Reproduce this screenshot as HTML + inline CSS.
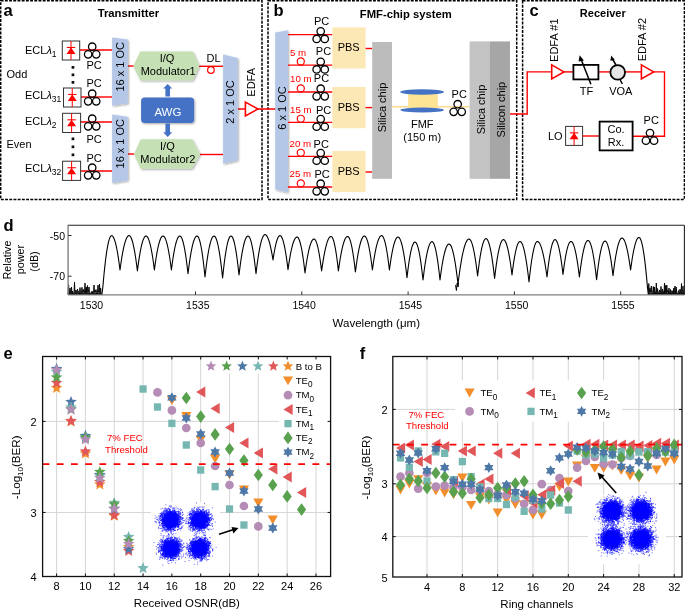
<!DOCTYPE html>
<html><head><meta charset="utf-8"><title>Figure</title>
<style>
html,body{margin:0;padding:0;background:#fff;width:685px;height:611px;overflow:hidden;}
svg{display:block;font-family:"Liberation Sans", sans-serif;opacity:0.999;}
</style></head><body>
<svg width="685" height="611" viewBox="0 0 685 611" font-family="&quot;Liberation Sans&quot;, sans-serif">
<rect x="0.7" y="0.7" width="261.3" height="198.7" fill="none" stroke="#000" stroke-width="1.5" stroke-dasharray="2.9 1.3"/>
<rect x="268" y="0.7" width="248.7" height="198.7" fill="none" stroke="#000" stroke-width="1.5" stroke-dasharray="2.9 1.3"/>
<rect x="522.6" y="0.7" width="161.8" height="198.7" fill="none" stroke="#000" stroke-width="1.5" stroke-dasharray="2.9 1.3"/>
<text x="3.6" y="16" font-size="16.5" text-anchor="start" fill="#000" font-weight="bold">a</text>
<text x="128.4" y="17" font-size="11.3" text-anchor="middle" fill="#000" font-weight="bold">Transmitter</text>
<line x1="79.7" y1="50" x2="112.2" y2="50" stroke="#ff0000" stroke-width="1.4"/>
<line x1="81" y1="97" x2="112.2" y2="97" stroke="#ff0000" stroke-width="1.4"/>
<line x1="80.6" y1="122" x2="112.2" y2="122" stroke="#ff0000" stroke-width="1.4"/>
<line x1="80.6" y1="171" x2="112.2" y2="171" stroke="#ff0000" stroke-width="1.4"/>
<line x1="127.8" y1="66" x2="134" y2="66" stroke="#ff0000" stroke-width="1.4"/>
<line x1="127.8" y1="154" x2="134" y2="154" stroke="#ff0000" stroke-width="1.4"/>
<line x1="199" y1="66.3" x2="223.2" y2="66.3" stroke="#ff0000" stroke-width="1.4"/>
<line x1="200" y1="154.5" x2="223.2" y2="154.5" stroke="#ff0000" stroke-width="1.4"/>
<line x1="237.7" y1="109" x2="276" y2="109" stroke="#ff0000" stroke-width="1.4"/>
<rect x="62.3" y="41" width="17.4" height="19" fill="#fff" stroke="#333" stroke-width="1" rx="0"/>
<line x1="71" y1="41" x2="71" y2="60" stroke="#ff0000" stroke-width="1"/>
<line x1="66.8" y1="47.46" x2="75.2" y2="47.46" stroke="#ff0000" stroke-width="1.1"/>
<polygon points="71,47.46 66.5,53.92 75.5,53.92" fill="#ff0000" stroke="none" stroke-width="1"/>
<rect x="63.5" y="88" width="17.5" height="19" fill="#fff" stroke="#333" stroke-width="1" rx="0"/>
<line x1="72.25" y1="88" x2="72.25" y2="107" stroke="#ff0000" stroke-width="1"/>
<line x1="68.05" y1="94.46" x2="76.45" y2="94.46" stroke="#ff0000" stroke-width="1.1"/>
<polygon points="72.25,94.46 67.75,100.92 76.75,100.92" fill="#ff0000" stroke="none" stroke-width="1"/>
<rect x="62.6" y="113.3" width="18" height="19.2" fill="#fff" stroke="#333" stroke-width="1" rx="0"/>
<line x1="71.6" y1="113.3" x2="71.6" y2="132.5" stroke="#ff0000" stroke-width="1"/>
<line x1="67.4" y1="119.83" x2="75.8" y2="119.83" stroke="#ff0000" stroke-width="1.1"/>
<polygon points="71.6,119.83 67.1,126.36 76.1,126.36" fill="#ff0000" stroke="none" stroke-width="1"/>
<rect x="62.6" y="161.2" width="18" height="19.2" fill="#fff" stroke="#333" stroke-width="1" rx="0"/>
<line x1="71.6" y1="161.2" x2="71.6" y2="180.4" stroke="#ff0000" stroke-width="1"/>
<line x1="67.4" y1="167.73" x2="75.8" y2="167.73" stroke="#ff0000" stroke-width="1.1"/>
<polygon points="71.6,167.73 67.1,174.26 76.1,174.26" fill="#ff0000" stroke="none" stroke-width="1"/>
<text x="25" y="53.8" font-size="11" text-anchor="start" fill="#000">ECL<tspan font-style="italic">&#955;</tspan><tspan font-size="8.5" dy="3">1</tspan></text>
<text x="25" y="99.2" font-size="11" text-anchor="start" fill="#000">ECL<tspan font-style="italic">&#955;</tspan><tspan font-size="8.5" dy="3">31</tspan></text>
<text x="25" y="125.3" font-size="11" text-anchor="start" fill="#000">ECL<tspan font-style="italic">&#955;</tspan><tspan font-size="8.5" dy="3">2</tspan></text>
<text x="25" y="171.8" font-size="11" text-anchor="start" fill="#000">ECL<tspan font-style="italic">&#955;</tspan><tspan font-size="8.5" dy="3">32</tspan></text>
<text x="6.5" y="77.8" font-size="11" text-anchor="start" fill="#000">Odd</text>
<text x="6.5" y="148.2" font-size="11" text-anchor="start" fill="#000">Even</text>
<rect x="71.6" y="66" width="2.7" height="2.7" fill="#111" stroke="none" stroke-width="1" rx="0"/>
<rect x="71.6" y="73.5" width="2.7" height="2.7" fill="#111" stroke="none" stroke-width="1" rx="0"/>
<rect x="71.6" y="81" width="2.7" height="2.7" fill="#111" stroke="none" stroke-width="1" rx="0"/>
<rect x="71.6" y="137.5" width="2.7" height="2.7" fill="#111" stroke="none" stroke-width="1" rx="0"/>
<rect x="71.6" y="145.5" width="2.7" height="2.7" fill="#111" stroke="none" stroke-width="1" rx="0"/>
<rect x="71.6" y="153.5" width="2.7" height="2.7" fill="#111" stroke="none" stroke-width="1" rx="0"/>
<circle cx="92.2" cy="46.7" r="3.7" fill="none" stroke="#000" stroke-width="1.3"/>
<circle cx="88.15" cy="54.35" r="3.7" fill="none" stroke="#000" stroke-width="1.3"/>
<circle cx="96.25" cy="54.35" r="3.7" fill="none" stroke="#000" stroke-width="1.3"/>
<circle cx="92.2" cy="93.7" r="3.7" fill="none" stroke="#000" stroke-width="1.3"/>
<circle cx="88.15" cy="101.35" r="3.7" fill="none" stroke="#000" stroke-width="1.3"/>
<circle cx="96.25" cy="101.35" r="3.7" fill="none" stroke="#000" stroke-width="1.3"/>
<circle cx="92.2" cy="118.7" r="3.7" fill="none" stroke="#000" stroke-width="1.3"/>
<circle cx="88.15" cy="126.35" r="3.7" fill="none" stroke="#000" stroke-width="1.3"/>
<circle cx="96.25" cy="126.35" r="3.7" fill="none" stroke="#000" stroke-width="1.3"/>
<circle cx="92.2" cy="167.7" r="3.7" fill="none" stroke="#000" stroke-width="1.3"/>
<circle cx="88.15" cy="175.35" r="3.7" fill="none" stroke="#000" stroke-width="1.3"/>
<circle cx="96.25" cy="175.35" r="3.7" fill="none" stroke="#000" stroke-width="1.3"/>
<text x="86.4" y="68.5" font-size="11" text-anchor="start" fill="#000">PC</text>
<text x="86.4" y="86.5" font-size="11" text-anchor="start" fill="#000">PC</text>
<text x="86.4" y="143" font-size="11" text-anchor="start" fill="#000">PC</text>
<text x="86.4" y="161.5" font-size="11" text-anchor="start" fill="#000">PC</text>
<defs><filter id="sh" x="-20%" y="-20%" width="150%" height="150%"><feGaussianBlur in="SourceAlpha" stdDeviation="0.8"/><feOffset dx="1.2" dy="1.2" result="b"/><feComponentTransfer><feFuncA type="linear" slope="0.35"/></feComponentTransfer><feMerge><feMergeNode/><feMergeNode in="SourceGraphic"/></feMerge></filter></defs>
<polygon points="112.1,37.4 127.8,39.6 127.8,103.5 112.1,105.7" fill="#b4c7e7" stroke="none" stroke-width="1" filter="url(#sh)"/>
<polygon points="112.1,114.4 127.8,116.8 127.8,180.6 112.1,183" fill="#b4c7e7" stroke="none" stroke-width="1" filter="url(#sh)"/>
<text x="120.4" y="66.8" font-size="11" text-anchor="middle" fill="#000" transform="rotate(-90 120.4 66.8)" dominant-baseline="central">16 x 1 OC</text>
<text x="120.4" y="143.7" font-size="11" text-anchor="middle" fill="#000" transform="rotate(-90 120.4 143.7)" dominant-baseline="central">16 x 1 OC</text>
<polygon points="133.2,66.05 140.4,51.5 192.8,51.5 199.3,66.05 192.8,80.6 140.4,80.6" fill="#c5e0b4" stroke="none" stroke-width="1" filter="url(#sh)"/>
<polygon points="133.9,153.95 140.8,139.2 192.1,139.2 200,153.95 192.1,168.7 140.8,168.7" fill="#c5e0b4" stroke="none" stroke-width="1" filter="url(#sh)"/>
<text x="167" y="62" font-size="11" text-anchor="middle" fill="#000">I/Q</text>
<text x="168.2" y="74.6" font-size="11" text-anchor="middle" fill="#000">Modulator1</text>
<text x="167.4" y="150.4" font-size="11" text-anchor="middle" fill="#000">I/Q</text>
<text x="167.8" y="162.5" font-size="11" text-anchor="middle" fill="#000">Modulator2</text>
<rect x="141.1" y="97.4" width="53" height="25.7" fill="#4472c4" stroke="none" stroke-width="1" rx="3.5" filter="url(#sh)"/>
<text x="167.9" y="115.7" font-size="11.5" text-anchor="middle" fill="#fff">AWG</text>
<polygon points="165.4,96.5 165.4,88.5 163.2,88.5 167.7,84 172.2,88.5 170,88.5 170,96.5" fill="#4472c4" stroke="none" stroke-width="1"/>
<polygon points="165.4,123.5 165.4,132.3 163.2,132.3 167.7,137 172.2,132.3 170,132.3 170,123.5" fill="#4472c4" stroke="none" stroke-width="1"/>
<text x="206.5" y="61.7" font-size="11" text-anchor="start" fill="#000">DL</text>
<circle cx="210.9" cy="70" r="3.3" fill="none" stroke="#ff0000" stroke-width="1.2"/>
<polygon points="223.1,54.4 237.7,58.1 237.7,160.4 223.1,163.8" fill="#b4c7e7" stroke="none" stroke-width="1" filter="url(#sh)"/>
<text x="230.4" y="102" font-size="11" text-anchor="middle" fill="#000" transform="rotate(-90 230.4 102)" dominant-baseline="central">2 x 1 OC</text>
<polygon points="245.4,102.15 258,109 245.4,115.85" fill="#fff" stroke="#ff0000" stroke-width="1.6"/>
<text x="251.4" y="82.3" font-size="11" text-anchor="middle" fill="#000" transform="rotate(-90 251.4 82.3)" dominant-baseline="central">EDFA</text>
<text x="273.4" y="15.8" font-size="16.5" text-anchor="start" fill="#000" font-weight="bold">b</text>
<text x="405.8" y="17.5" font-size="11.25" text-anchor="middle" fill="#000" font-weight="bold">FMF-chip system</text>
<polygon points="275.2,32.4 287.9,30.3 287.9,192.4 275.2,189.4" fill="#b4c7e7" stroke="none" stroke-width="1" filter="url(#sh)"/>
<text x="281.6" y="108" font-size="11" text-anchor="middle" fill="#000" transform="rotate(-90 281.6 108)" dominant-baseline="central">6 x 1 OC</text>
<line x1="287.9" y1="34.6" x2="332.4" y2="34.6" stroke="#ff0000" stroke-width="1.4"/>
<line x1="287.9" y1="65.1" x2="332.4" y2="65.1" stroke="#ff0000" stroke-width="1.4"/>
<line x1="287.9" y1="92" x2="332.4" y2="92" stroke="#ff0000" stroke-width="1.4"/>
<line x1="287.9" y1="122.4" x2="332.4" y2="122.4" stroke="#ff0000" stroke-width="1.4"/>
<line x1="287.9" y1="156.4" x2="332.4" y2="156.4" stroke="#ff0000" stroke-width="1.4"/>
<line x1="287.9" y1="187" x2="332.4" y2="187" stroke="#ff0000" stroke-width="1.4"/>
<rect x="332.4" y="27.4" width="33.2" height="41.1" fill="#fce8b4" stroke="none" stroke-width="1" rx="0"/>
<rect x="332.4" y="87" width="33.2" height="41.2" fill="#fce8b4" stroke="none" stroke-width="1" rx="0"/>
<rect x="332.4" y="150.9" width="33.2" height="41.1" fill="#fce8b4" stroke="none" stroke-width="1" rx="0"/>
<text x="348.7" y="50.9" font-size="11" text-anchor="middle" fill="#000">PBS</text>
<line x1="365.6" y1="48.5" x2="372.4" y2="48.5" stroke="#ff0000" stroke-width="1.4"/>
<text x="348.7" y="111.2" font-size="11" text-anchor="middle" fill="#000">PBS</text>
<line x1="365.6" y1="107.6" x2="372.4" y2="107.6" stroke="#ff0000" stroke-width="1.4"/>
<text x="348.7" y="175.3" font-size="11" text-anchor="middle" fill="#000">PBS</text>
<line x1="365.6" y1="172" x2="372.4" y2="172" stroke="#ff0000" stroke-width="1.4"/>
<text x="314" y="25.2" font-size="11" text-anchor="start" fill="#000">PC</text>
<text x="315.8" y="55.4" font-size="11" text-anchor="start" fill="#000">PC</text>
<text x="313.8" y="82" font-size="11" text-anchor="start" fill="#000">PC</text>
<text x="316" y="113.6" font-size="11" text-anchor="start" fill="#000">PC</text>
<text x="313.6" y="147.6" font-size="11" text-anchor="start" fill="#000">PC</text>
<text x="314.4" y="178" font-size="11" text-anchor="start" fill="#000">PC</text>
<circle cx="320.7" cy="31.3" r="3.7" fill="none" stroke="#000" stroke-width="1.3"/>
<circle cx="316.65" cy="38.95" r="3.7" fill="none" stroke="#000" stroke-width="1.3"/>
<circle cx="324.75" cy="38.95" r="3.7" fill="none" stroke="#000" stroke-width="1.3"/>
<circle cx="320.7" cy="61.8" r="3.7" fill="none" stroke="#000" stroke-width="1.3"/>
<circle cx="316.65" cy="69.45" r="3.7" fill="none" stroke="#000" stroke-width="1.3"/>
<circle cx="324.75" cy="69.45" r="3.7" fill="none" stroke="#000" stroke-width="1.3"/>
<circle cx="320.7" cy="88.7" r="3.7" fill="none" stroke="#000" stroke-width="1.3"/>
<circle cx="316.65" cy="96.35" r="3.7" fill="none" stroke="#000" stroke-width="1.3"/>
<circle cx="324.75" cy="96.35" r="3.7" fill="none" stroke="#000" stroke-width="1.3"/>
<circle cx="320.7" cy="119.1" r="3.7" fill="none" stroke="#000" stroke-width="1.3"/>
<circle cx="316.65" cy="126.75" r="3.7" fill="none" stroke="#000" stroke-width="1.3"/>
<circle cx="324.75" cy="126.75" r="3.7" fill="none" stroke="#000" stroke-width="1.3"/>
<circle cx="320.7" cy="153.1" r="3.7" fill="none" stroke="#000" stroke-width="1.3"/>
<circle cx="316.65" cy="160.75" r="3.7" fill="none" stroke="#000" stroke-width="1.3"/>
<circle cx="324.75" cy="160.75" r="3.7" fill="none" stroke="#000" stroke-width="1.3"/>
<circle cx="320.7" cy="183.7" r="3.7" fill="none" stroke="#000" stroke-width="1.3"/>
<circle cx="316.65" cy="191.35" r="3.7" fill="none" stroke="#000" stroke-width="1.3"/>
<circle cx="324.75" cy="191.35" r="3.7" fill="none" stroke="#000" stroke-width="1.3"/>
<text x="290" y="55.9" font-size="9.7" text-anchor="start" fill="#ff0000">5 m</text>
<circle cx="300.8" cy="61.5" r="3.55" fill="none" stroke="#ff0000" stroke-width="1.2"/>
<text x="290" y="82.3" font-size="9.7" text-anchor="start" fill="#ff0000">10 m</text>
<circle cx="300.8" cy="88.4" r="3.55" fill="none" stroke="#ff0000" stroke-width="1.2"/>
<text x="290" y="112.6" font-size="9.7" text-anchor="start" fill="#ff0000">15 m</text>
<circle cx="300.8" cy="118.8" r="3.55" fill="none" stroke="#ff0000" stroke-width="1.2"/>
<text x="289.6" y="146.8" font-size="9.7" text-anchor="start" fill="#ff0000">20 m</text>
<circle cx="300.8" cy="152.8" r="3.55" fill="none" stroke="#ff0000" stroke-width="1.2"/>
<text x="289.6" y="177.2" font-size="9.7" text-anchor="start" fill="#ff0000">25 m</text>
<circle cx="300.8" cy="183.4" r="3.55" fill="none" stroke="#ff0000" stroke-width="1.2"/>
<rect x="372.2" y="42" width="19.8" height="136.8" fill="#bcbcbc" stroke="none" stroke-width="1" rx="0"/>
<text x="382.3" y="107.5" font-size="11" text-anchor="middle" fill="#000" transform="rotate(-90 382.3 107.5)" dominant-baseline="central">Silica chip</text>
<line x1="391.8" y1="106.7" x2="469.6" y2="106.7" stroke="#fcd98c" stroke-width="1.6"/>
<rect x="408.2" y="93.5" width="29.6" height="15" fill="#ffe699" stroke="none" stroke-width="1" rx="0"/>
<g stroke="#f0d27a" stroke-width="0.4" stroke-opacity="0.5"><line x1="408.6" y1="94.5" x2="408.6" y2="107.5"/><line x1="410.2" y1="94.5" x2="410.2" y2="107.5"/><line x1="411.8" y1="94.5" x2="411.8" y2="107.5"/><line x1="413.4" y1="94.5" x2="413.4" y2="107.5"/><line x1="415" y1="94.5" x2="415" y2="107.5"/><line x1="416.6" y1="94.5" x2="416.6" y2="107.5"/><line x1="418.2" y1="94.5" x2="418.2" y2="107.5"/><line x1="419.8" y1="94.5" x2="419.8" y2="107.5"/><line x1="421.4" y1="94.5" x2="421.4" y2="107.5"/><line x1="423" y1="94.5" x2="423" y2="107.5"/><line x1="424.6" y1="94.5" x2="424.6" y2="107.5"/><line x1="426.2" y1="94.5" x2="426.2" y2="107.5"/><line x1="427.8" y1="94.5" x2="427.8" y2="107.5"/><line x1="429.4" y1="94.5" x2="429.4" y2="107.5"/><line x1="431" y1="94.5" x2="431" y2="107.5"/><line x1="432.6" y1="94.5" x2="432.6" y2="107.5"/><line x1="434.2" y1="94.5" x2="434.2" y2="107.5"/><line x1="435.8" y1="94.5" x2="435.8" y2="107.5"/><line x1="437.4" y1="94.5" x2="437.4" y2="107.5"/></g>
<ellipse cx="422.1" cy="92" rx="22" ry="2.8" fill="#4472c4"/>
<ellipse cx="422.2" cy="110" rx="21.8" ry="2.6" fill="#4472c4"/>
<text x="422.3" y="127.8" font-size="11" text-anchor="middle" fill="#000">FMF</text>
<text x="422.2" y="141.4" font-size="11" text-anchor="middle" fill="#000">(150 m)</text>
<circle cx="457.7" cy="104.2" r="3.7" fill="none" stroke="#000" stroke-width="1.3"/>
<circle cx="453.65" cy="111.85" r="3.7" fill="none" stroke="#000" stroke-width="1.3"/>
<circle cx="461.75" cy="111.85" r="3.7" fill="none" stroke="#000" stroke-width="1.3"/>
<text x="451.6" y="98" font-size="11" text-anchor="start" fill="#000">PC</text>
<rect x="469.6" y="41.4" width="20.4" height="137.4" fill="#c3c3c3" stroke="none" stroke-width="1" rx="0"/>
<rect x="490" y="41.4" width="20" height="137.4" fill="#a6a6a6" stroke="none" stroke-width="1" rx="0"/>
<text x="480.5" y="109.5" font-size="11" text-anchor="middle" fill="#000" transform="rotate(-90 480.5 109.5)" dominant-baseline="central">Silica chip</text>
<text x="500.6" y="109.6" font-size="11" text-anchor="middle" fill="#000" transform="rotate(-90 500.6 109.6)" dominant-baseline="central">Silicon chip</text>
<polyline points="510,114 527.2,114 527.2,71.9 551.7,71.9" fill="none" stroke="#ff0000" stroke-width="1.4"/>
<text x="529.4" y="15.8" font-size="16.5" text-anchor="start" fill="#000" font-weight="bold">c</text>
<text x="602.8" y="17.3" font-size="11" text-anchor="middle" fill="#000" font-weight="bold">Receiver</text>
<line x1="563.9" y1="71.9" x2="573.4" y2="71.9" stroke="#ff0000" stroke-width="1.4"/>
<line x1="598.4" y1="71.9" x2="610.3" y2="71.9" stroke="#ff0000" stroke-width="1.4"/>
<line x1="625.1" y1="71.9" x2="641.4" y2="71.9" stroke="#ff0000" stroke-width="1.4"/>
<polyline points="653.6,71.9 664.5,71.9 664.5,136.3 632.6,136.3" fill="none" stroke="#ff0000" stroke-width="1.4"/>
<polygon points="551.7,64.9 563.9,71.9 551.7,78.9" fill="#fff" stroke="#ff0000" stroke-width="1.6"/>
<polygon points="641.4,64.9 653.6,71.9 641.4,78.9" fill="#fff" stroke="#ff0000" stroke-width="1.6"/>
<text x="554.2" y="40.2" font-size="11" text-anchor="middle" fill="#000" transform="rotate(-90 554.2 40.2)" dominant-baseline="central">EDFA #1</text>
<text x="642.2" y="39.6" font-size="11" text-anchor="middle" fill="#000" transform="rotate(-90 642.2 39.6)" dominant-baseline="central">EDFA #2</text>
<rect x="573.4" y="64.9" width="25" height="14.5" fill="#fff" stroke="#000" stroke-width="1.8" rx="0"/>
<line x1="590.9" y1="84.2" x2="581.2" y2="59.5" stroke="#000" stroke-width="1.5"/>
<polygon points="579.6,55.3 583.9,60.6 578.6,61.4" fill="#000" stroke="none" stroke-width="1"/>
<text x="586.6" y="94.7" font-size="11" text-anchor="middle" fill="#000">TF</text>
<circle cx="617.7" cy="72.4" r="7.3" fill="#e7e6e6" stroke="#000" stroke-width="1.8"/>
<line x1="616" y1="65" x2="612.5" y2="59" stroke="#000" stroke-width="1.5"/>
<polygon points="611.2,55.6 614.8,60 610.4,60.8" fill="#000" stroke="none" stroke-width="1"/>
<line x1="620.2" y1="80" x2="622.4" y2="84" stroke="#000" stroke-width="1.5"/>
<text x="620.8" y="94.7" font-size="11" text-anchor="middle" fill="#000">VOA</text>
<rect x="565.6" y="126.4" width="17" height="19" fill="#fff" stroke="#333" stroke-width="1" rx="0"/>
<line x1="574.1" y1="126.4" x2="574.1" y2="145.4" stroke="#ff0000" stroke-width="1"/>
<line x1="569.9" y1="132.86" x2="578.3" y2="132.86" stroke="#ff0000" stroke-width="1.1"/>
<polygon points="574.1,132.86 569.6,139.32 578.6,139.32" fill="#ff0000" stroke="none" stroke-width="1"/>
<text x="548" y="140.2" font-size="11" text-anchor="start" fill="#000">LO</text>
<line x1="582.6" y1="136" x2="599.6" y2="136" stroke="#ff0000" stroke-width="1.4"/>
<rect x="599.6" y="121.6" width="33" height="28.8" fill="#fff" stroke="#000" stroke-width="1.8" rx="0"/>
<text x="616.1" y="133.1" font-size="11" text-anchor="middle" fill="#000">Co.</text>
<text x="616.1" y="145.6" font-size="11" text-anchor="middle" fill="#000">Rx.</text>
<circle cx="650" cy="133" r="3.7" fill="none" stroke="#000" stroke-width="1.3"/>
<circle cx="645.95" cy="140.65" r="3.7" fill="none" stroke="#000" stroke-width="1.3"/>
<circle cx="654.05" cy="140.65" r="3.7" fill="none" stroke="#000" stroke-width="1.3"/>
<text x="643.6" y="124.2" font-size="11" text-anchor="start" fill="#000">PC</text>
<text x="3.6" y="230.8" font-size="16.5" text-anchor="start" fill="#000" font-weight="bold">d</text>
<path d="M101.8 294.9 L102.78 287.76 L103.76 276.82 L104.74 267.16 L105.72 258.78 L106.7 251.7 L107.68 245.9 L108.66 241.4 L109.64 238.18 L110.62 236.24 L111.6 235.6 L112.44 235.94 L113.28 236.98 L114.12 238.7 L114.96 241.1 L115.8 244.2 L116.64 247.98 L117.48 252.46 L118.32 257.62 L119.16 263.46 L120 270 L120 270 L120.9 263.46 L121.8 257.62 L122.7 252.46 L123.6 247.98 L124.5 244.2 L125.4 241.1 L126.3 238.7 L127.2 236.98 L128.1 235.94 L129 235.6 L129.84 235.95 L130.68 237.02 L131.52 238.79 L132.36 241.26 L133.2 244.45 L134.04 248.34 L134.88 252.95 L135.72 258.26 L136.56 264.27 L137.4 271 L137.4 271 L138.26 264.35 L139.12 258.4 L139.98 253.15 L140.84 248.6 L141.7 244.75 L142.56 241.6 L143.42 239.15 L144.28 237.4 L145.14 236.35 L146 236 L146.84 236.34 L147.68 237.36 L148.52 239.06 L149.36 241.44 L150.2 244.5 L151.04 248.24 L151.88 252.66 L152.72 257.76 L153.56 263.54 L154.4 270 L154.4 270 L155.26 263.54 L156.12 257.76 L156.98 252.66 L157.84 248.24 L158.7 244.5 L159.56 241.44 L160.42 239.06 L161.28 237.36 L162.14 236.34 L163 236 L163.84 236.34 L164.68 237.36 L165.52 239.06 L166.36 241.44 L167.2 244.5 L168.04 248.24 L168.88 252.66 L169.72 257.76 L170.56 263.54 L171.4 270 L171.4 270 L172.24 263.54 L173.08 257.76 L173.92 252.66 L174.76 248.24 L175.6 244.5 L176.44 241.44 L177.28 239.06 L178.12 237.36 L178.96 236.34 L179.8 236 L180.62 236.38 L181.44 237.5 L182.26 239.38 L183.08 242.02 L183.9 245.4 L184.72 249.54 L185.54 254.42 L186.36 260.06 L187.18 266.46 L188 273.6 L188 273.6 L188.9 266.46 L189.8 260.06 L190.7 254.42 L191.6 249.54 L192.5 245.4 L193.4 242.02 L194.3 239.38 L195.2 237.5 L196.1 236.38 L197 236 L197.8 236.41 L198.6 237.64 L199.4 239.69 L200.2 242.56 L201 246.25 L201.8 250.76 L202.6 256.09 L203.4 262.24 L204.2 269.21 L205 277 L205 277 L205.9 269.21 L206.8 262.24 L207.7 256.09 L208.6 250.76 L209.5 246.25 L210.4 242.56 L211.3 239.69 L212.2 237.64 L213.1 236.41 L214 236 L214.86 236.42 L215.72 237.68 L216.58 239.78 L217.44 242.72 L218.3 246.5 L219.16 251.12 L220.02 256.58 L220.88 262.88 L221.74 270.02 L222.6 278 L222.6 278 L223.44 270.02 L224.28 262.88 L225.12 256.58 L225.96 251.12 L226.8 246.5 L227.64 242.72 L228.48 239.78 L229.32 237.68 L230.16 236.42 L231 236 L231.8 236.39 L232.6 237.56 L233.4 239.51 L234.2 242.24 L235 245.75 L235.8 250.04 L236.6 255.11 L237.4 260.96 L238.2 267.59 L239 275 L239 275 L239.9 267.59 L240.8 260.96 L241.7 255.11 L242.6 250.04 L243.5 245.75 L244.4 242.24 L245.3 239.51 L246.2 237.56 L247.1 236.39 L248 236 L248.8 236.38 L249.6 237.5 L250.4 239.38 L251.2 242.02 L252 245.4 L252.8 249.54 L253.6 254.42 L254.4 260.06 L255.2 266.46 L256 273.6 L256 273.6 L256.9 266.19 L257.8 259.56 L258.7 253.71 L259.6 248.64 L260.5 244.35 L261.4 240.84 L262.3 238.11 L263.2 236.16 L264.1 234.99 L265 234.6 L265.8 234.85 L266.6 235.62 L267.4 236.89 L268.2 238.66 L269 240.95 L269.8 243.74 L270.6 247.05 L271.4 250.86 L272.2 255.17 L273 260 L273 260 L273.7 255.36 L274.4 251.22 L275.1 247.56 L275.8 244.38 L276.5 241.7 L277.2 239.5 L277.9 237.8 L278.6 236.58 L279.3 235.84 L280 235.6 L280.8 235.94 L281.6 236.96 L282.4 238.66 L283.2 241.04 L284 244.1 L284.8 247.84 L285.6 252.26 L286.4 257.36 L287.2 263.14 L288 269.6 L288 269.6 L288.9 263.41 L289.8 257.86 L290.7 252.97 L291.6 248.74 L292.5 245.15 L293.4 242.22 L294.3 239.93 L295.2 238.3 L296.1 237.33 L297 237 L297.8 237.36 L298.6 238.44 L299.4 240.24 L300.2 242.76 L301 246 L301.8 249.96 L302.6 254.64 L303.4 260.04 L304.2 266.16 L305 273 L305 273 L305.9 266.54 L306.8 260.76 L307.7 255.66 L308.6 251.24 L309.5 247.5 L310.4 244.44 L311.3 242.06 L312.2 240.36 L313.1 239.34 L314 239 L314.76 239.32 L315.52 240.28 L316.28 241.88 L317.04 244.12 L317.8 247 L318.56 250.52 L319.32 254.68 L320.08 259.48 L320.84 264.92 L321.6 271 L321.6 271 L322.54 264.43 L323.48 258.54 L324.42 253.35 L325.36 248.86 L326.3 245.05 L327.24 241.94 L328.18 239.51 L329.12 237.78 L330.06 236.75 L331 236.4 L331.74 236.75 L332.48 237.78 L333.22 239.51 L333.96 241.94 L334.7 245.05 L335.44 248.86 L336.18 253.35 L336.92 258.54 L337.66 264.43 L338.4 271 L338.4 271 L339.32 264.43 L340.24 258.54 L341.16 253.35 L342.08 248.86 L343 245.05 L343.92 241.94 L344.84 239.51 L345.76 237.78 L346.68 236.75 L347.6 236.4 L348.38 236.76 L349.16 237.82 L349.94 239.6 L350.72 242.1 L351.5 245.3 L352.28 249.22 L353.06 253.84 L353.84 259.18 L354.62 265.24 L355.4 272 L355.4 272 L356.3 265.16 L357.2 259.04 L358.1 253.64 L359 248.96 L359.9 245 L360.8 241.76 L361.7 239.24 L362.6 237.44 L363.5 236.36 L364.4 236 L365.2 236.34 L366 237.36 L366.8 239.06 L367.6 241.44 L368.4 244.5 L369.2 248.24 L370 252.66 L370.8 257.76 L371.6 263.54 L372.4 270 L372.4 270 L373.32 263.46 L374.24 257.62 L375.16 252.46 L376.08 247.98 L377 244.2 L377.92 241.1 L378.84 238.7 L379.76 236.98 L380.68 235.94 L381.6 235.6 L382.38 235.94 L383.16 236.98 L383.94 238.7 L384.72 241.1 L385.5 244.2 L386.28 247.98 L387.06 252.46 L387.84 257.62 L388.62 263.46 L389.4 270 L389.4 270 L390.26 263.73 L391.12 258.12 L391.98 253.17 L392.84 248.88 L393.7 245.25 L394.56 242.28 L395.42 239.97 L396.28 238.32 L397.14 237.33 L398 237 L398.9 237.41 L399.8 238.62 L400.7 240.65 L401.6 243.5 L402.5 247.15 L403.4 251.62 L404.3 256.89 L405.2 262.98 L406.1 269.89 L407 277.6 L407 277.6 L407.8 270.84 L408.6 264.78 L409.4 259.44 L410.2 254.82 L411 250.9 L411.8 247.7 L412.6 245.2 L413.4 243.42 L414.2 242.36 L415 242 L415.8 242.38 L416.6 243.52 L417.4 245.42 L418.2 248.08 L419 251.5 L419.8 255.68 L420.6 260.62 L421.4 266.32 L422.2 272.78 L423 280 L423 280 L423.9 272.7 L424.8 266.18 L425.7 260.42 L426.6 255.42 L427.5 251.2 L428.4 247.74 L429.3 245.06 L430.2 243.14 L431.1 241.98 L432 241.6 L432.8 241.98 L433.6 243.14 L434.4 245.06 L435.2 247.74 L436 251.2 L436.8 255.42 L437.6 260.42 L438.4 266.18 L439.2 272.7 L440 280 L440 280 L440.9 273.16 L441.8 267.04 L442.7 261.64 L443.6 256.96 L444.5 253 L445.4 249.76 L446.3 247.24 L447.2 245.44 L448.1 244.36 L449 244 L449.9 244.4 L450.8 245.6 L451.7 247.6 L452.6 250.4 L453.5 254 L454.4 258.4 L455.3 263.6 L456.2 269.6 L457.1 276.4 L458 284 L458 284 L459.1 275.45 L460.2 267.8 L461.3 261.05 L462.4 255.2 L463.5 250.25 L464.6 246.2 L465.7 243.05 L466.8 240.8 L467.9 239.45 L469 239 L469.86 239.37 L470.72 240.48 L471.58 242.33 L472.44 244.92 L473.3 248.25 L474.16 252.32 L475.02 257.13 L475.88 262.68 L476.74 268.97 L477.6 276 L477.6 276 L478.44 268.89 L479.28 262.54 L480.12 256.93 L480.96 252.06 L481.8 247.95 L482.64 244.58 L483.48 241.97 L484.32 240.1 L485.16 238.97 L486 238.6 L486.86 239 L487.72 240.19 L488.58 242.18 L489.44 244.97 L490.3 248.55 L491.16 252.93 L492.02 258.1 L492.88 264.07 L493.74 270.84 L494.6 278.4 L494.6 278.4 L495.48 271.03 L496.36 264.43 L497.24 258.61 L498.12 253.57 L499 249.3 L499.88 245.81 L500.76 243.09 L501.64 241.15 L502.52 239.99 L503.4 239.6 L504.26 239.95 L505.12 241.02 L505.98 242.79 L506.84 245.26 L507.7 248.45 L508.56 252.34 L509.42 256.95 L510.28 262.26 L511.14 268.27 L512 275 L512 275 L512.8 268.62 L513.6 262.9 L514.4 257.86 L515.2 253.5 L516 249.8 L516.8 246.78 L517.6 244.42 L518.4 242.74 L519.2 241.74 L520 241.4 L520.9 241.81 L521.8 243.02 L522.7 245.05 L523.6 247.9 L524.5 251.55 L525.4 256.02 L526.3 261.29 L527.2 267.38 L528.1 274.29 L529 282 L529 282 L529.84 274.29 L530.68 267.38 L531.52 261.29 L532.36 256.02 L533.2 251.55 L534.04 247.9 L534.88 245.05 L535.72 243.02 L536.56 241.81 L537.4 241.4 L538.36 241.76 L539.32 242.82 L540.28 244.6 L541.24 247.1 L542.2 250.3 L543.16 254.22 L544.12 258.84 L545.08 264.18 L546.04 270.24 L547 277 L547 277 L547.8 269.89 L548.6 263.54 L549.4 257.93 L550.2 253.06 L551 248.95 L551.8 245.58 L552.6 242.97 L553.4 241.1 L554.2 239.97 L555 239.6 L555.8 239.95 L556.6 240.99 L557.4 242.73 L558.2 245.17 L559 248.3 L559.8 252.13 L560.6 256.65 L561.4 261.87 L562.2 267.79 L563 274.4 L563 274.4 L563.8 268.13 L564.6 262.52 L565.4 257.57 L566.2 253.28 L567 249.65 L567.8 246.68 L568.6 244.37 L569.4 242.72 L570.2 241.73 L571 241.4 L571.84 241.76 L572.68 242.82 L573.52 244.6 L574.36 247.1 L575.2 250.3 L576.04 254.22 L576.88 258.84 L577.72 264.18 L578.56 270.24 L579.4 277 L579.4 277 L580.26 270.05 L581.12 263.82 L581.98 258.33 L582.84 253.58 L583.7 249.55 L584.56 246.26 L585.42 243.69 L586.28 241.86 L587.14 240.77 L588 240.4 L588.86 240.79 L589.72 241.97 L590.58 243.93 L591.44 246.67 L592.3 250.2 L593.16 254.51 L594.02 259.61 L594.88 265.49 L595.74 272.15 L596.6 279.6 L596.6 279.6 L597.44 272.27 L598.28 265.7 L599.12 259.91 L599.96 254.9 L600.8 250.65 L601.64 247.18 L602.48 244.47 L603.32 242.54 L604.16 241.39 L605 241 L605.8 241.35 L606.6 242.38 L607.4 244.11 L608.2 246.54 L609 249.65 L609.8 253.46 L610.6 257.95 L611.4 263.14 L612.2 269.03 L613 275.6 L613 275.6 L613.9 268.46 L614.8 262.06 L615.7 256.42 L616.6 251.54 L617.5 247.4 L618.4 244.02 L619.3 241.38 L620.2 239.5 L621.1 238.38 L622 238 L622.86 238.32 L623.72 239.28 L624.58 240.88 L625.44 243.12 L626.3 246 L627.16 249.52 L628.02 253.68 L628.88 258.48 L629.74 263.92 L630.6 270 L630.6 270 L631.44 263.81 L632.28 258.26 L633.12 253.37 L633.96 249.14 L634.8 245.55 L635.64 242.62 L636.48 240.33 L637.32 238.7 L638.16 237.73 L639 237.4 L639.95 238.03 L640.9 239.9 L641.85 243.03 L642.8 247.42 L643.75 253.05 L644.7 259.94 L645.65 268.07 L646.6 277.46 L647.55 288.11 L648.5 294.9" fill="none" stroke="#000" stroke-width="1.1" stroke-linejoin="round"/>
<path d="M455.6 285 L456.4 290.5 L457.2 283 L458 287 L458.6 282.5" fill="none" stroke="#000" stroke-width="1"/>
<path d="M68.3 294.9 L68.1 293.42 L68.6 284.6 L69.1 292.81 L69.5 293.16 L70 288 L70.5 292.69 L71 292.65 L71.5 287 L72 293.77 L72.41 291.05 L72.91 293.46 L73.71 292.52 L74 292.23 L74.5 282.2 L75 292.95 L75.5 292.62 L76 290 L76.5 293.6 L77 292.63 L77.5 289 L78 292.16 L78.61 291.43 L79.28 294.14 L79.5 292.38 L80 287.6 L80.5 292.72 L81.02 294.28 L81.5 292.17 L82 287.3 L82.5 292.95 L83 292.46 L83.5 289.5 L84 292.14 L84.5 292.47 L85 283 L85.5 292.06 L85.8 293.11 L86.3 287 L86.8 292.3 L87 293.01 L87.5 285.5 L88 292.03 L88.5 292.14 L89 287 L89.5 293.71 L89.95 293.53 L90.74 292.66 L91.39 293.2 L91.5 292.89 L92 291 L92.5 293.13 L93.04 292.06 L93.5 292.73 L94 285 L94.5 292.09 L95.17 290.68 L95.5 292.19 L96 289.5 L96.5 291.92 L97.17 293.75 L97.5 292.18 L98 285 L98.5 291.97 L99 292.09 L99.5 284 L100 292.76 L100.1 292.47 L100.6 288 L101.1 293.48 L101.6 294.9" fill="#000" fill-opacity="0.6" stroke="#000" stroke-width="0.9" stroke-linejoin="round"/>
<rect x="68.3" y="293.3" width="33.3" height="1.6" fill="#000" stroke="none" stroke-width="1" rx="0"/>
<path d="M648.4 294.9 L648.3 292.65 L648.8 283.5 L649.3 292.42 L649.5 292.31 L650 288 L650.5 292.02 L650.8 292.42 L651.3 286 L651.8 292.06 L652.21 292.54 L652.99 291.8 L652.8 292.1 L653.3 286.5 L653.8 293.67 L654 292.96 L654.5 287 L655 293.41 L655.62 292.1 L655.8 293.87 L656.3 283 L656.8 293.47 L657 293.34 L657.5 288.5 L658 292.07 L658.71 293.76 L659 292.31 L659.5 290 L660 293.62 L660.5 292.67 L661 286.5 L661.5 293.65 L662 293.9 L662.5 289 L663 292.16 L663.48 293.54 L664.28 290.91 L664 293.32 L664.5 283 L665 291.98 L665.1 292.82 L665.6 285.5 L666.1 292.54 L666.3 293.49 L666.8 285 L667.3 292.02 L667.98 290.53 L668.73 293.2 L668.5 293.18 L669 288 L669.5 293.57 L670 293.61 L670.5 289.5 L671 293.77 L671.5 293.3 L672 290.5 L672.5 292.69 L672.9 291.69 L673.3 293.22 L673.8 288 L674.3 293.28 L674.5 292.26 L675 286 L675.5 292.94 L675.7 293.27 L676.2 287 L676.7 292.94 L677.38 294.17 L678.17 294.31 L678 292.4 L678.5 290.5 L679 292.21 L679.5 293.86 L680 289 L680.5 292.32 L681 293.17 L681.5 283.5 L682 292.74 L682.5 293.88 L683 286 L683.5 293.81 L684 294.9" fill="#000" fill-opacity="0.6" stroke="#000" stroke-width="0.9" stroke-linejoin="round"/>
<rect x="648.4" y="293.3" width="35.6" height="1.6" fill="#000" stroke="none" stroke-width="1" rx="0"/>
<line x1="68.1" y1="225.2" x2="684.4" y2="225.2" stroke="#222" stroke-width="1.1"/>
<line x1="684.4" y1="225.2" x2="684.4" y2="294.9" stroke="#222" stroke-width="1.1"/>
<line x1="68.1" y1="224.7" x2="68.1" y2="294.9" stroke="#808080" stroke-width="1.4"/>
<line x1="68.1" y1="294.9" x2="684.4" y2="294.9" stroke="#808080" stroke-width="1.4"/>
<line x1="68.1" y1="235.5" x2="71.6" y2="235.5" stroke="#333" stroke-width="1"/>
<line x1="68.1" y1="276.2" x2="71.6" y2="276.2" stroke="#333" stroke-width="1"/>
<text x="65" y="239.6" font-size="10.5" text-anchor="end" fill="#000">-50</text>
<text x="65" y="280.2" font-size="10.5" text-anchor="end" fill="#000">-70</text>
<line x1="89.2" y1="294.9" x2="89.2" y2="291.4" stroke="#333" stroke-width="1"/>
<text x="91.5" y="309.4" font-size="10.5" text-anchor="middle" fill="#000">1530</text>
<line x1="195.5" y1="294.9" x2="195.5" y2="291.4" stroke="#333" stroke-width="1"/>
<text x="197.8" y="309.4" font-size="10.5" text-anchor="middle" fill="#000">1535</text>
<line x1="301.8" y1="294.9" x2="301.8" y2="291.4" stroke="#333" stroke-width="1"/>
<text x="304.1" y="309.4" font-size="10.5" text-anchor="middle" fill="#000">1540</text>
<line x1="408.1" y1="294.9" x2="408.1" y2="291.4" stroke="#333" stroke-width="1"/>
<text x="410.4" y="309.4" font-size="10.5" text-anchor="middle" fill="#000">1545</text>
<line x1="514.4" y1="294.9" x2="514.4" y2="291.4" stroke="#333" stroke-width="1"/>
<text x="516.7" y="309.4" font-size="10.5" text-anchor="middle" fill="#000">1550</text>
<line x1="620.7" y1="294.9" x2="620.7" y2="291.4" stroke="#333" stroke-width="1"/>
<text x="623" y="309.4" font-size="10.5" text-anchor="middle" fill="#000">1555</text>
<text x="376.3" y="326.5" font-size="11.5" text-anchor="middle" fill="#000">Wavelength (&#956;m)</text>
<text x="10.8" y="260" font-size="10.8" text-anchor="middle" fill="#000" transform="rotate(-90 10.8 260)">Relative</text>
<text x="23.6" y="259.6" font-size="10.8" text-anchor="middle" fill="#000" transform="rotate(-90 23.6 259.6)">power</text>
<text x="38" y="261.5" font-size="10.8" text-anchor="middle" fill="#000" transform="rotate(-90 38 261.5)">(dB)</text>
<defs><radialGradient id="cg"><stop offset="0" stop-color="#0000ff"/><stop offset="0.6" stop-color="#0000ff"/><stop offset="1" stop-color="#0000ff" stop-opacity="0"/></radialGradient></defs>
<text x="3.6" y="359.2" font-size="16.5" text-anchor="start" fill="#000" font-weight="bold">e</text>
<line x1="56.6" y1="356.5" x2="56.6" y2="576.5" stroke="#d6d6d6" stroke-width="1"/>
<line x1="85.42" y1="356.5" x2="85.42" y2="576.5" stroke="#d6d6d6" stroke-width="1"/>
<line x1="114.24" y1="356.5" x2="114.24" y2="576.5" stroke="#d6d6d6" stroke-width="1"/>
<line x1="143.06" y1="356.5" x2="143.06" y2="576.5" stroke="#d6d6d6" stroke-width="1"/>
<line x1="171.88" y1="356.5" x2="171.88" y2="576.5" stroke="#d6d6d6" stroke-width="1"/>
<line x1="200.7" y1="356.5" x2="200.7" y2="576.5" stroke="#d6d6d6" stroke-width="1"/>
<line x1="229.52" y1="356.5" x2="229.52" y2="576.5" stroke="#d6d6d6" stroke-width="1"/>
<line x1="258.34" y1="356.5" x2="258.34" y2="576.5" stroke="#d6d6d6" stroke-width="1"/>
<line x1="287.16" y1="356.5" x2="287.16" y2="576.5" stroke="#d6d6d6" stroke-width="1"/>
<line x1="315.98" y1="356.5" x2="315.98" y2="576.5" stroke="#d6d6d6" stroke-width="1"/>
<line x1="42.6" y1="421.4" x2="330.6" y2="421.4" stroke="#d6d6d6" stroke-width="1"/>
<line x1="42.6" y1="512.44" x2="330.6" y2="512.44" stroke="#d6d6d6" stroke-width="1"/>
<rect x="203" y="357.5" width="126.5" height="16" fill="#fff" stroke="none" stroke-width="1" rx="0"/>
<rect x="279" y="357.5" width="50.5" height="103" fill="#fff" stroke="none" stroke-width="1" rx="0"/>
<rect x="151" y="502" width="69" height="74" fill="#fff" stroke="none" stroke-width="1" rx="0"/>
<text x="124.9" y="440.8" font-size="9.6" text-anchor="middle" fill="#ff0000">7% FEC</text>
<text x="126.4" y="452.6" font-size="9.6" text-anchor="middle" fill="#ff0000">Threshold</text>
<polygon points="56.6,381.9 58.18,385.83 62.4,386.11 59.15,388.83 60.19,392.94 56.6,390.68 53.01,392.94 54.05,388.83 50.8,386.11 55.02,385.83" fill="#f28e2b" stroke="none" stroke-width="1"/>
<polygon points="56.6,376.9 58.18,380.83 62.4,381.11 59.15,383.83 60.19,387.94 56.6,385.68 53.01,387.94 54.05,383.83 50.8,381.11 55.02,380.83" fill="#e15759" stroke="none" stroke-width="1"/>
<polygon points="56.6,362.7 58.18,366.63 62.4,366.91 59.15,369.63 60.19,373.74 56.6,371.48 53.01,373.74 54.05,369.63 50.8,366.91 55.02,366.63" fill="#4e79a7" stroke="none" stroke-width="1"/>
<polygon points="56.6,365.9 58.18,369.83 62.4,370.11 59.15,372.83 60.19,376.94 56.6,374.68 53.01,376.94 54.05,372.83 50.8,370.11 55.02,369.83" fill="#76b7b2" stroke="none" stroke-width="1"/>
<polygon points="56.6,371.3 58.18,375.23 62.4,375.51 59.15,378.23 60.19,382.34 56.6,380.08 53.01,382.34 54.05,378.23 50.8,375.51 55.02,375.23" fill="#59a14f" stroke="none" stroke-width="1"/>
<polygon points="56.6,363.7 58.18,367.63 62.4,367.91 59.15,370.63 60.19,374.74 56.6,372.48 53.01,374.74 54.05,370.63 50.8,367.91 55.02,367.63" fill="#b48cb6" stroke="none" stroke-width="1"/>
<polygon points="71.01,415.4 72.59,419.33 76.81,419.61 73.56,422.33 74.6,426.44 71.01,424.18 67.42,426.44 68.46,422.33 65.21,419.61 69.43,419.33" fill="#f28e2b" stroke="none" stroke-width="1"/>
<polygon points="71.01,414.9 72.59,418.83 76.81,419.11 73.56,421.83 74.6,425.94 71.01,423.68 67.42,425.94 68.46,421.83 65.21,419.11 69.43,418.83" fill="#e15759" stroke="none" stroke-width="1"/>
<polygon points="71.01,395.9 72.59,399.83 76.81,400.11 73.56,402.83 74.6,406.94 71.01,404.68 67.42,406.94 68.46,402.83 65.21,400.11 69.43,399.83" fill="#4e79a7" stroke="none" stroke-width="1"/>
<polygon points="71.01,401.4 72.59,405.33 76.81,405.61 73.56,408.33 74.6,412.44 71.01,410.18 67.42,412.44 68.46,408.33 65.21,405.61 69.43,405.33" fill="#76b7b2" stroke="none" stroke-width="1"/>
<polygon points="71.01,403.4 72.59,407.33 76.81,407.61 73.56,410.33 74.6,414.44 71.01,412.18 67.42,414.44 68.46,410.33 65.21,407.61 69.43,407.33" fill="#59a14f" stroke="none" stroke-width="1"/>
<polygon points="71.01,403.4 72.59,407.33 76.81,407.61 73.56,410.33 74.6,414.44 71.01,412.18 67.42,414.44 68.46,410.33 65.21,407.61 69.43,407.33" fill="#b48cb6" stroke="none" stroke-width="1"/>
<polygon points="85.42,447.4 87,451.33 91.22,451.61 87.97,454.33 89.01,458.44 85.42,456.18 81.83,458.44 82.87,454.33 79.62,451.61 83.84,451.33" fill="#f28e2b" stroke="none" stroke-width="1"/>
<polygon points="85.42,445.4 87,449.33 91.22,449.61 87.97,452.33 89.01,456.44 85.42,454.18 81.83,456.44 82.87,452.33 79.62,449.61 83.84,449.33" fill="#e15759" stroke="none" stroke-width="1"/>
<polygon points="85.42,429.7 87,433.63 91.22,433.91 87.97,436.63 89.01,440.74 85.42,438.48 81.83,440.74 82.87,436.63 79.62,433.91 83.84,433.63" fill="#4e79a7" stroke="none" stroke-width="1"/>
<polygon points="85.42,431.9 87,435.83 91.22,436.11 87.97,438.83 89.01,442.94 85.42,440.68 81.83,442.94 82.87,438.83 79.62,436.11 83.84,435.83" fill="#76b7b2" stroke="none" stroke-width="1"/>
<polygon points="85.42,431.4 87,435.33 91.22,435.61 87.97,438.33 89.01,442.44 85.42,440.18 81.83,442.44 82.87,438.33 79.62,435.61 83.84,435.33" fill="#59a14f" stroke="none" stroke-width="1"/>
<polygon points="85.42,433.4 87,437.33 91.22,437.61 87.97,440.33 89.01,444.44 85.42,442.18 81.83,444.44 82.87,440.33 79.62,437.61 83.84,437.33" fill="#b48cb6" stroke="none" stroke-width="1"/>
<polygon points="99.83,478.4 101.41,482.33 105.63,482.61 102.38,485.33 103.42,489.44 99.83,487.18 96.24,489.44 97.28,485.33 94.03,482.61 98.25,482.33" fill="#f28e2b" stroke="none" stroke-width="1"/>
<polygon points="99.83,475.9 101.41,479.83 105.63,480.11 102.38,482.83 103.42,486.94 99.83,484.68 96.24,486.94 97.28,482.83 94.03,480.11 98.25,479.83" fill="#e15759" stroke="none" stroke-width="1"/>
<polygon points="99.83,468.9 101.41,472.83 105.63,473.11 102.38,475.83 103.42,479.94 99.83,477.68 96.24,479.94 97.28,475.83 94.03,473.11 98.25,472.83" fill="#4e79a7" stroke="none" stroke-width="1"/>
<polygon points="99.83,469.9 101.41,473.83 105.63,474.11 102.38,476.83 103.42,480.94 99.83,478.68 96.24,480.94 97.28,476.83 94.03,474.11 98.25,473.83" fill="#76b7b2" stroke="none" stroke-width="1"/>
<polygon points="99.83,465.9 101.41,469.83 105.63,470.11 102.38,472.83 103.42,476.94 99.83,474.68 96.24,476.94 97.28,472.83 94.03,470.11 98.25,469.83" fill="#59a14f" stroke="none" stroke-width="1"/>
<polygon points="99.83,471.9 101.41,475.83 105.63,476.11 102.38,478.83 103.42,482.94 99.83,480.68 96.24,482.94 97.28,478.83 94.03,476.11 98.25,475.83" fill="#b48cb6" stroke="none" stroke-width="1"/>
<polygon points="114.24,509.7 115.82,513.63 120.04,513.91 116.79,516.63 117.83,520.74 114.24,518.48 110.65,520.74 111.69,516.63 108.44,513.91 112.66,513.63" fill="#f28e2b" stroke="none" stroke-width="1"/>
<polygon points="114.24,509.1 115.82,513.03 120.04,513.31 116.79,516.03 117.83,520.14 114.24,517.88 110.65,520.14 111.69,516.03 108.44,513.31 112.66,513.03" fill="#e15759" stroke="none" stroke-width="1"/>
<polygon points="114.24,502.9 115.82,506.83 120.04,507.11 116.79,509.83 117.83,513.94 114.24,511.68 110.65,513.94 111.69,509.83 108.44,507.11 112.66,506.83" fill="#4e79a7" stroke="none" stroke-width="1"/>
<polygon points="114.24,496.9 115.82,500.83 120.04,501.11 116.79,503.83 117.83,507.94 114.24,505.68 110.65,507.94 111.69,503.83 108.44,501.11 112.66,500.83" fill="#76b7b2" stroke="none" stroke-width="1"/>
<polygon points="114.24,498.4 115.82,502.33 120.04,502.61 116.79,505.33 117.83,509.44 114.24,507.18 110.65,509.44 111.69,505.33 108.44,502.61 112.66,502.33" fill="#59a14f" stroke="none" stroke-width="1"/>
<polygon points="114.24,502.5 115.82,506.43 120.04,506.71 116.79,509.43 117.83,513.54 114.24,511.28 110.65,513.54 111.69,509.43 108.44,506.71 112.66,506.43" fill="#b48cb6" stroke="none" stroke-width="1"/>
<polygon points="128.65,540.9 130.23,544.83 134.45,545.11 131.2,547.83 132.24,551.94 128.65,549.68 125.06,551.94 126.1,547.83 122.85,545.11 127.07,544.83" fill="#f28e2b" stroke="none" stroke-width="1"/>
<polygon points="128.65,544.9 130.23,548.83 134.45,549.11 131.2,551.83 132.24,555.94 128.65,553.68 125.06,555.94 126.1,551.83 122.85,549.11 127.07,548.83" fill="#e15759" stroke="none" stroke-width="1"/>
<polygon points="128.65,542.9 130.23,546.83 134.45,547.11 131.2,549.83 132.24,553.94 128.65,551.68 125.06,553.94 126.1,549.83 122.85,547.11 127.07,546.83" fill="#4e79a7" stroke="none" stroke-width="1"/>
<polygon points="128.65,530.9 130.23,534.83 134.45,535.11 131.2,537.83 132.24,541.94 128.65,539.68 125.06,541.94 126.1,537.83 122.85,535.11 127.07,534.83" fill="#76b7b2" stroke="none" stroke-width="1"/>
<polygon points="128.65,534.9 130.23,538.83 134.45,539.11 131.2,541.83 132.24,545.94 128.65,543.68 125.06,545.94 126.1,541.83 122.85,539.11 127.07,538.83" fill="#59a14f" stroke="none" stroke-width="1"/>
<polygon points="128.65,537.9 130.23,541.83 134.45,542.11 131.2,544.83 132.24,548.94 128.65,546.68 125.06,548.94 126.1,544.83 122.85,542.11 127.07,541.83" fill="#b48cb6" stroke="none" stroke-width="1"/>
<polygon points="143.06,562.1 144.64,566.03 148.86,566.31 145.61,569.03 146.65,573.14 143.06,570.88 139.47,573.14 140.51,569.03 137.26,566.31 141.48,566.03" fill="#76b7b2" stroke="none" stroke-width="1"/>
<polygon points="166.78,396.2 176.98,396.2 171.88,405" fill="#f28e2b" stroke="none" stroke-width="1"/>
<polygon points="181.19,412.1 191.39,412.1 186.29,420.9" fill="#f28e2b" stroke="none" stroke-width="1"/>
<polygon points="195.6,435.6 205.8,435.6 200.7,444.4" fill="#f28e2b" stroke="none" stroke-width="1"/>
<polygon points="210.01,454.6 220.21,454.6 215.11,463.4" fill="#f28e2b" stroke="none" stroke-width="1"/>
<polygon points="224.42,470.6 234.62,470.6 229.52,479.4" fill="#f28e2b" stroke="none" stroke-width="1"/>
<polygon points="238.83,485.6 249.03,485.6 243.93,494.4" fill="#f28e2b" stroke="none" stroke-width="1"/>
<polygon points="253.24,498.6 263.44,498.6 258.34,507.4" fill="#f28e2b" stroke="none" stroke-width="1"/>
<polygon points="267.65,515.6 277.85,515.6 272.75,524.4" fill="#f28e2b" stroke="none" stroke-width="1"/>
<circle cx="157.47" cy="392.4" r="4.35" fill="#b48cb6"/>
<circle cx="171.88" cy="410.4" r="4.35" fill="#b48cb6"/>
<circle cx="186.29" cy="428" r="4.35" fill="#b48cb6"/>
<circle cx="200.7" cy="443" r="4.35" fill="#b48cb6"/>
<circle cx="215.11" cy="466" r="4.35" fill="#b48cb6"/>
<circle cx="229.52" cy="485" r="4.35" fill="#b48cb6"/>
<circle cx="243.93" cy="506" r="4.35" fill="#b48cb6"/>
<circle cx="258.34" cy="526.4" r="4.35" fill="#b48cb6"/>
<polygon points="196.1,392 205.3,386.5 205.3,397.5" fill="#e15759" stroke="none" stroke-width="1"/>
<polygon points="210.51,408.6 219.71,403.1 219.71,414.1" fill="#e15759" stroke="none" stroke-width="1"/>
<polygon points="224.92,427.4 234.12,421.9 234.12,432.9" fill="#e15759" stroke="none" stroke-width="1"/>
<polygon points="239.33,443 248.53,437.5 248.53,448.5" fill="#e15759" stroke="none" stroke-width="1"/>
<polygon points="253.74,453 262.94,447.5 262.94,458.5" fill="#e15759" stroke="none" stroke-width="1"/>
<polygon points="268.15,469 277.35,463.5 277.35,474.5" fill="#e15759" stroke="none" stroke-width="1"/>
<polygon points="282.56,477 291.76,471.5 291.76,482.5" fill="#e15759" stroke="none" stroke-width="1"/>
<polygon points="296.97,492.4 306.17,486.9 306.17,497.9" fill="#e15759" stroke="none" stroke-width="1"/>
<rect x="139.46" y="385.3" width="7.2" height="7.4" fill="#76b7b2" stroke="none" stroke-width="1" rx="0"/>
<rect x="153.87" y="403.3" width="7.2" height="7.4" fill="#76b7b2" stroke="none" stroke-width="1" rx="0"/>
<rect x="168.28" y="419.7" width="7.2" height="7.4" fill="#76b7b2" stroke="none" stroke-width="1" rx="0"/>
<rect x="182.69" y="441.3" width="7.2" height="7.4" fill="#76b7b2" stroke="none" stroke-width="1" rx="0"/>
<rect x="197.1" y="466.3" width="7.2" height="7.4" fill="#76b7b2" stroke="none" stroke-width="1" rx="0"/>
<rect x="211.51" y="482.9" width="7.2" height="7.4" fill="#76b7b2" stroke="none" stroke-width="1" rx="0"/>
<rect x="225.92" y="505.3" width="7.2" height="7.4" fill="#76b7b2" stroke="none" stroke-width="1" rx="0"/>
<rect x="240.33" y="521.3" width="7.2" height="7.4" fill="#76b7b2" stroke="none" stroke-width="1" rx="0"/>
<polygon points="186.29,391.7 190.89,398 186.29,404.3 181.69,398" fill="#59a14f" stroke="none" stroke-width="1"/>
<polygon points="200.7,410.3 205.3,416.6 200.7,422.9 196.1,416.6" fill="#59a14f" stroke="none" stroke-width="1"/>
<polygon points="215.11,428.1 219.71,434.4 215.11,440.7 210.51,434.4" fill="#59a14f" stroke="none" stroke-width="1"/>
<polygon points="229.52,442.7 234.12,449 229.52,455.3 224.92,449" fill="#59a14f" stroke="none" stroke-width="1"/>
<polygon points="243.93,454.2 248.53,460.5 243.93,466.8 239.33,460.5" fill="#59a14f" stroke="none" stroke-width="1"/>
<polygon points="258.34,468.7 262.94,475 258.34,481.3 253.74,475" fill="#59a14f" stroke="none" stroke-width="1"/>
<polygon points="272.75,478.7 277.35,485 272.75,491.3 268.15,485" fill="#59a14f" stroke="none" stroke-width="1"/>
<polygon points="287.16,490.1 291.76,496.4 287.16,502.7 282.56,496.4" fill="#59a14f" stroke="none" stroke-width="1"/>
<polygon points="301.57,503.3 306.17,509.6 301.57,515.9 296.97,509.6" fill="#59a14f" stroke="none" stroke-width="1"/>
<polygon points="171.88,392.3 173.45,394.99 176.56,395 175.01,397.7 176.56,400.4 173.45,400.41 171.88,403.1 170.31,400.41 167.2,400.4 168.75,397.7 167.2,395 170.31,394.99" fill="#4e79a7" stroke="none" stroke-width="1"/>
<polygon points="186.29,412.6 187.86,415.29 190.97,415.3 189.42,418 190.97,420.7 187.86,420.71 186.29,423.4 184.72,420.71 181.61,420.7 183.16,418 181.61,415.3 184.72,415.29" fill="#4e79a7" stroke="none" stroke-width="1"/>
<polygon points="200.7,428.6 202.27,431.29 205.38,431.3 203.83,434 205.38,436.7 202.27,436.71 200.7,439.4 199.13,436.71 196.02,436.7 197.57,434 196.02,431.3 199.13,431.29" fill="#4e79a7" stroke="none" stroke-width="1"/>
<polygon points="215.11,446.6 216.68,449.29 219.79,449.3 218.24,452 219.79,454.7 216.68,454.71 215.11,457.4 213.54,454.71 210.43,454.7 211.98,452 210.43,449.3 213.54,449.29" fill="#4e79a7" stroke="none" stroke-width="1"/>
<polygon points="229.52,467.6 231.09,470.29 234.2,470.3 232.65,473 234.2,475.7 231.09,475.71 229.52,478.4 227.95,475.71 224.84,475.7 226.39,473 224.84,470.3 227.95,470.29" fill="#4e79a7" stroke="none" stroke-width="1"/>
<polygon points="243.93,485.6 245.5,488.29 248.61,488.3 247.06,491 248.61,493.7 245.5,493.71 243.93,496.4 242.36,493.71 239.25,493.7 240.8,491 239.25,488.3 242.36,488.29" fill="#4e79a7" stroke="none" stroke-width="1"/>
<polygon points="258.34,503.6 259.91,506.29 263.02,506.3 261.47,509 263.02,511.7 259.91,511.71 258.34,514.4 256.77,511.71 253.66,511.7 255.21,509 253.66,506.3 256.77,506.29" fill="#4e79a7" stroke="none" stroke-width="1"/>
<polygon points="272.75,522.6 274.32,525.29 277.43,525.3 275.88,528 277.43,530.7 274.32,530.71 272.75,533.4 271.18,530.71 268.07,530.7 269.62,528 268.07,525.3 271.18,525.29" fill="#4e79a7" stroke="none" stroke-width="1"/>
<polygon points="211,360.6 212.45,364.21 216.33,364.47 213.34,366.96 214.29,370.73 211,368.66 207.71,370.73 208.66,366.96 205.67,364.47 209.55,364.21" fill="#b48cb6" stroke="none" stroke-width="1"/>
<polygon points="226.6,360.6 228.05,364.21 231.93,364.47 228.94,366.96 229.89,370.73 226.6,368.66 223.31,370.73 224.26,366.96 221.27,364.47 225.15,364.21" fill="#59a14f" stroke="none" stroke-width="1"/>
<polygon points="242.4,360.6 243.85,364.21 247.73,364.47 244.74,366.96 245.69,370.73 242.4,368.66 239.11,370.73 240.06,366.96 237.07,364.47 240.95,364.21" fill="#4e79a7" stroke="none" stroke-width="1"/>
<polygon points="258,360.6 259.45,364.21 263.33,364.47 260.34,366.96 261.29,370.73 258,368.66 254.71,370.73 255.66,366.96 252.67,364.47 256.55,364.21" fill="#76b7b2" stroke="none" stroke-width="1"/>
<polygon points="273.4,360.6 274.85,364.21 278.73,364.47 275.74,366.96 276.69,370.73 273.4,368.66 270.11,370.73 271.06,366.96 268.07,364.47 271.95,364.21" fill="#e15759" stroke="none" stroke-width="1"/>
<polygon points="288,360.6 289.45,364.21 293.33,364.47 290.34,366.96 291.29,370.73 288,368.66 284.71,370.73 285.66,366.96 282.67,364.47 286.55,364.21" fill="#f28e2b" stroke="none" stroke-width="1"/>
<text x="295.7" y="369.9" font-size="9.6" text-anchor="start" fill="#000">B to B</text>
<polygon points="282.9,376.5 293.1,376.5 288,385.3" fill="#f28e2b" stroke="none" stroke-width="1"/>
<text x="295.7" y="384" font-size="9.6" text-anchor="start" fill="#000">TE<tspan font-size="8.2" dy="3.4">0</tspan></text>
<circle cx="288" cy="395.15" r="4.35" fill="#b48cb6"/>
<text x="295.7" y="398.25" font-size="9.6" text-anchor="start" fill="#000">TM<tspan font-size="8.2" dy="3.4">0</tspan></text>
<polygon points="283.4,409.4 292.6,403.9 292.6,414.9" fill="#e15759" stroke="none" stroke-width="1"/>
<text x="295.7" y="412.5" font-size="9.6" text-anchor="start" fill="#000">TE<tspan font-size="8.2" dy="3.4">1</tspan></text>
<rect x="284.4" y="419.95" width="7.2" height="7.4" fill="#76b7b2" stroke="none" stroke-width="1" rx="0"/>
<text x="295.7" y="426.75" font-size="9.6" text-anchor="start" fill="#000">TM<tspan font-size="8.2" dy="3.4">1</tspan></text>
<polygon points="288,431.6 292.6,437.9 288,444.2 283.4,437.9" fill="#59a14f" stroke="none" stroke-width="1"/>
<text x="295.7" y="441" font-size="9.6" text-anchor="start" fill="#000">TE<tspan font-size="8.2" dy="3.4">2</tspan></text>
<polygon points="288,446.75 289.57,449.44 292.68,449.45 291.13,452.15 292.68,454.85 289.57,454.86 288,457.55 286.43,454.86 283.32,454.85 284.87,452.15 283.32,449.45 286.43,449.44" fill="#4e79a7" stroke="none" stroke-width="1"/>
<text x="295.7" y="455.25" font-size="9.6" text-anchor="start" fill="#000">TM<tspan font-size="8.2" dy="3.4">2</tspan></text>
<line x1="42.6" y1="464.2" x2="330.6" y2="464.2" stroke="#ff0000" stroke-width="1.8" stroke-dasharray="6.8 7.4"/>
<circle cx="170.6" cy="520" r="8.4" fill="url(#cg)"/>
<circle cx="199.5" cy="520" r="8.4" fill="url(#cg)"/>
<circle cx="170.6" cy="548.3" r="8.4" fill="url(#cg)"/>
<circle cx="199.5" cy="548.3" r="8.4" fill="url(#cg)"/>
<path transform="scale(.1)" d="M1650 5217h0M1752 5176h0M1645 5197h0M1728 5251h0M1650 5141h0M1777 5245h0M1824 5187h0M1670 5148h0M1756 5210h0M1624 5232h0M1641 5192h0M1638 5200h0M1858 5198h0M1745 5139h0M1792 5177h0M1750 5172h0M1764 5229h0M1782 5183h0M1659 5182h0M1733 5270h0M1751 5248h0M1788 5185h0M1674 5290h0M1746 5148h0M1818 5282h0M1757 5233h0M1709 5262h0M1671 5236h0M1757 5187h0M1624 5158h0M1777 5154h0M1699 5091h0M1743 5306h0M1752 5158h0M1820 5228h0M1711 5272h0M1702 5286h0M1739 5266h0M1622 5167h0M1643 5274h0M1773 5192h0M1684 5143h0M1806 5211h0M1670 5088h0M1771 5209h0M1632 5208h0M1632 5360h0M1757 5226h0M1698 5102h0M1700 5128h0M1733 5102h0M1664 5256h0M1782 5146h0M1635 5240h0M1745 5155h0M1651 5169h0M1764 5232h0M1801 5196h0M1700 5140h0M1624 5232h0M1772 5238h0M1767 5212h0M1689 5149h0M1628 5132h0M1684 5266h0M1762 5162h0M1615 5235h0M1674 5260h0M1741 5104h0M1741 5241h0M1753 5124h0M1679 5091h0M1668 5162h0M1671 5281h0M1756 5194h0M1691 5142h0M1676 5276h0M1672 5164h0M1660 5151h0M1747 5091h0M1758 5204h0M1688 5147h0M1648 5149h0M1642 5251h0M1773 5170h0M1741 5237h0M1635 5128h0M1663 5242h0M1766 5144h0M1754 5182h0M1691 5116h0M1660 5143h0M1729 5296h0M1832 5185h0M1627 5181h0M1663 5291h0M1631 5176h0M1665 5270h0M1633 5192h0M1744 5141h0M1756 5182h0M1716 5255h0M1687 5272h0M1670 5157h0M1739 5151h0M1762 5118h0M1729 5287h0M1761 5189h0M1653 5188h0M1760 5189h0M1639 5248h0M1657 5179h0M1806 5172h0M1700 5252h0M1746 5109h0M1729 5260h0M1667 5250h0M1765 5246h0M1745 5238h0M1724 5262h0M1670 5157h0M1744 5149h0M1701 5116h0M1665 5296h0M1739 5361h0M1711 5274h0M1649 5240h0M1664 5108h0M1629 5197h0M1636 5199h0M1654 5182h0M1781 5082h0M1811 5243h0M1630 5218h0M1682 5246h0M1679 5115h0M1727 5246h0M1771 5149h0M1680 5112h0M1662 5168h0M1789 5191h0M1701 5301h0M1703 5120h0M1781 5143h0M1679 5126h0M1678 5243h0M1665 5151h0M1718 5310h0M1674 5150h0M1772 5200h0M1683 5126h0M1650 5150h0M1705 5300h0M1654 5183h0M1764 5188h0M1772 5198h0M1642 5155h0M1808 5230h0M1734 5244h0M1732 5247h0M1645 5190h0M1673 5151h0M1691 5271h0M1749 5264h0M1630 5263h0M1816 5192h0M1795 5245h0M1659 5222h0M1599 5184h0M1697 5149h0M1790 5189h0M1670 5164h0M1642 5224h0M1716 5144h0M1820 5198h0M1779 5264h0M1720 5137h0M1682 5146h0M1651 5165h0M1707 5328h0M1788 5152h0M1765 5236h0M1644 5180h0M1669 5238h0M1703 5112h0M1729 5140h0M1627 5086h0M1680 5252h0M1703 5096h0M1783 5254h0M1657 5179h0M1722 5266h0M1695 5130h0M1660 5258h0M1691 5142h0M1801 5147h0M1795 5161h0M1726 5256h0M1723 5145h0M1737 5149h0M1741 5269h0M1761 5208h0M1649 5184h0M1771 5186h0M1628 5177h0M1698 5102h0M1762 5233h0M1753 5260h0M1720 5277h0M1628 5189h0M1773 5186h0M1649 5202h0M1693 5129h0M1737 5139h0M1756 5134h0M1754 5117h0M1769 5183h0M1634 5189h0M1698 5059h0M1674 5317h0M1756 5244h0M1753 5219h0M1619 5149h0M1713 5273h0M1742 5268h0M1684 5254h0M1728 5152h0M1700 5296h0M1596 5166h0M1812 5234h0M1651 5190h0M1684 5338h0M1758 5204h0M1649 5259h0M1692 5139h0M1744 5159h0M1611 5090h0M1700 5257h0M1752 5264h0M1791 5201h0M1755 5130h0M1655 5206h0M1765 5183h0M1652 5185h0M1754 5273h0M1635 5215h0M1661 5254h0M1589 5229h0M1738 5141h0M1659 5180h0M1848 5209h0M1665 5240h0M1653 5243h0M1762 5180h0M1674 5135h0M1738 5147h0M1640 5195h0M1715 5115h0M1648 5242h0M1787 5191h0M1672 5147h0M1669 5256h0M1625 5195h0M1735 5144h0M1749 5266h0M1754 5167h0M1673 5243h0M1752 5257h0M1761 5195h0M1687 5115h0M1742 5305h0M1643 5167h0M1655 5293h0M1673 5239h0M1794 5287h0M1772 5275h0M1649 5184h0M1827 5123h0M1732 5143h0M1768 5260h0M1682 5295h0M1709 5260h0M1815 5191h0M1670 5134h0M1661 5242h0M1722 5249h0M1766 5184h0M1656 5151h0M1710 5123h0M1558 5213h0M1754 5123h0M1615 5160h0M1651 5191h0M1615 5241h0M1691 5102h0M1699 5138h0M1742 5235h0M1773 5223h0M1808 5137h0M1659 5120h0M1633 5239h0M1719 5275h0M1615 5159h0M1772 5247h0M1747 5240h0M1773 5148h0M1803 5219h0M1687 5251h0M1822 5149h0M1677 5300h0M1816 5096h0M1725 5262h0M1740 5288h0M1781 5146h0M1670 5098h0M1664 5130h0M1659 5249h0M1752 5159h0M1767 5170h0M1695 5265h0M1817 5270h0M1654 5221h0M1706 5283h0M1695 5257h0M1744 5290h0M1632 5218h0M1627 5270h0M1644 5177h0M1663 5252h0M1717 5146h0M1617 5197h0M1684 5149h0M1632 5229h0M1725 5121h0M1711 5253h0M1717 5260h0M1646 5158h0M1622 5159h0M1760 5206h0M1699 5282h0M1796 5244h0M1654 5176h0M1665 5161h0M1700 5261h0M1778 5245h0M1744 5259h0M1745 5129h0M1628 5205h0M1633 5221h0M1856 5233h0M1712 5125h0M1602 5226h0M1769 5193h0M1667 5259h0M1746 5154h0M1745 5166h0M1637 5255h0M1647 5254h0M1730 5253h0M1717 5250h0M1688 5247h0M1775 5197h0M1624 5265h0M1713 5127h0M1788 5248h0M1670 5270h0M1696 5133h0M1692 5271h0M1770 5210h0M1629 5166h0M1657 5109h0M1721 5269h0M1649 5101h0M1681 5248h0M1663 5230h0M1740 5259h0M1741 5249h0M1688 5144h0M1757 5218h0M1662 5173h0M1752 5163h0M1701 5268h0M1726 5248h0M1620 5124h0M1667 5246h0M1780 5172h0M1661 5154h0M1692 5285h0M1742 5241h0M1764 5200h0M1639 5203h0M1645 5181h0M1625 5168h0M1651 5279h0M1678 5267h0M1682 5134h0M1790 5181h0M1741 5254h0M1647 5203h0M1706 5143h0M1764 5243h0M1744 5233h0M1713 5148h0M1754 5279h0M1705 5255h0M1667 5267h0M1754 5128h0M1689 5138h0M1746 5128h0M1612 5144h0M1832 5144h0M1775 5222h0M1689 5273h0M1655 5186h0M1733 5117h0M1648 5147h0M1686 5146h0M1713 5252h0M1549 5216h0M1733 5288h0M1760 5221h0M1671 5146h0M1688 5307h0M1804 5089h0M1624 5230h0M1657 5260h0M1686 5251h0M1623 5186h0M1726 5128h0M1639 5249h0M1743 5131h0M1660 5130h0M1663 5249h0M1704 5142h0M1760 5203h0M1596 5174h0M1733 5291h0M1673 5270h0M1812 5286h0M1599 5250h0M1696 5268h0M1634 5136h0M1746 5149h0M1646 5198h0M1772 5258h0M1687 5153h0M1658 5165h0M1671 5164h0M1655 5166h0M1564 5228h0M1694 5062h0M1630 5253h0M1804 5300h0M1742 5144h0M1786 5167h0M1722 5147h0M1756 5147h0M1706 5283h0M1651 5216h0M1694 5265h0M1758 5226h0M1718 5148h0M1710 5282h0M1754 5138h0M1611 5170h0M1764 5135h0M1638 5258h0M1633 5134h0M1829 5260h0M1723 5262h0M1759 5148h0M1728 5265h0M1649 5157h0M1688 5152h0M1765 5177h0M1777 5198h0M1745 5252h0M1630 5239h0M1663 5228h0M1596 5196h0M1665 5259h0M1712 5260h0M1686 5291h0M1685 5288h0M1683 5155h0M1703 5138h0M1599 5241h0M1687 5268h0M1744 5119h0M1657 5169h0M1785 5257h0M1654 5252h0M1796 5133h0M1770 5209h0M1676 5145h0M1830 5177h0M1738 5141h0M1658 5048h0M1753 5221h0M1651 5239h0M1734 5336h0M1739 5258h0M1652 5147h0M1704 5284h0M1696 5121h0M1744 5235h0M1797 5209h0M1798 5167h0M1651 5187h0M1768 5252h0M1689 5252h0M1748 5242h0M1716 5249h0M1658 5182h0M1761 5190h0M1653 5235h0M1784 5111h0M1754 5270h0M1699 5128h0M1737 5247h0M1668 5314h0M1650 5130h0M1785 5267h0M1681 5247h0M1652 5121h0M1762 5180h0M1606 5199h0M1660 5221h0M1789 5227h0M1758 5221h0M1706 5147h0M1608 5135h0M1665 5246h0M1659 5161h0M1685 5250h0M1629 5192h0M1691 5268h0M1820 5268h0M1671 5278h0M1722 5136h0M1779 5227h0M1768 5219h0M1606 5166h0M1776 5169h0M1650 5081h0M1771 5258h0M1677 5150h0M1664 5306h0M1609 5162h0M1620 5180h0M1773 5265h0M1658 5106h0M1636 5203h0M1645 5252h0M1766 5247h0M1737 5253h0M1659 5170h0M1660 5239h0M1660 5174h0M1701 5274h0M1785 5234h0M1654 5251h0M1648 5226h0M1589 5154h0M1749 5173h0M1675 5284h0M1776 5216h0M1653 5176h0M1781 5176h0M1724 5254h0M1712 5139h0M1790 5138h0M1776 5178h0M1683 5288h0M1742 5239h0M1697 5254h0M1763 5130h0M1661 5163h0M1700 5143h0M1651 5113h0M1808 5236h0M1653 5261h0M1711 5250h0M1655 5254h0M1757 5181h0M1719 5312h0M1790 5270h0M1765 5211h0M1776 5192h0M1756 5136h0M1647 5205h0M1764 5190h0M1669 5261h0M1823 5153h0M1806 5168h0M1774 5117h0M1759 5207h0M1647 5162h0M1658 5159h0M1590 5186h0M1785 5115h0M1740 5138h0M1646 5192h0M1710 5117h0M1740 5080h0M1785 5207h0M1701 5261h0M1683 5155h0M1715 5295h0M1705 5253h0M1711 5267h0M1702 5256h0M1703 5294h0M1696 5132h0M1720 5144h0M1775 5237h0M1586 5271h0M1825 5126h0M1726 5122h0M1663 5269h0M1643 5158h0M1622 5213h0M1760 5205h0M1732 5291h0M1809 5174h0M1648 5289h0M1752 5257h0M1752 5252h0M1761 5150h0M1754 5184h0M1690 5308h0M1746 5239h0M1648 5185h0M1710 5144h0M1678 5272h0M1754 5175h0M1739 5081h0M1645 5216h0M1735 5158h0M1746 5303h0M1741 5267h0M1722 5281h0M1639 5200h0M1643 5211h0M1751 5160h0M1656 5229h0M1789 5165h0M1573 5193h0M1764 5240h0M1672 5248h0M1602 5202h0M1760 5201h0M1699 5260h0M1671 5162h0M1752 5229h0M1641 5208h0M1745 5128h0M1703 5299h0M1602 5162h0M1653 5203h0M1684 5285h0M1748 5128h0M1808 5186h0M1673 5125h0M1686 5119h0M1710 5303h0M1761 5208h0M1661 5268h0M1628 5135h0M1766 5173h0M1769 5227h0M1807 5283h0M1734 5265h0M1713 5067h0M1759 5142h0M1727 5109h0M1606 5154h0M1672 5159h0M1661 5135h0M1687 5148h0M1731 5261h0M1663 5099h0M1655 5292h0M1767 5181h0M1783 5182h0M1653 5192h0M1795 5220h0M1655 5188h0M1725 5258h0M1671 5244h0M1768 5179h0M1711 5252h0M1642 5229h0M1711 5142h0M1637 5116h0M1553 5159h0M1740 5247h0M1696 5273h0M1713 5134h0M1692 5151h0M1593 5218h0M1638 5166h0M1651 5238h0M1679 5142h0M1775 5221h0M1792 5174h0M1645 5205h0M1653 5321h0M1723 5291h0M1629 5257h0M1702 5281h0M1693 5152h0M1680 5275h0M1656 5214h0M1743 5165h0M1636 5269h0M1786 5188h0M1650 5240h0M1688 5089h0M1668 5143h0M1645 5227h0M1718 5278h0M1581 5169h0M1666 5261h0M1588 5287h0M1739 5296h0M1763 5222h0M1744 5121h0M1658 5239h0M1688 5124h0M1705 5140h0M1705 5272h0M1653 5178h0M1689 5088h0M1697 5259h0M1653 5190h0M1738 5256h0M1759 5158h0M1686 5281h0M1666 5168h0M1567 5174h0M1603 5152h0M1659 5262h0M1681 5134h0M1659 5248h0M1781 5123h0M1727 5127h0M1701 5253h0M1744 5117h0M1723 5270h0M1627 5230h0M1649 5173h0M1717 5263h0M1776 5296h0M1628 5236h0M1766 5165h0M1775 5137h0M1716 5273h0M1774 5221h0M1787 5234h0M1647 5184h0M1626 5306h0M1632 5146h0M1776 5209h0M1671 5138h0M1683 5246h0M1692 5257h0M1683 5257h0M1735 5157h0M1764 5150h0M1658 5153h0M1687 5149h0M1654 5199h0M1650 5190h0M1729 5106h0M1724 5139h0M1765 5136h0M1677 5135h0M1704 5149h0M1659 5235h0M1810 5103h0M1782 5156h0M1763 5190h0M1742 5158h0M1605 5158h0M1634 5231h0M1655 5167h0M1730 5246h0M1762 5160h0M1716 5249h0M1649 5169h0M1776 5234h0M1648 5300h0M1735 5132h0M1786 5218h0M1592 5219h0M1664 5152h0M1585 5204h0M1766 5166h0M1746 5141h0M1774 5191h0M1695 5147h0M1756 5219h0M1664 5238h0M1621 5144h0M1729 5249h0M1628 5200h0M1733 5269h0M1787 5243h0M1619 5218h0M1650 5148h0M1711 5127h0M1787 5227h0M1742 5149h0M1726 5263h0M1741 5248h0M1753 5160h0M1661 5236h0M1652 5248h0M1656 5252h0M1706 5119h0M1673 5101h0M1753 5137h0M1804 5284h0M1700 5108h0M1665 5248h0M1801 5175h0M1620 5155h0M1794 5199h0M1641 5103h0M1678 5256h0M1724 5247h0M1790 5094h0M1684 5340h0M1633 5209h0M1773 5116h0M1703 5149h0M1731 5083h0M1725 5261h0M1699 5140h0M1651 5093h0M1756 5211h0M1737 5138h0M1619 5173h0M1638 5148h0M1671 5135h0M1750 5161h0M1626 5155h0M1651 5088h0M1688 5277h0M1671 5162h0M1758 5204h0M1701 5262h0M1651 5197h0M1652 5157h0M1787 5195h0M1693 5249h0M1623 5197h0M1624 5264h0M1643 5153h0M1641 5271h0M1746 5165h0M1765 5151h0M1769 5227h0M1756 5263h0M1676 5158h0M1772 5152h0M1665 5169h0M1674 5297h0M1723 5264h0M1799 5246h0M1767 5180h0M1674 5267h0M1773 5153h0M1759 5214h0M1743 5245h0M1794 5172h0M1706 5258h0M1703 5122h0M1682 5130h0M1731 5152h0M1768 5190h0M1755 5252h0M1654 5163h0M1714 5138h0M1793 5115h0M1651 5237h0M1662 5249h0M1753 5132h0M1666 5121h0M1656 5243h0M1772 5249h0M1747 5251h0M1704 5278h0M1720 5293h0M1675 5242h0M1653 5137h0M1722 5140h0M1756 5205h0M1631 5298h0M1640 5280h0M1747 5156h0M1765 5259h0M1756 5232h0M1766 5197h0M1798 5131h0M1709 5134h0M1627 5213h0M1634 5193h0M1684 5145h0M1727 5117h0M1658 5219h0M1753 5132h0M1764 5200h0M1786 5253h0M1713 5139h0M1647 5188h0M1842 5203h0M1753 5272h0M1709 5115h0M1718 5298h0M1750 5172h0M1710 5266h0M1691 5122h0M1659 5220h0M1639 5219h0M1788 5169h0M1746 5247h0M1784 5207h0M1715 5273h0M1715 5125h0M1690 5248h0M1674 5241h0M1744 5104h0M1612 5131h0M1743 5141h0M1734 5294h0M1742 5159h0M1764 5178h0M1708 5275h0M1657 5230h0M1658 5235h0M1653 5219h0M1719 5143h0M1706 5146h0M1729 5116h0M1764 5154h0M1682 5155h0M1647 5187h0M1622 5187h0M1707 5136h0M1624 5142h0M1756 5216h0M1627 5279h0M1736 5251h0M1753 5261h0M1631 5205h0M1673 5289h0M1696 5106h0M1769 5235h0M1758 5178h0M1757 5211h0M1787 5129h0M1696 5268h0M1662 5228h0M1649 5225h0M1805 5161h0M1778 5152h0M1642 5217h0M1725 5272h0M1728 5104h0M1826 5175h0M1695 5149h0M1704 5121h0M1639 5189h0M1676 5259h0M1780 5297h0M1815 5172h0M1785 5160h0M1756 5131h0M1696 5113h0M1775 5228h0M1609 5207h0M1756 5197h0M1675 5139h0M1766 5157h0M1723 5152h0M1720 5248h0M1682 5147h0M1645 5236h0M1765 5164h0M1798 5212h0M1648 5153h0M1664 5108h0M1675 5145h0M1748 5091h0M1760 5071h0M1657 5157h0M1747 5152h0M1737 5144h0M1767 5194h0M1754 5137h0M1757 5197h0M1621 5315h0M1750 5244h0M1633 5239h0M1639 5307h0M1725 5253h0M1675 5293h0M1692 5251h0M1738 5128h0M1687 5141h0M1757 5144h0M1705 5112h0M1785 5195h0M1739 5250h0M1661 5156h0M1786 5290h0M1768 5229h0M1686 5259h0M1677 5262h0M1823 5121h0M1786 5133h0M1704 5286h0M1757 5232h0M1694 5145h0M1788 5201h0M1795 5236h0M1728 5151h0M1603 5183h0M1693 5130h0M1668 5269h0M1684 5294h0M1660 5264h0M1824 5201h0M1707 5070h0M1657 5158h0M1630 5283h0M1672 5279h0M1768 5212h0M1673 5120h0M1773 5300h0M1796 5147h0M1637 5274h0M1797 5225h0M1648 5226h0M1628 5230h0M1699 5285h0M1652 5181h0M1681 5091h0M1723 5250h0M1695 5257h0M1766 5238h0M1784 5274h0M1761 5123h0M1604 5285h0M1742 5265h0M1778 5242h0M1665 5168h0M1756 5243h0M1651 5163h0M1733 5118h0M1739 5242h0M1797 5216h0M1671 5124h0M1605 5207h0M1750 5126h0M1711 5148h0M1622 5239h0M1782 5185h0M1783 5130h0M1697 5263h0M1770 5227h0M1758 5184h0M1742 5247h0M1753 5220h0M1737 5131h0M1737 5160h0M1721 5142h0M1735 5144h0M1745 5157h0M1739 5148h0M1667 5148h0M1625 5237h0M1764 5179h0M1788 5215h0M1766 5206h0M1707 5264h0M1771 5160h0M1694 5262h0M1687 5275h0M1701 5293h0M1664 5113h0M1641 5294h0M1770 5247h0M1754 5260h0M1785 5164h0M1771 5089h0M1620 5135h0M1662 5158h0M1648 5128h0M1624 5236h0M1653 5184h0M1660 5164h0M1680 5147h0M1790 5127h0M1690 5258h0M1656 5194h0M1741 5273h0M1667 5151h0M1669 5163h0M1638 5216h0M1722 5273h0M1599 5136h0M1663 5161h0M1699 5127h0M1751 5305h0M1759 5194h0M1770 5198h0M1767 5207h0M1693 5138h0M1703 5137h0M1667 5157h0M1677 5149h0M1764 5237h0M1758 5190h0M1734 5248h0M1551 5183h0M1783 5248h0M1833 5205h0M1748 5173h0M1673 5161h0M1619 5234h0M1749 5238h0M1649 5210h0M1722 5140h0M1655 5302h0M1618 5173h0M1770 5219h0M1668 5164h0M1729 5120h0M1716 5326h0M1704 5273h0M1642 5227h0M1703 5291h0M1698 5293h0M1657 5174h0M1650 5182h0M1778 5177h0M1820 5275h0M1617 5203h0M1685 5249h0M1771 5187h0M1744 5151h0M1764 5163h0M1753 5176h0M1722 5251h0M1636 5198h0M1716 5270h0M1640 5161h0M1757 5199h0M1763 5234h0M1756 5229h0M1711 5150h0M1748 5255h0M1770 5198h0M1652 5219h0M1680 5116h0M1744 5240h0M1730 5254h0M1683 5308h0M1629 5234h0M1753 5183h0M1712 5147h0M1650 5113h0M1645 5250h0M1759 5202h0M1718 5143h0M1748 5233h0M1756 5183h0M1805 5216h0M1781 5206h0M1714 5279h0M1624 5196h0M1661 5166h0M1727 5252h0M1664 5171h0M1667 5155h0M1737 5153h0M1804 5108h0M1743 5130h0M1685 5146h0M1662 5162h0M1675 5109h0M1654 5143h0M1715 5117h0M1687 5079h0M1659 5216h0M1654 5181h0M1697 5251h0M1807 5129h0M1800 5211h0M1770 5174h0M1745 5122h0M1730 5249h0M1621 5202h0M1689 5266h0M1763 5222h0M1644 5163h0M1611 5252h0M1696 5141h0M1691 5256h0M1613 5133h0M1755 5182h0M1727 5275h0M1643 5135h0M1655 5210h0M1670 5249h0M1632 5188h0M1625 5257h0M1654 5158h0M1684 5296h0M1655 5273h0M1710 5313h0M1774 5245h0M1662 5258h0M1594 5255h0M1758 5151h0M1761 5114h0M1659 5225h0M1742 5145h0M1747 5255h0M1712 5263h0M1608 5259h0M1663 5307h0M1639 5185h0M1671 5265h0M1636 5202h0M1761 5209h0M1768 5241h0M1718 5147h0M1790 5215h0M1640 5255h0M1802 5248h0M1909 5117h0M1634 5179h0M1664 5169h0M1737 5258h0M1641 5224h0M1765 5251h0M1717 5145h0M1820 5227h0M1748 5160h0M1759 5179h0M1648 5225h0M1650 5236h0M1669 5256h0M1720 5252h0M1655 5225h0M1559 5222h0M1648 5152h0M1722 5080h0M1636 5174h0M1741 5158h0M1649 5111h0M1666 5165h0M1721 5147h0M1768 5215h0M1738 5142h0M1754 5303h0M1729 5250h0M1664 5146h0M1705 5313h0M1661 5224h0M1766 5171h0M1631 5216h0M1774 5232h0M1705 5138h0M1762 5251h0M1743 5273h0M1659 5155h0M1745 5148h0M1752 5124h0M1746 5263h0M1786 5242h0M1805 5181h0M1702 5134h0M1744 5132h0M1580 5198h0M1653 5138h0M1613 5143h0M1693 5297h0M1767 5211h0M1621 5120h0M1637 5174h0M1657 5257h0M1782 5228h0M1708 5113h0M1696 5250h0M1681 5282h0M1768 5211h0M1660 5165h0M1759 5225h0M1647 5165h0M1696 5262h0M1702 5276h0M1724 5259h0M1699 5118h0M1606 5180h0M1787 5193h0M1779 5161h0M1778 5260h0M1714 5150h0M1641 5211h0M1808 5216h0M1670 5259h0M1775 5242h0M1802 5164h0M1715 5146h0M1719 5136h0M1789 5263h0M1718 5261h0M1637 5150h0M1642 5285h0M1741 5242h0M1733 5158h0M1593 5232h0M1643 5181h0M1776 5212h0M1762 5139h0M1683 5258h0M1658 5157h0M1763 5221h0M1787 5249h0M1769 5186h0M1756 5205h0M1791 5156h0M1623 5200h0M1659 5261h0M1761 5248h0M1705 5254h0M1728 5142h0M1768 5160h0M1679 5129h0M1668 5104h0M1650 5162h0M1652 5182h0M1726 5250h0M1678 5267h0M1722 5262h0M1651 5242h0M1660 5085h0M1759 5235h0M1658 5159h0M1651 5198h0M1799 5194h0M1629 5234h0M1665 5128h0M1750 5105h0M1714 5252h0M1763 5153h0M1623 5149h0M1648 5149h0M1773 5154h0M1653 5146h0M1777 5180h0M1673 5122h0M1745 5239h0M1624 5182h0M1798 5214h0M1717 5126h0M1676 5245h0M1763 5232h0M1725 5247h0M1720 5143h0M1725 5258h0M1636 5110h0M1637 5123h0M1750 5246h0M1647 5267h0M1654 5163h0M1805 5141h0M1757 5230h0M1718 5270h0M1700 5255h0M1780 5228h0M1696 5249h0M1642 5182h0M1629 5242h0M1628 5232h0M1646 5211h0M1725 5257h0M1741 5140h0M1619 5195h0M1752 5121h0M1771 5267h0M1747 5280h0M1779 5198h0M1824 5183h0M1761 5217h0M1615 5208h0M1791 5199h0M1713 5333h0M1736 5312h0M1727 5128h0M1714 5143h0M1650 5204h0M1782 5157h0M1635 5255h0M1789 5183h0M1699 5279h0M1652 5227h0M1635 5174h0M1588 5278h0M1703 5277h0M1796 5249h0M1744 5112h0M1771 5269h0M1724 5129h0M1673 5278h0M1729 5091h0M1760 5225h0M1803 5213h0M1720 5129h0M1694 5129h0M1595 5226h0M1641 5130h0M1692 5252h0M1710 5058h0M1782 5152h0M1780 5189h0M1661 5229h0M1784 5261h0M1756 5228h0M1648 5296h0M1682 5141h0M1651 5202h0M1621 5253h0M1684 5274h0M1754 5233h0M1682 5254h0M1667 5167h0M1762 5213h0M1723 5262h0M1764 5229h0M1764 5147h0M1627 5150h0M1615 5284h0M1768 5177h0M1714 5265h0M1670 5146h0M1636 5274h0M1625 5217h0M1698 5138h0M1621 5302h0M1767 5200h0M1688 5150h0M1716 5270h0M1567 5194h0M1719 5133h0M1677 5243h0M1787 5278h0M1807 5190h0M1746 5254h0M1808 5177h0M1695 5093h0M1805 5128h0M1712 5119h0M1900 5153h0M1907 5230h0M1982 5149h0M2066 5169h0M2007 5271h0M2009 5266h0M2014 5136h0M2015 5127h0M2088 5195h0M1921 5186h0M2018 5149h0M1956 5119h0M2066 5213h0M2041 5138h0M1960 5146h0M2049 5285h0M2014 5285h0M1977 5145h0M1976 5089h0M1968 5255h0M2023 5155h0M1928 5258h0M2002 5133h0M2042 5222h0M1950 5224h0M1929 5176h0M1949 5232h0M2027 5139h0M1980 5312h0M1923 5262h0M2065 5184h0M1943 5256h0M1881 5199h0M1930 5199h0M1969 5141h0M2021 5254h0M1932 5230h0M2047 5187h0M1882 5237h0M2014 5111h0M1954 5230h0M1869 5216h0M2025 5263h0M1968 5145h0M2046 5216h0M1995 5261h0M1919 5218h0M2069 5183h0M1955 5163h0M2051 5249h0M2033 5156h0M1936 5170h0M1903 5141h0M1995 5142h0M1983 5303h0M1897 5176h0M2047 5133h0M1953 5165h0M1913 5231h0M1873 5157h0M2013 5145h0M2068 5152h0M2038 5289h0M1976 5149h0M1924 5124h0M2036 5167h0M1940 5247h0M1984 5258h0M2038 5150h0M1948 5138h0M1997 5096h0M2039 5247h0M1951 5164h0M1941 5187h0M1936 5147h0M1982 5129h0M2019 5154h0M2039 5225h0M1943 5203h0M1994 5265h0M2064 5276h0M1938 5221h0M1998 5308h0M2051 5244h0M2047 5223h0M1944 5301h0M1913 5233h0M1958 5243h0M1944 5208h0M2018 5251h0M1942 5172h0M1992 5150h0M2020 5307h0M2017 5289h0M1976 5255h0M1923 5180h0M2061 5114h0M2034 5233h0M2045 5182h0M1941 5246h0M2023 5154h0M2044 5140h0M1933 5237h0M2067 5148h0M1999 5133h0M1946 5225h0M2007 5070h0M1944 5166h0M1891 5294h0M1989 5125h0M1937 5276h0M1944 5175h0M2048 5162h0M1973 5144h0M2009 5258h0M1993 5279h0M1968 5109h0M1919 5143h0M1943 5183h0M1945 5233h0M2048 5168h0M1994 5149h0M2054 5147h0M1955 5321h0M2039 5170h0M2039 5162h0M2050 5179h0M2062 5212h0M2078 5256h0M2084 5233h0M1931 5183h0M1941 5175h0M2032 5163h0M2064 5121h0M2054 5188h0M1917 5185h0M1951 5166h0M1979 5116h0M1984 5078h0M1950 5294h0M2069 5259h0M2014 5272h0M2031 5156h0M2095 5207h0M2051 5152h0M2103 5202h0M1989 5266h0M2000 5141h0M1919 5275h0M2036 5124h0M2020 5252h0M2118 5161h0M1968 5156h0M2046 5272h0M1934 5154h0M1926 5265h0M2124 5235h0M2067 5249h0M1963 5134h0M1908 5254h0M2037 5173h0M2017 5148h0M1952 5259h0M2038 5140h0M1982 5150h0M1951 5119h0M1932 5241h0M1977 5149h0M2002 5147h0M2036 5238h0M1910 5221h0M2086 5208h0M1976 5143h0M1910 5246h0M2068 5198h0M1972 5134h0M2049 5270h0M2051 5207h0M1911 5259h0M2043 5221h0M1946 5183h0M1940 5267h0M2042 5298h0M2069 5132h0M2082 5173h0M2061 5215h0M1992 5296h0M2024 5262h0M2007 5122h0M1889 5225h0M2020 5261h0M2004 5127h0M1921 5197h0M1939 5297h0M1990 5118h0M1895 5174h0M1884 5221h0M1889 5239h0M1972 5250h0M1941 5178h0M2044 5126h0M2025 5265h0M2070 5267h0M2069 5195h0M2051 5182h0M2000 5250h0M1960 5240h0M2029 5268h0M2054 5174h0M2077 5179h0M1941 5187h0M2040 5223h0M2023 5137h0M2078 5221h0M2048 5216h0M2003 5263h0M1972 5107h0M1915 5210h0M2018 5249h0M2046 5214h0M2049 5174h0M1974 5262h0M1941 5199h0M1948 5145h0M2092 5120h0M2076 5180h0M1961 5125h0M2070 5210h0M1930 5173h0M1998 5280h0M2041 5240h0M1991 5133h0M1985 5257h0M2032 5253h0M1982 5267h0M2077 5239h0M1955 5251h0M2012 5285h0M2051 5202h0M2053 5195h0M2048 5257h0M2064 5212h0M2028 5143h0M2038 5122h0M1982 5305h0M2008 5252h0M2110 5234h0M2012 5267h0M1934 5282h0M1945 5180h0M1999 5141h0M2015 5138h0M1861 5231h0M1921 5217h0M2135 5197h0M1950 5142h0M1985 5278h0M2028 5161h0M1934 5173h0M2018 5251h0M1936 5131h0M1992 5253h0M2019 5246h0M1963 5150h0M2106 5174h0M1971 5137h0M2053 5197h0M2063 5174h0M2015 5278h0M1929 5301h0M1967 5265h0M2074 5219h0M2065 5101h0M2035 5133h0M2022 5155h0M2054 5319h0M1949 5073h0M1936 5100h0M2046 5245h0M1938 5258h0M1933 5183h0M2055 5223h0M2046 5269h0M2005 5134h0M1918 5101h0M2030 5136h0M2055 5217h0M2123 5078h0M1942 5213h0M1963 5274h0M2011 5281h0M2001 5136h0M2035 5091h0M2000 5268h0M2000 5107h0M2060 5227h0M1950 5255h0M2028 5256h0M1900 5139h0M2024 5275h0M2047 5119h0M2009 5271h0M1920 5098h0M1922 5248h0M1920 5084h0M1947 5234h0M1954 5139h0M2024 5258h0M1956 5271h0M2070 5221h0M2045 5278h0M2029 5323h0M2054 5203h0M1939 5216h0M2043 5126h0M2075 5291h0M1945 5213h0M2087 5243h0M1948 5219h0M2085 5297h0M2075 5206h0M1944 5204h0M1978 5143h0M1924 5105h0M1954 5166h0M1978 5281h0M2041 5175h0M1988 5147h0M1939 5208h0M2074 5150h0M1970 5286h0M2073 5232h0M1992 5095h0M2029 5281h0M1976 5145h0M1917 5229h0M1885 5219h0M2068 5148h0M1967 5262h0M1962 5145h0M1927 5191h0M2047 5202h0M1969 5130h0M2104 5146h0M1933 5141h0M2007 5256h0M2074 5165h0M2049 5199h0M2011 5110h0M2066 5121h0M1940 5240h0M2104 5208h0M1898 5118h0M2019 5250h0M2032 5157h0M1978 5249h0M2005 5275h0M2004 5283h0M1936 5207h0M1953 5137h0M2102 5142h0M2053 5249h0M2026 5125h0M1937 5199h0M1994 5139h0M2040 5224h0M2010 5250h0M1968 5255h0M1952 5233h0M2040 5163h0M2006 5266h0M1968 5249h0M2054 5194h0M1966 5148h0M1993 5334h0M2093 5248h0M1936 5182h0M1931 5254h0M1895 5229h0M2002 5130h0M2032 5261h0M2079 5189h0M2063 5201h0M2048 5154h0M1965 5151h0M1988 5143h0M1931 5212h0M2049 5225h0M1988 5127h0M2087 5123h0M1955 5153h0M2012 5145h0M1944 5222h0M1973 5115h0M2024 5134h0M1919 5213h0M1908 5234h0M1961 5241h0M1977 5073h0M2055 5188h0M2045 5034h0M2092 5189h0M2116 5202h0M2078 5250h0M2078 5279h0M2048 5161h0M2030 5129h0M2034 5274h0M2052 5181h0M1932 5091h0M1969 5332h0M2013 5253h0M2063 5211h0M2052 5242h0M2007 5257h0M2053 5212h0M1940 5284h0M1942 5203h0M1947 5161h0M1969 5097h0M1929 5173h0M2023 5151h0M2069 5219h0M1883 5199h0M1950 5226h0M2079 5136h0M1927 5231h0M2036 5169h0M1978 5144h0M2023 5137h0M1960 5133h0M1949 5143h0M2021 5111h0M2120 5187h0M2031 5119h0M2047 5278h0M2067 5156h0M2080 5151h0M1948 5266h0M1934 5237h0M2060 5198h0M2019 5258h0M1993 5137h0M1945 5175h0M1929 5184h0M2089 5120h0M2103 5175h0M2061 5221h0M1931 5203h0M1967 5255h0M2045 5244h0M2102 5189h0M2049 5151h0M1946 5172h0M1916 5207h0M2077 5192h0M1958 5156h0M1933 5202h0M2000 5134h0M2099 5184h0M1941 5199h0M2020 5102h0M2081 5108h0M1962 5253h0M1949 5146h0M1945 5202h0M2050 5195h0M2100 5140h0M2073 5214h0M2036 5235h0M1933 5167h0M1962 5247h0M1992 5309h0M1958 5157h0M2025 5118h0M2091 5241h0M2024 5241h0M1941 5139h0M2063 5148h0M2051 5331h0M2044 5215h0M2037 5340h0M2070 5200h0M2056 5213h0M2083 5146h0M1936 5213h0M2084 5244h0M2007 5151h0M1928 5195h0M1931 5242h0M1989 5149h0M2057 5179h0M1931 5166h0M1919 5184h0M1984 5280h0M1972 5250h0M2017 5253h0M1957 5141h0M1967 5132h0M2050 5202h0M2046 5192h0M1999 5136h0M2051 5213h0M2062 5195h0M1966 5295h0M1943 5107h0M2030 5150h0M1940 5211h0M1957 5282h0M2091 5300h0M2059 5135h0M2013 5125h0M2018 5255h0M2065 5229h0M1960 5138h0M2054 5223h0M2068 5242h0M1943 5213h0M2091 5202h0M1929 5234h0M2044 5162h0M2008 5254h0M2117 5189h0M2003 5265h0M1965 5348h0M1957 5234h0M2071 5246h0M2069 5244h0M1958 5266h0M2005 5277h0M2084 5181h0M2073 5220h0M2015 5121h0M1968 5146h0M1917 5207h0M1929 5128h0M2091 5194h0M1945 5192h0M2065 5133h0M1893 5191h0M1899 5138h0M2050 5278h0M1938 5176h0M1914 5144h0M1937 5194h0M2060 5187h0M2014 5277h0M2045 5179h0M1939 5224h0M2037 5151h0M1957 5283h0M1982 5248h0M2015 5112h0M1970 5328h0M1936 5195h0M1945 5187h0M1932 5227h0M1963 5241h0M1989 5255h0M2042 5116h0M2038 5239h0M1992 5286h0M2028 5249h0M2001 5145h0M1978 5260h0M1960 5259h0M2018 5121h0M1987 5268h0M1931 5127h0M2093 5223h0M2006 5131h0M2018 5315h0M1914 5228h0M1936 5231h0M1939 5175h0M2056 5187h0M1926 5294h0M1969 5152h0M2098 5196h0M1944 5208h0M1936 5162h0M2034 5254h0M1967 5130h0M2046 5199h0M1942 5245h0M2083 5195h0M1969 5152h0M1943 5232h0M2071 5208h0M1978 5286h0M2042 5069h0M2070 5181h0M2117 5180h0M1913 5171h0M1907 5255h0M1894 5146h0M1947 5334h0M1926 5200h0M1922 5167h0M1968 5266h0M1986 5121h0M1952 5175h0M1936 5210h0M1921 5225h0M2003 5271h0M1930 5290h0M1919 5197h0M1905 5297h0M2038 5229h0M1915 5182h0M1980 5107h0M2083 5156h0M1908 5278h0M1935 5181h0M1958 5264h0M1965 5098h0M2032 5268h0M1868 5185h0M1902 5185h0M1941 5239h0M1923 5206h0M1988 5127h0M1948 5133h0M2060 5188h0M1997 5262h0M1972 5254h0M2016 5112h0M2062 5192h0M1941 5187h0M2090 5120h0M1959 5273h0M2008 5129h0M1950 5261h0M1944 5087h0M2001 5121h0M1965 5157h0M2029 5148h0M2006 5302h0M1938 5227h0M2050 5241h0M2052 5160h0M2051 5174h0M2022 5255h0M2029 5078h0M2047 5166h0M2012 5256h0M2043 5278h0M1952 5287h0M2062 5261h0M1970 5244h0M2051 5174h0M1916 5236h0M2087 5155h0M2077 5213h0M2007 5128h0M1985 5133h0M2023 5303h0M2001 5264h0M1948 5157h0M2066 5157h0M2025 5242h0M1971 5141h0M1938 5206h0M2025 5246h0M2054 5275h0M1954 5146h0M2055 5165h0M2070 5167h0M2013 5263h0M1956 5233h0M1932 5160h0M1947 5158h0M1913 5174h0M2068 5172h0M1907 5137h0M1944 5178h0M2042 5236h0M1919 5232h0M1978 5095h0M1938 5112h0M2084 5169h0M2067 5257h0M1969 5254h0M1923 5118h0M1977 5121h0M1904 5164h0M1942 5167h0M1938 5251h0M2046 5190h0M1960 5156h0M1993 5300h0M2048 5173h0M1942 5255h0M1968 5142h0M1981 5263h0M2060 5169h0M2049 5133h0M2060 5209h0M1997 5270h0M2014 5119h0M2042 5272h0M1978 5144h0M1923 5177h0M2071 5177h0M1936 5202h0M2059 5223h0M1979 5276h0M1920 5251h0M1962 5141h0M1985 5114h0M1988 5096h0M1935 5177h0M1910 5137h0M2062 5189h0M1972 5152h0M1995 5140h0M1977 5313h0M2038 5234h0M2075 5253h0M2067 5255h0M2048 5237h0M2056 5230h0M1952 5142h0M2088 5240h0M2053 5142h0M2055 5166h0M2054 5249h0M2013 5152h0M1940 5125h0M1923 5237h0M1922 5166h0M2018 5257h0M2022 5249h0M1948 5253h0M2060 5160h0M1956 5151h0M1929 5224h0M1942 5213h0M2093 5254h0M2033 5095h0M1961 5237h0M2023 5155h0M2085 5238h0M2038 5125h0M1992 5130h0M2115 5196h0M1915 5136h0M2065 5155h0M2048 5240h0M1946 5138h0M2032 5248h0M1949 5230h0M2038 5236h0M2059 5232h0M2047 5212h0M2075 5202h0M2066 5173h0M1946 5214h0M1963 5242h0M2019 5245h0M2035 5240h0M2004 5259h0M1964 5266h0M1955 5266h0M1954 5267h0M2063 5120h0M2019 5123h0M1942 5143h0M1935 5228h0M1902 5187h0M1896 5202h0M1951 5305h0M2000 5254h0M1963 5255h0M1983 5263h0M2006 5259h0M1910 5158h0M2015 5153h0M1914 5203h0M1956 5130h0M1964 5130h0M2017 5269h0M1931 5114h0M2000 5150h0M2040 5267h0M1917 5190h0M1985 5147h0M1901 5283h0M1996 5255h0M1950 5225h0M1952 5166h0M2054 5180h0M1973 5286h0M2061 5227h0M2081 5170h0M1936 5204h0M2045 5251h0M1910 5193h0M2076 5155h0M1927 5124h0M2062 5252h0M2019 5267h0M2036 5306h0M2099 5215h0M2043 5172h0M1905 5174h0M1948 5126h0M2008 5254h0M1988 5298h0M1981 5148h0M2040 5125h0M1906 5262h0M1907 5171h0M2007 5292h0M1967 5281h0M1916 5277h0M2059 5205h0M1988 5143h0M2061 5287h0M1926 5176h0M2035 5234h0M2042 5267h0M1928 5198h0M2079 5212h0M1947 5162h0M1968 5158h0M1946 5216h0M1989 5253h0M1940 5232h0M1901 5275h0M2018 5301h0M2079 5209h0M1905 5246h0M2032 5241h0M2008 5149h0M1965 5029h0M1969 5252h0M1995 5071h0M2041 5135h0M1939 5154h0M2052 5140h0M1896 5266h0M1962 5278h0M1975 5269h0M2091 5100h0M1939 5173h0M2039 5278h0M2031 5157h0M2057 5168h0M1940 5207h0M2038 5135h0M1966 5148h0M1998 5261h0M2009 5271h0M2056 5203h0M2015 5141h0M2124 5156h0M1980 5140h0M2087 5251h0M2013 5251h0M1984 5126h0M1929 5225h0M1950 5240h0M1974 5144h0M1937 5272h0M2064 5185h0M2050 5259h0M2033 5282h0M2005 5109h0M1936 5171h0M2026 5277h0M2060 5195h0M1909 5244h0M2039 5261h0M1924 5314h0M1964 5265h0M1943 5259h0M2118 5249h0M1996 5275h0M2049 5218h0M1938 5166h0M2064 5153h0M1920 5216h0M1983 5117h0M2061 5107h0M1948 5169h0M1934 5184h0M1905 5194h0M1880 5129h0M2024 5070h0M2026 5264h0M2023 5140h0M2045 5120h0M2004 5288h0M1987 5289h0M2038 5125h0M1910 5280h0M2034 5270h0M2077 5249h0M1897 5149h0M2096 5197h0M2052 5108h0M1937 5243h0M2047 5133h0M1923 5150h0M2000 5096h0M2073 5148h0M1976 5291h0M2048 5192h0M1891 5175h0M1971 5263h0M2016 5154h0M1929 5230h0M1999 5287h0M2037 5236h0M1980 5263h0M1955 5276h0M2039 5145h0M1941 5290h0M2121 5253h0M2035 5272h0M1928 5138h0M1942 5109h0M2079 5249h0M1997 5294h0M2058 5191h0M2006 5148h0M1961 5239h0M2049 5217h0M2036 5233h0M1980 5252h0M1999 5320h0M1968 5243h0M2048 5183h0M2000 5252h0M2082 5195h0M2030 5098h0M1950 5116h0M2030 5108h0M1925 5215h0M2052 5218h0M1940 5113h0M1999 5137h0M1878 5238h0M2079 5240h0M2013 5140h0M1992 5281h0M2066 5160h0M2041 5221h0M1984 5255h0M2046 5144h0M1980 5105h0M2087 5204h0M1953 5161h0M2075 5180h0M1917 5216h0M2038 5165h0M1967 5261h0M2038 5141h0M1987 5138h0M1987 5150h0M1898 5232h0M1930 5253h0M2067 5200h0M1963 5260h0M1951 5269h0M2046 5170h0M1959 5119h0M2035 5233h0M2071 5213h0M1938 5230h0M1917 5142h0M2046 5227h0M2013 5247h0M2046 5247h0M1969 5290h0M2023 5269h0M2045 5122h0M1930 5193h0M1960 5245h0M2066 5261h0M1948 5224h0M2039 5233h0M2039 5325h0M1953 5154h0M1943 5074h0M2025 5263h0M2047 5217h0M1932 5196h0M2020 5132h0M1908 5227h0M2035 5160h0M1942 5190h0M1981 5147h0M1912 5165h0M2038 5235h0M2002 5135h0M2027 5095h0M1888 5228h0M1988 5266h0M2017 5252h0M1917 5242h0M2011 5265h0M1977 5263h0M1961 5259h0M2022 5145h0M1982 5258h0M1888 5233h0M2061 5174h0M1935 5145h0M1974 5152h0M2056 5246h0M1933 5117h0M1938 5225h0M1910 5241h0M1980 5251h0M2048 5187h0M1955 5252h0M2125 5264h0M1923 5221h0M2089 5225h0M1941 5308h0M1979 5273h0M1954 5167h0M2116 5140h0M2026 5136h0M1951 5243h0M1928 5235h0M2062 5190h0M2030 5247h0M1899 5181h0M1974 5141h0M1933 5202h0M1943 5222h0M1936 5300h0M2073 5226h0M1890 5182h0M1940 5245h0M2002 5267h0M2004 5268h0M2067 5205h0M2103 5255h0M2018 5145h0M1945 5192h0M1943 5133h0M2046 5242h0M2079 5192h0M2080 5193h0M2047 5256h0M1949 5250h0M2031 5260h0M1950 5236h0M2014 5253h0M1963 5155h0M2058 5122h0M2067 5180h0M1954 5164h0M2031 5163h0M1995 5266h0M1980 5149h0M2024 5158h0M2053 5177h0M1989 5142h0M1946 5247h0M1988 5083h0M1940 5161h0M2088 5128h0M1909 5232h0M1949 5223h0M1993 5276h0M2060 5273h0M1922 5307h0M2062 5223h0M2010 5263h0M2072 5206h0M2085 5184h0M1976 5249h0M2074 5248h0M2079 5224h0M1938 5220h0M1905 5193h0M2062 5152h0M1925 5186h0M2014 5290h0M1941 5298h0M2044 5178h0M1980 5138h0M1998 5300h0M2066 5222h0M2049 5275h0M1940 5204h0M1986 5258h0M1904 5180h0M1969 5155h0M2011 5151h0M2083 5144h0M1943 5247h0M2005 5102h0M1931 5144h0M1958 5134h0M1940 5218h0M1951 5146h0M1935 5192h0M2028 5239h0M1917 5199h0M1969 5313h0M1984 5137h0M2152 5221h0M1883 5278h0M1931 5206h0M2045 5151h0M2083 5246h0M2038 5108h0M2053 5110h0M1972 5261h0M2010 5114h0M1919 5142h0M2076 5262h0M1939 5259h0M2056 5148h0M1921 5229h0M2056 5253h0M1930 5177h0M2044 5159h0M2132 5289h0M2053 5158h0M1963 5252h0M1959 5122h0M2041 5175h0M2037 5238h0M2072 5137h0M1935 5169h0M1969 5157h0M2002 5138h0M2078 5196h0M2029 5163h0M1914 5170h0M2006 5108h0M1935 5210h0M2049 5254h0M2010 5115h0M1966 5087h0M2031 5241h0M2048 5192h0M1929 5236h0M1986 5118h0M1997 5254h0M1948 5165h0M2042 5259h0M1946 5230h0M2036 5164h0M2050 5279h0M2038 5235h0M2077 5136h0M1933 5186h0M2051 5180h0M1973 5253h0M1965 5145h0M2082 5207h0M1946 5121h0M1962 5141h0M1881 5232h0M1959 5157h0M2035 5244h0M2089 5155h0M2040 5285h0M2034 5250h0M2003 5135h0M2045 5251h0M2129 5187h0M2043 5161h0M1959 5238h0M2032 5260h0M2016 5154h0M2080 5094h0M2044 5147h0M2047 5214h0M1903 5306h0M1900 5154h0M2034 5279h0M1929 5167h0M2053 5262h0M2081 5292h0M1963 5261h0M1946 5189h0M1927 5182h0M1963 5112h0M1943 5197h0M1921 5276h0M1961 5148h0M2005 5114h0M2018 5268h0M2014 5247h0M2024 5133h0M1899 5203h0M1991 5257h0M1963 5251h0M1960 5265h0M2041 5156h0M2021 5156h0M2080 5250h0M2043 5216h0M2049 5247h0M1896 5130h0M2000 5262h0M2097 5209h0M1956 5243h0M1912 5186h0M2064 5263h0M2041 5172h0M1941 5164h0M1959 5246h0M1945 5146h0M2109 5182h0M2120 5168h0M2057 5146h0M2073 5227h0M2071 5264h0M1910 5224h0M2046 5211h0M2073 5169h0M2054 5210h0M2063 5124h0M2039 5174h0M2092 5183h0M2056 5189h0M1944 5237h0M1908 5216h0M2046 5232h0M1924 5150h0M2049 5242h0M1923 5253h0M2039 5225h0M1919 5223h0M2005 5257h0M2093 5203h0M2032 5248h0M1979 5145h0M2019 5288h0M1961 5290h0M1953 5234h0M2065 5127h0M1866 5233h0M1953 5168h0M2087 5192h0M1923 5245h0M2031 5119h0M1940 5286h0M2058 5148h0M2005 5255h0M2038 5266h0M2113 5295h0M2038 5173h0M1917 5138h0M1973 5253h0M2007 5249h0M1886 5261h0M2063 5226h0M1934 5189h0M2088 5172h0M1925 5170h0M1977 5248h0M2010 5260h0M2007 5142h0M2013 5130h0M2034 5157h0M2066 5188h0M1916 5194h0M2074 5127h0M2050 5242h0M2022 5285h0M2097 5225h0M1972 5254h0M2041 5170h0M1957 5237h0M2072 5192h0M1988 5135h0M2097 5181h0M2082 5243h0M1867 5178h0M2077 5180h0M1834 5226h0M2031 5275h0M1929 5155h0M1998 5141h0M1894 5259h0M2089 5196h0M1863 5212h0M1929 5196h0M1949 5163h0M1964 5156h0M1897 5256h0M1948 5244h0M2044 5166h0M1921 5108h0M2092 5176h0M2038 5238h0M2056 5269h0M2036 5279h0M2056 5210h0M1918 5244h0M2026 5155h0M1908 5132h0M1925 5283h0M2031 5269h0M2044 5262h0M1949 5241h0M1899 5148h0M2066 5159h0M1996 5118h0M1900 5222h0M2044 5304h0M1938 5245h0M1960 5129h0M1942 5233h0M2029 5162h0M2009 5280h0M1932 5205h0M1946 5258h0M2085 5190h0M2052 5222h0M2013 5120h0M2002 5119h0M2067 5208h0M2080 5220h0M1982 5148h0M2047 5132h0M2016 5259h0M2076 5137h0M2016 5152h0M2050 5203h0M1988 5305h0M1944 5208h0M2110 5144h0M2062 5212h0M2045 5233h0M1931 5244h0M1982 5135h0M2019 5156h0M1930 5238h0M2066 5183h0M2019 5133h0M1983 5254h0M1973 5135h0M2054 5173h0M1888 5146h0M1948 5170h0M2038 5165h0M1929 5210h0M1919 5156h0M2048 5162h0M2011 5300h0M1923 5156h0M1941 5187h0M2040 5153h0M2037 5171h0M2056 5214h0M1967 5147h0M2033 5235h0M1966 5117h0M2000 5256h0M1945 5253h0M1931 5248h0M2033 5275h0M1951 5175h0M1913 5257h0M1963 5253h0M1941 5205h0M1950 5167h0M1929 5177h0M1977 5132h0M2009 5146h0M1916 5138h0M1899 5256h0M1926 5225h0M1933 5260h0M1995 5276h0M2069 5222h0M1984 5252h0M2035 5128h0M2054 5272h0M2037 5134h0M1924 5230h0M2015 5252h0M2064 5226h0M2064 5265h0M2097 5207h0M1934 5280h0M2043 5177h0M2060 5197h0M2082 5160h0M1952 5158h0M2100 5289h0M2018 5288h0M1942 5195h0M1929 5265h0M2044 5186h0M1961 5275h0M1909 5120h0M1921 5257h0M2024 5250h0M1945 5196h0M2090 5143h0M1905 5138h0M1978 5263h0M2018 5251h0M2085 5183h0M2077 5136h0M2076 5152h0M1967 5144h0M1657 5547h0M1715 5407h0M1659 5509h0M1661 5520h0M1729 5562h0M1597 5594h0M1733 5554h0M1643 5492h0M1665 5517h0M1714 5553h0M1761 5506h0M1625 5449h0M1689 5564h0M1660 5446h0M1789 5445h0M1757 5583h0M1771 5455h0M1738 5444h0M1748 5403h0M1639 5486h0M1643 5530h0M1771 5460h0M1757 5546h0M1652 5489h0M1715 5555h0M1671 5530h0M1756 5450h0M1745 5521h0M1653 5471h0M1678 5537h0M1645 5461h0M1641 5539h0M1738 5438h0M1637 5489h0M1656 5529h0M1661 5531h0M1761 5466h0M1787 5469h0M1818 5568h0M1738 5424h0M1778 5568h0M1642 5476h0M1727 5583h0M1606 5532h0M1652 5460h0M1644 5511h0M1798 5497h0M1749 5455h0M1653 5500h0M1631 5447h0M1730 5588h0M1747 5548h0M1656 5454h0M1754 5515h0M1789 5560h0M1748 5532h0M1775 5464h0M1765 5461h0M1712 5385h0M1728 5528h0M1751 5430h0M1615 5545h0M1659 5453h0M1656 5452h0M1728 5406h0M1785 5543h0M1627 5494h0M1564 5543h0M1775 5459h0M1723 5565h0M1652 5427h0M1654 5559h0M1664 5420h0M1662 5538h0M1654 5468h0M1674 5435h0M1770 5414h0M1729 5430h0M1689 5567h0M1655 5566h0M1765 5553h0M1672 5412h0M1649 5415h0M1760 5496h0M1658 5416h0M1755 5565h0M1617 5508h0M1636 5456h0M1626 5551h0M1705 5560h0M1666 5383h0M1741 5434h0M1820 5500h0M1754 5435h0M1621 5420h0M1683 5575h0M1772 5394h0M1677 5429h0M1654 5460h0M1614 5499h0M1764 5546h0M1627 5496h0M1787 5514h0M1766 5489h0M1659 5405h0M1749 5433h0M1728 5423h0M1798 5494h0M1649 5483h0M1711 5369h0M1652 5499h0M1773 5540h0M1780 5501h0M1635 5493h0M1647 5446h0M1651 5445h0M1637 5516h0M1739 5526h0M1762 5489h0M1699 5382h0M1796 5568h0M1701 5417h0M1772 5461h0M1793 5492h0M1627 5504h0M1672 5529h0M1761 5496h0M1812 5501h0M1744 5449h0M1773 5481h0M1603 5525h0M1759 5428h0M1743 5440h0M1715 5420h0M1646 5500h0M1684 5530h0M1790 5539h0M1719 5560h0M1670 5404h0M1665 5453h0M1658 5468h0M1638 5462h0M1689 5635h0M1739 5583h0M1715 5605h0M1664 5454h0M1597 5436h0M1659 5431h0M1690 5422h0M1617 5485h0M1785 5502h0M1652 5519h0M1762 5449h0M1637 5427h0M1769 5453h0M1771 5463h0M1707 5542h0M1682 5431h0M1633 5542h0M1710 5420h0M1757 5437h0M1708 5594h0M1644 5554h0M1638 5465h0M1675 5382h0M1655 5581h0M1649 5541h0M1735 5434h0M1710 5429h0M1813 5412h0M1769 5539h0M1678 5434h0M1585 5519h0M1646 5473h0M1757 5440h0M1721 5410h0M1770 5538h0M1749 5571h0M1647 5445h0M1725 5425h0M1640 5524h0M1642 5464h0M1761 5538h0M1693 5432h0M1772 5383h0M1699 5415h0M1762 5505h0M1629 5536h0M1637 5486h0M1628 5411h0M1814 5471h0M1810 5550h0M1765 5391h0M1782 5487h0M1679 5579h0M1745 5522h0M1656 5469h0M1616 5491h0M1768 5404h0M1751 5557h0M1753 5428h0M1770 5528h0M1714 5428h0M1635 5465h0M1739 5548h0M1686 5545h0M1642 5508h0M1755 5547h0M1668 5438h0M1697 5562h0M1813 5514h0M1758 5384h0M1710 5535h0M1736 5536h0M1669 5411h0M1786 5516h0M1777 5453h0M1763 5458h0M1790 5432h0M1665 5421h0M1759 5442h0M1740 5549h0M1724 5568h0M1679 5598h0M1746 5417h0M1774 5424h0M1750 5414h0M1732 5405h0M1591 5503h0M1649 5537h0M1755 5569h0M1708 5429h0M1688 5435h0M1777 5431h0M1769 5533h0M1661 5555h0M1757 5484h0M1732 5410h0M1688 5398h0M1645 5454h0M1723 5550h0M1648 5592h0M1651 5519h0M1763 5575h0M1753 5455h0M1687 5430h0M1681 5362h0M1778 5524h0M1647 5424h0M1595 5516h0M1707 5421h0M1691 5387h0M1769 5537h0M1754 5522h0M1616 5432h0M1669 5526h0M1753 5463h0M1652 5480h0M1634 5462h0M1628 5493h0M1639 5443h0M1664 5549h0M1649 5407h0M1671 5422h0M1720 5397h0M1795 5459h0M1658 5444h0M1658 5533h0M1663 5368h0M1651 5478h0M1766 5520h0M1650 5517h0M1797 5448h0M1671 5416h0M1783 5442h0M1765 5459h0M1645 5493h0M1761 5561h0M1777 5492h0M1666 5560h0M1652 5505h0M1790 5507h0M1788 5404h0M1661 5546h0M1755 5517h0M1753 5450h0M1675 5433h0M1660 5453h0M1638 5453h0M1656 5472h0M1653 5477h0M1641 5532h0M1637 5463h0M1789 5495h0M1701 5575h0M1760 5468h0M1662 5437h0M1751 5425h0M1629 5535h0M1760 5513h0M1767 5482h0M1748 5516h0M1838 5438h0M1746 5388h0M1645 5426h0M1704 5547h0M1669 5545h0M1757 5489h0M1758 5528h0M1790 5467h0M1686 5422h0M1762 5437h0M1656 5422h0M1653 5515h0M1716 5407h0M1767 5477h0M1723 5433h0M1627 5548h0M1825 5449h0M1766 5434h0M1714 5576h0M1808 5432h0M1797 5521h0M1700 5421h0M1610 5553h0M1738 5522h0M1617 5509h0M1666 5412h0M1705 5603h0M1759 5549h0M1710 5600h0M1691 5430h0M1709 5423h0M1772 5500h0M1642 5498h0M1743 5412h0M1701 5545h0M1660 5416h0M1750 5439h0M1609 5419h0M1728 5558h0M1683 5559h0M1658 5510h0M1691 5429h0M1745 5452h0M1788 5512h0M1752 5508h0M1679 5552h0M1775 5444h0M1746 5518h0M1850 5616h0M1643 5584h0M1749 5545h0M1771 5441h0M1639 5506h0M1777 5466h0M1806 5408h0M1678 5422h0M1721 5578h0M1611 5353h0M1752 5535h0M1721 5568h0M1609 5534h0M1633 5469h0M1801 5438h0M1692 5535h0M1653 5549h0M1647 5509h0M1606 5540h0M1768 5481h0M1636 5474h0M1782 5449h0M1636 5523h0M1803 5489h0M1655 5510h0M1687 5609h0M1798 5395h0M1677 5529h0M1716 5534h0M1674 5442h0M1644 5471h0M1686 5425h0M1648 5528h0M1683 5434h0M1654 5454h0M1646 5507h0M1712 5545h0M1609 5481h0M1642 5421h0M1656 5536h0M1785 5464h0M1720 5571h0M1644 5442h0M1703 5392h0M1754 5403h0M1643 5455h0M1690 5564h0M1660 5555h0M1651 5442h0M1705 5419h0M1566 5491h0M1748 5440h0M1722 5559h0M1779 5499h0M1771 5439h0M1732 5526h0M1740 5521h0M1792 5594h0M1722 5417h0M1673 5550h0M1691 5533h0M1649 5501h0M1718 5350h0M1679 5550h0M1748 5512h0M1741 5536h0M1630 5533h0M1789 5443h0M1838 5540h0M1725 5436h0M1644 5456h0M1695 5418h0M1783 5530h0M1644 5448h0M1734 5540h0M1649 5481h0M1652 5420h0M1664 5525h0M1772 5555h0M1728 5540h0M1673 5527h0M1805 5467h0M1607 5397h0M1760 5521h0M1772 5460h0M1742 5542h0M1739 5534h0M1738 5573h0M1632 5471h0M1769 5455h0M1761 5425h0M1619 5408h0M1770 5407h0M1720 5382h0M1809 5516h0M1704 5387h0M1611 5424h0M1680 5428h0M1770 5380h0M1733 5432h0M1650 5540h0M1663 5412h0M1774 5431h0M1667 5559h0M1763 5462h0M1656 5424h0M1699 5560h0M1725 5426h0M1665 5438h0M1776 5561h0M1748 5432h0M1626 5443h0M1647 5444h0M1807 5438h0M1693 5410h0M1773 5525h0M1601 5483h0M1730 5436h0M1762 5457h0M1735 5427h0M1682 5432h0M1771 5548h0M1726 5402h0M1770 5516h0M1648 5419h0M1624 5405h0M1768 5501h0M1653 5473h0M1754 5541h0M1755 5464h0M1764 5416h0M1619 5450h0M1655 5486h0M1743 5534h0M1619 5541h0M1756 5463h0M1665 5527h0M1789 5459h0M1629 5524h0M1653 5566h0M1677 5551h0M1721 5540h0M1642 5509h0M1580 5445h0M1613 5467h0M1775 5420h0M1690 5413h0M1703 5406h0M1615 5481h0M1763 5435h0M1689 5417h0M1776 5495h0M1713 5412h0M1730 5605h0M1762 5491h0M1703 5422h0M1707 5534h0M1681 5547h0M1663 5512h0M1686 5538h0M1700 5432h0M1619 5431h0M1752 5519h0M1734 5427h0M1771 5457h0M1723 5553h0M1721 5555h0M1588 5444h0M1651 5493h0M1653 5563h0M1818 5447h0M1642 5500h0M1651 5505h0M1657 5535h0M1657 5508h0M1610 5333h0M1669 5528h0M1743 5553h0M1715 5430h0M1783 5441h0M1771 5483h0M1683 5438h0M1794 5483h0M1641 5509h0M1779 5477h0M1766 5489h0M1743 5553h0M1736 5395h0M1694 5536h0M1747 5520h0M1601 5567h0M1649 5453h0M1757 5441h0M1693 5555h0M1730 5410h0M1764 5498h0M1650 5499h0M1812 5455h0M1715 5545h0M1719 5537h0M1761 5526h0M1692 5371h0M1740 5434h0M1746 5554h0M1772 5510h0M1706 5579h0M1764 5546h0M1758 5417h0M1740 5415h0M1637 5550h0M1718 5575h0M1783 5414h0M1630 5563h0M1731 5539h0M1740 5426h0M1772 5459h0M1764 5539h0M1766 5563h0M1653 5399h0M1691 5411h0M1658 5532h0M1612 5392h0M1740 5555h0M1726 5549h0M1694 5550h0M1758 5337h0M1733 5567h0M1710 5543h0M1642 5431h0M1662 5536h0M1755 5499h0M1742 5434h0M1659 5404h0M1612 5553h0M1721 5552h0M1645 5440h0M1686 5582h0M1641 5420h0M1760 5493h0M1703 5553h0M1621 5417h0M1757 5416h0M1792 5497h0M1723 5531h0M1664 5533h0M1724 5374h0M1658 5429h0M1770 5517h0M1629 5400h0M1619 5422h0M1712 5428h0M1626 5514h0M1727 5402h0M1680 5416h0M1689 5424h0M1777 5449h0M1658 5516h0M1762 5466h0M1765 5542h0M1708 5567h0M1720 5430h0M1643 5444h0M1783 5477h0M1741 5436h0M1733 5585h0M1774 5480h0M1778 5431h0M1716 5541h0M1750 5375h0M1674 5438h0M1563 5464h0M1745 5529h0M1802 5478h0M1885 5514h0M1706 5427h0M1705 5539h0M1790 5508h0M1657 5420h0M1783 5455h0M1775 5447h0M1719 5431h0M1750 5551h0M1656 5417h0M1766 5458h0M1659 5521h0M1654 5502h0M1627 5489h0M1887 5533h0M1623 5417h0M1760 5466h0M1658 5514h0M1774 5434h0M1665 5448h0M1789 5414h0M1690 5421h0M1759 5438h0M1665 5546h0M1611 5466h0M1579 5479h0M1761 5476h0M1740 5554h0M1802 5414h0M1743 5548h0M1749 5435h0M1649 5475h0M1760 5489h0M1644 5532h0M1667 5567h0M1774 5485h0M1717 5392h0M1700 5429h0M1662 5508h0M1762 5481h0M1637 5514h0M1762 5508h0M1812 5448h0M1658 5505h0M1657 5497h0M1679 5528h0M1780 5490h0M1654 5417h0M1770 5497h0M1703 5544h0M1726 5420h0M1753 5452h0M1754 5502h0M1651 5488h0M1765 5422h0M1738 5551h0M1748 5444h0M1675 5588h0M1761 5430h0M1767 5522h0M1674 5391h0M1669 5423h0M1723 5418h0M1718 5546h0M1718 5573h0M1687 5426h0M1764 5482h0M1641 5451h0M1758 5420h0M1669 5541h0M1684 5422h0M1702 5534h0M1627 5534h0M1617 5481h0M1736 5583h0M1680 5432h0M1746 5429h0M1700 5409h0M1725 5377h0M1752 5523h0M1726 5594h0M1689 5345h0M1580 5474h0M1653 5478h0M1742 5400h0M1815 5501h0M1650 5483h0M1666 5547h0M1668 5546h0M1646 5492h0M1671 5440h0M1666 5444h0M1768 5501h0M1749 5436h0M1665 5570h0M1774 5496h0M1776 5509h0M1778 5530h0M1652 5490h0M1628 5467h0M1708 5538h0M1696 5551h0M1703 5539h0M1772 5498h0M1636 5539h0M1607 5513h0M1726 5344h0M1734 5604h0M1779 5501h0M1782 5516h0M1678 5424h0M1797 5529h0M1732 5536h0M1765 5523h0M1756 5497h0M1703 5547h0M1772 5450h0M1635 5469h0M1724 5531h0M1688 5545h0M1825 5479h0M1742 5434h0M1773 5491h0M1652 5422h0M1672 5413h0M1705 5580h0M1791 5505h0M1648 5487h0M1650 5475h0M1714 5543h0M1760 5601h0M1748 5453h0M1628 5651h0M1739 5430h0M1584 5507h0M1680 5540h0M1626 5446h0M1664 5453h0M1648 5468h0M1629 5430h0M1783 5537h0M1769 5510h0M1674 5444h0M1743 5530h0M1664 5530h0M1664 5389h0M1645 5469h0M1764 5428h0M1783 5497h0M1750 5437h0M1650 5483h0M1694 5535h0M1787 5560h0M1664 5438h0M1654 5510h0M1643 5454h0M1585 5427h0M1704 5429h0M1740 5577h0M1600 5578h0M1801 5504h0M1660 5538h0M1696 5434h0M1644 5520h0M1635 5422h0M1686 5542h0M1640 5506h0M1691 5413h0M1674 5436h0M1767 5499h0M1756 5535h0M1721 5547h0M1616 5473h0M1794 5425h0M1622 5460h0M1656 5471h0M1621 5483h0M1818 5401h0M1637 5483h0M1764 5489h0M1683 5412h0M1619 5397h0M1715 5561h0M1770 5499h0M1658 5568h0M1657 5542h0M1657 5505h0M1671 5530h0M1631 5530h0M1650 5551h0M1754 5512h0M1665 5520h0M1648 5456h0M1767 5394h0M1718 5624h0M1767 5505h0M1740 5548h0M1631 5491h0M1759 5495h0M1652 5516h0M1811 5464h0M1612 5575h0M1756 5492h0M1791 5499h0M1671 5356h0M1738 5429h0M1705 5404h0M1666 5442h0M1663 5429h0M1757 5409h0M1696 5561h0M1727 5543h0M1691 5409h0M1726 5435h0M1655 5475h0M1675 5438h0M1590 5515h0M1681 5406h0M1799 5514h0M1789 5495h0M1678 5419h0M1762 5514h0M1784 5445h0M1588 5518h0M1595 5467h0M1656 5447h0M1616 5445h0M1636 5483h0M1624 5587h0M1778 5501h0M1735 5549h0M1791 5372h0M1752 5505h0M1675 5576h0M1694 5537h0M1730 5412h0M1784 5415h0M1636 5451h0M1682 5541h0M1693 5565h0M1770 5538h0M1681 5410h0M1763 5532h0M1778 5387h0M1737 5598h0M1756 5523h0M1675 5556h0M1737 5529h0M1786 5498h0M1753 5453h0M1651 5519h0M1772 5491h0M1680 5419h0M1748 5535h0M1757 5492h0M1742 5525h0M1769 5449h0M1681 5412h0M1758 5521h0M1687 5428h0M1662 5567h0M1664 5454h0M1800 5391h0M1655 5441h0M1681 5387h0M1715 5424h0M1644 5501h0M1670 5562h0M1652 5499h0M1655 5550h0M1621 5470h0M1797 5508h0M1676 5563h0M1707 5560h0M1697 5540h0M1638 5568h0M1650 5497h0M1746 5444h0M1731 5413h0M1639 5522h0M1771 5439h0M1784 5503h0M1793 5468h0M1797 5458h0M1790 5520h0M1640 5537h0M1649 5562h0M1707 5375h0M1834 5473h0M1563 5532h0M1711 5379h0M1755 5532h0M1684 5428h0M1727 5436h0M1772 5477h0M1671 5410h0M1630 5542h0M1618 5468h0M1814 5580h0M1742 5586h0M1652 5488h0M1686 5348h0M1714 5536h0M1681 5435h0M1774 5459h0M1751 5506h0M1811 5433h0M1821 5409h0M1719 5432h0M1748 5372h0M1663 5446h0M1874 5558h0M1777 5514h0M1701 5393h0M1608 5510h0M1762 5482h0M1830 5501h0M1652 5509h0M1657 5545h0M1706 5557h0M1640 5548h0M1786 5528h0M1708 5533h0M1766 5416h0M1683 5548h0M1672 5433h0M1643 5489h0M1715 5433h0M1637 5473h0M1657 5563h0M1647 5436h0M1634 5494h0M1660 5515h0M1754 5444h0M1695 5564h0M1725 5547h0M1740 5405h0M1689 5424h0M1690 5540h0M1644 5405h0M1751 5506h0M1739 5442h0M1641 5550h0M1663 5436h0M1766 5483h0M1631 5494h0M1649 5481h0M1687 5564h0M1659 5535h0M1752 5504h0M1668 5536h0M1625 5552h0M1720 5567h0M1704 5583h0M1643 5485h0M1641 5460h0M1792 5388h0M1792 5529h0M1705 5547h0M1722 5409h0M1741 5419h0M1742 5425h0M1626 5531h0M1793 5487h0M1782 5474h0M1702 5388h0M1767 5464h0M1754 5454h0M1617 5500h0M1758 5376h0M1650 5544h0M1783 5467h0M1727 5431h0M1758 5566h0M1626 5416h0M1689 5383h0M1635 5564h0M1660 5437h0M1754 5545h0M1734 5558h0M1727 5399h0M1660 5439h0M1743 5555h0M1730 5426h0M1798 5424h0M1701 5534h0M1745 5429h0M1747 5526h0M1634 5471h0M1716 5533h0M1735 5546h0M1820 5485h0M1666 5439h0M1575 5448h0M1701 5419h0M1687 5543h0M1746 5424h0M1695 5418h0M1729 5535h0M1732 5528h0M1752 5456h0M1733 5538h0M1669 5567h0M1749 5422h0M1637 5370h0M1587 5493h0M1707 5573h0M1710 5415h0M1653 5420h0M1755 5447h0M1723 5562h0M1660 5431h0M1659 5532h0M1747 5566h0M1754 5513h0M1654 5474h0M1715 5576h0M1762 5437h0M1748 5445h0M1722 5575h0M1603 5578h0M1655 5504h0M1692 5534h0M1693 5533h0M1599 5405h0M1720 5539h0M1620 5475h0M1739 5522h0M1756 5519h0M1700 5548h0M1785 5469h0M1771 5446h0M1629 5478h0M1602 5448h0M1751 5436h0M1784 5466h0M1656 5498h0M1738 5523h0M1619 5560h0M1758 5526h0M1652 5406h0M1619 5411h0M1696 5545h0M1789 5471h0M1685 5536h0M1716 5369h0M1763 5515h0M1637 5490h0M1706 5605h0M1755 5585h0M1757 5470h0M1766 5563h0M1746 5397h0M1756 5534h0M1694 5562h0M1714 5580h0M1770 5455h0M1770 5514h0M1705 5401h0M1716 5408h0M1598 5462h0M1828 5457h0M1784 5530h0M1687 5430h0M1736 5525h0M1666 5550h0M1639 5536h0M1725 5544h0M1633 5496h0M1687 5542h0M1792 5436h0M1771 5506h0M1658 5408h0M1759 5460h0M1783 5417h0M1786 5525h0M1654 5431h0M1679 5525h0M1652 5460h0M1683 5435h0M1656 5498h0M1765 5471h0M1785 5596h0M1763 5461h0M1899 5483h0M1612 5473h0M1772 5522h0M1746 5584h0M1755 5472h0M1729 5546h0M1640 5499h0M1726 5531h0M1740 5564h0M1681 5414h0M1653 5463h0M1658 5467h0M1675 5545h0M1718 5540h0M1640 5469h0M1634 5507h0M1732 5553h0M1757 5388h0M1792 5582h0M1760 5501h0M1693 5435h0M1704 5548h0M1619 5504h0M1653 5486h0M1758 5460h0M1744 5563h0M1640 5354h0M1682 5399h0M1654 5543h0M1780 5411h0M1759 5481h0M1633 5431h0M1663 5527h0M1650 5479h0M1792 5414h0M1624 5545h0M1806 5445h0M1641 5492h0M1699 5548h0M1751 5521h0M1641 5432h0M1699 5546h0M1618 5463h0M1781 5545h0M1763 5472h0M1743 5529h0M1637 5469h0M1715 5430h0M1644 5434h0M1638 5566h0M1712 5394h0M1749 5556h0M1747 5437h0M1731 5437h0M1777 5452h0M1767 5523h0M1651 5421h0M1648 5504h0M1623 5554h0M1744 5411h0M1732 5530h0M1619 5502h0M1792 5511h0M1767 5454h0M1762 5454h0M1770 5459h0M1800 5464h0M1751 5516h0M1762 5425h0M1761 5398h0M1668 5535h0M1762 5488h0M1763 5526h0M1772 5435h0M1741 5540h0M1639 5504h0M1740 5536h0M1781 5453h0M1774 5505h0M1738 5433h0M1732 5429h0M1678 5538h0M1777 5509h0M1800 5453h0M1762 5516h0M1758 5509h0M1730 5405h0M1653 5500h0M1673 5397h0M1831 5567h0M1691 5555h0M1748 5387h0M1656 5422h0M1783 5431h0M1759 5504h0M1770 5477h0M1685 5384h0M1752 5440h0M1667 5432h0M1750 5509h0M1647 5444h0M1650 5575h0M1719 5413h0M1822 5479h0M1730 5557h0M1677 5529h0M1670 5596h0M1733 5395h0M1780 5530h0M1655 5486h0M1600 5495h0M1699 5540h0M1759 5439h0M1704 5543h0M1698 5604h0M1613 5463h0M1602 5414h0M1810 5469h0M1724 5436h0M1658 5559h0M1751 5540h0M1769 5501h0M1789 5448h0M1786 5453h0M1755 5629h0M1707 5542h0M1622 5505h0M1632 5376h0M1661 5534h0M1583 5522h0M1681 5540h0M1692 5535h0M1652 5499h0M1699 5430h0M1778 5417h0M1785 5584h0M1668 5517h0M1772 5425h0M1675 5565h0M1761 5546h0M1675 5388h0M1707 5574h0M1727 5541h0M1697 5433h0M1676 5394h0M1669 5392h0M1712 5560h0M1612 5493h0M1622 5499h0M1642 5499h0M1666 5531h0M1788 5455h0M1641 5501h0M1655 5477h0M1742 5389h0M1745 5515h0M1646 5551h0M1759 5458h0M1657 5520h0M1676 5388h0M1766 5453h0M1765 5405h0M1760 5445h0M1733 5535h0M1760 5426h0M1792 5477h0M1621 5458h0M1697 5413h0M1725 5427h0M1630 5390h0M1704 5574h0M1711 5382h0M1603 5505h0M1631 5486h0M1684 5372h0M1823 5508h0M1645 5506h0M1749 5376h0M1632 5465h0M1648 5476h0M1721 5549h0M1726 5392h0M1756 5470h0M1677 5524h0M1742 5521h0M1658 5452h0M1674 5542h0M1768 5506h0M1707 5551h0M1785 5481h0M1740 5523h0M1842 5465h0M1729 5545h0M1767 5530h0M1603 5467h0M1686 5577h0M1728 5429h0M1780 5483h0M1645 5441h0M1800 5534h0M1639 5552h0M1752 5413h0M1594 5455h0M1685 5531h0M1730 5427h0M1642 5513h0M1738 5525h0M1620 5575h0M1620 5486h0M1713 5402h0M1540 5425h0M1619 5481h0M1762 5512h0M1709 5535h0M1740 5394h0M1809 5496h0M1687 5430h0M1724 5413h0M1751 5516h0M1755 5510h0M1731 5531h0M1717 5424h0M1805 5500h0M1651 5458h0M1703 5582h0M1673 5532h0M1785 5552h0M1695 5417h0M1731 5431h0M1736 5535h0M1706 5408h0M1717 5538h0M1781 5429h0M1763 5498h0M1791 5442h0M1765 5503h0M1697 5543h0M1767 5451h0M1769 5523h0M1638 5552h0M1678 5529h0M1645 5572h0M1697 5566h0M1632 5454h0M1713 5563h0M1692 5555h0M1681 5421h0M1652 5549h0M1709 5423h0M1757 5436h0M1753 5524h0M1604 5452h0M1654 5498h0M1769 5456h0M1750 5430h0M1641 5458h0M1650 5565h0M1635 5485h0M1602 5448h0M1709 5565h0M1752 5528h0M1794 5489h0M1599 5477h0M1785 5437h0M1735 5552h0M1741 5519h0M1811 5471h0M1750 5455h0M1693 5353h0M1684 5404h0M1769 5495h0M1761 5456h0M1636 5419h0M1742 5555h0M1662 5539h0M1584 5478h0M1785 5414h0M1743 5527h0M1643 5406h0M1780 5554h0M1600 5505h0M1695 5433h0M1743 5531h0M1709 5424h0M1659 5395h0M1672 5441h0M1784 5477h0M1645 5470h0M1710 5540h0M1763 5480h0M1758 5531h0M1699 5427h0M1656 5425h0M1779 5402h0M1663 5522h0M1848 5466h0M1837 5474h0M1741 5437h0M1748 5516h0M1629 5544h0M1730 5432h0M1764 5507h0M1630 5465h0M1644 5497h0M1780 5413h0M1733 5546h0M1734 5535h0M1739 5442h0M1798 5439h0M1699 5558h0M1776 5498h0M1762 5495h0M1610 5474h0M1753 5505h0M1704 5418h0M1683 5568h0M1768 5530h0M1628 5579h0M1743 5447h0M1651 5397h0M1651 5496h0M1763 5473h0M1643 5480h0M1677 5620h0M1759 5554h0M1734 5529h0M1758 5434h0M1644 5502h0M1804 5451h0M1703 5554h0M1741 5407h0M1671 5446h0M1639 5514h0M1769 5444h0M1748 5455h0M1713 5581h0M1711 5412h0M1747 5558h0M1729 5431h0M1645 5562h0M1765 5509h0M1653 5406h0M1741 5437h0M1717 5585h0M1721 5433h0M1733 5403h0M1998 5400h0M1951 5530h0M2043 5553h0M2047 5430h0M2060 5523h0M1928 5403h0M2000 5389h0M1974 5534h0M1900 5452h0M1917 5429h0M1930 5454h0M1900 5479h0M2014 5534h0M2010 5394h0M2008 5544h0M1946 5423h0M2029 5540h0M2088 5500h0M1961 5539h0M1949 5511h0M2070 5432h0M1936 5541h0M1992 5580h0M2056 5454h0M2041 5532h0M2073 5493h0M1981 5416h0M2050 5419h0M1964 5376h0M1950 5508h0M2027 5429h0M1918 5436h0M2071 5422h0M2037 5424h0M1974 5413h0M2096 5533h0M1935 5523h0M2009 5542h0M2094 5447h0M2026 5582h0M1914 5485h0M1978 5620h0M1952 5424h0M1921 5425h0M2038 5560h0M1875 5475h0M1908 5435h0M2016 5535h0M1967 5389h0M1929 5536h0M2056 5536h0M2125 5560h0M1932 5434h0M1981 5369h0M1939 5417h0M1924 5462h0M1953 5436h0M2059 5550h0M1990 5418h0M1964 5580h0M1855 5573h0M2000 5412h0M2016 5538h0M2026 5533h0M2032 5441h0M1954 5411h0M1942 5489h0M1912 5462h0M1940 5492h0M2029 5432h0M2048 5351h0M2013 5586h0M2013 5564h0M1940 5514h0M1975 5412h0M2097 5431h0M2037 5445h0M1944 5414h0M2071 5434h0M2004 5554h0M1999 5554h0M1933 5509h0M1907 5520h0M2083 5508h0M1923 5522h0M1949 5564h0M1968 5541h0M2084 5504h0M2021 5529h0M1981 5538h0M2049 5383h0M2090 5523h0M2064 5583h0M2049 5448h0M1921 5474h0M2043 5426h0M1973 5571h0M1937 5463h0M2056 5408h0M1980 5416h0M1996 5414h0M1944 5489h0M1963 5565h0M2056 5465h0M1989 5399h0M1925 5491h0M1933 5534h0M2014 5605h0M1965 5539h0M1937 5461h0M2043 5419h0M2039 5529h0M2058 5523h0M2073 5519h0M1953 5571h0M1988 5400h0M2008 5544h0M2004 5596h0M1939 5424h0M1997 5404h0M1934 5520h0M2008 5406h0M2041 5459h0M2019 5392h0M1935 5529h0M2040 5516h0M2085 5470h0M1952 5529h0M1987 5414h0M2128 5497h0M1938 5532h0M1988 5408h0M2101 5436h0M2060 5472h0M2067 5463h0M2075 5465h0M1895 5457h0M1904 5533h0M2050 5437h0M1953 5438h0M2068 5429h0M1938 5393h0M2033 5443h0M2046 5463h0M1948 5429h0M2021 5428h0M2027 5523h0M1996 5542h0M2030 5529h0M2041 5522h0M2075 5491h0M1944 5433h0M1894 5399h0M2019 5546h0M1941 5479h0M2075 5506h0M1989 5399h0M1903 5450h0M2031 5525h0M2025 5538h0M1948 5518h0M1955 5573h0M1998 5551h0M1986 5418h0M2041 5405h0M1987 5420h0M2008 5431h0M2029 5434h0M2015 5424h0M1981 5572h0M1982 5406h0M1994 5548h0M1995 5533h0M1944 5471h0M1925 5461h0M1959 5564h0M2003 5582h0M2023 5529h0M2052 5461h0M1996 5417h0M1935 5463h0M2050 5419h0M1951 5452h0M1895 5566h0M1959 5552h0M1943 5450h0M1932 5520h0M1878 5482h0M2053 5514h0M1940 5459h0M1866 5478h0M2057 5411h0M2007 5433h0M1929 5469h0M1914 5470h0M2104 5514h0M2011 5412h0M1895 5454h0M1940 5496h0M1936 5459h0M2098 5434h0M2106 5420h0M2057 5499h0M2069 5494h0M2056 5496h0M2000 5533h0M2071 5502h0M2103 5460h0M1932 5494h0M2096 5513h0M1927 5478h0M1990 5541h0M2002 5426h0M2048 5394h0M2009 5575h0M1997 5424h0M2057 5471h0M2020 5555h0M2070 5521h0M2017 5408h0M1989 5363h0M2093 5421h0M2009 5561h0M1940 5533h0M1934 5476h0M1940 5472h0M1916 5414h0M1952 5511h0M2003 5546h0M1918 5472h0M2030 5534h0M1976 5558h0M2065 5504h0M2027 5436h0M2054 5524h0M2052 5451h0M1895 5468h0M1978 5414h0M1954 5532h0M1981 5565h0M1908 5482h0M2063 5493h0M2017 5426h0M1950 5430h0M2091 5541h0M2077 5394h0M1946 5447h0M2031 5428h0M2080 5415h0M2003 5412h0M2074 5390h0M1925 5489h0M1968 5554h0M1954 5555h0M1933 5426h0M1946 5525h0M1988 5535h0M1975 5569h0M1943 5554h0M2051 5436h0M2001 5540h0M1962 5552h0M2038 5424h0M2018 5426h0M1973 5429h0M1972 5409h0M2022 5422h0M1938 5497h0M2000 5412h0M2043 5510h0M2045 5457h0M2043 5440h0M2013 5548h0M1883 5508h0M1939 5440h0M2128 5509h0M1985 5565h0M2044 5428h0M2044 5403h0M1941 5438h0M1911 5480h0M2044 5512h0M2083 5426h0M2044 5505h0M1951 5517h0M1932 5436h0M1914 5432h0M1942 5412h0M2049 5504h0M1937 5457h0M2053 5494h0M2075 5443h0M1963 5553h0M1984 5541h0M1895 5521h0M2014 5580h0M2062 5437h0M1957 5429h0M2104 5527h0M2002 5542h0M2044 5393h0M2040 5428h0M2002 5534h0M2062 5476h0M1976 5416h0M1955 5452h0M1948 5551h0M1956 5573h0M2005 5552h0M2015 5423h0M2008 5431h0M1946 5571h0M2059 5579h0M2056 5529h0M1866 5431h0M1923 5511h0M1915 5497h0M1930 5448h0M1998 5553h0M2048 5479h0M2087 5445h0M2049 5543h0M1915 5454h0M2074 5496h0M2045 5489h0M2091 5559h0M1972 5376h0M1975 5554h0M1918 5454h0M2077 5493h0M1896 5432h0M1906 5424h0M2012 5422h0M1885 5515h0M1947 5468h0M2025 5393h0M2056 5501h0M1942 5493h0M2080 5442h0M2047 5547h0M2077 5491h0M1918 5418h0M1940 5427h0M2018 5534h0M1956 5557h0M2025 5438h0M2108 5474h0M1929 5533h0M2075 5559h0M2000 5406h0M2015 5423h0M2027 5443h0M2024 5527h0M2003 5605h0M2046 5500h0M2030 5403h0M1978 5572h0M1990 5401h0M2009 5417h0M1970 5412h0M2035 5527h0M2065 5481h0M2094 5435h0M1896 5469h0M1999 5410h0M1942 5459h0M1934 5460h0M2043 5457h0M2060 5441h0M1950 5458h0M2046 5544h0M1993 5574h0M1949 5455h0M2037 5431h0M2059 5499h0M2005 5554h0M2022 5570h0M2056 5471h0M1959 5410h0M1938 5389h0M1920 5515h0M1946 5455h0M1983 5427h0M1913 5585h0M2043 5386h0M1917 5502h0M1916 5438h0M1940 5453h0M1946 5543h0M1883 5466h0M1939 5481h0M2072 5531h0M1936 5517h0M1924 5465h0M1939 5487h0M1951 5508h0M2094 5426h0M2034 5436h0M2004 5412h0M2012 5410h0M2069 5607h0M1932 5490h0M1948 5441h0M1947 5459h0M1960 5572h0M2016 5417h0M2066 5448h0M1980 5423h0M1932 5454h0M2009 5537h0M1947 5438h0M2018 5528h0M2022 5439h0M2050 5465h0M2054 5462h0M1918 5406h0M2034 5545h0M2014 5401h0M1984 5559h0M1929 5512h0M2046 5432h0M1927 5556h0M2023 5439h0M1920 5452h0M1921 5460h0M2083 5456h0M2022 5544h0M1945 5515h0M2022 5603h0M2015 5530h0M1952 5508h0M2036 5397h0M1923 5493h0M1950 5513h0M2005 5384h0M2092 5487h0M2047 5476h0M2027 5540h0M2080 5532h0M1890 5497h0M2036 5540h0M1944 5448h0M1945 5486h0M2066 5489h0M1997 5408h0M2007 5429h0M2052 5494h0M2058 5384h0M2016 5405h0M2062 5477h0M1948 5418h0M2037 5436h0M2016 5379h0M1915 5515h0M1921 5494h0M2017 5589h0M2022 5588h0M1946 5495h0M2086 5435h0M1932 5541h0M2038 5418h0M1931 5542h0M2030 5521h0M2007 5384h0M2032 5574h0M1955 5584h0M2063 5429h0M2091 5554h0M1898 5460h0M1935 5467h0M1963 5414h0M2056 5433h0M2013 5571h0M1963 5531h0M1907 5446h0M1961 5520h0M2125 5495h0M2025 5399h0M1972 5435h0M1920 5450h0M1931 5543h0M1947 5527h0M2037 5580h0M2091 5478h0M2012 5423h0M2032 5444h0M2045 5505h0M2018 5402h0M1949 5445h0M2019 5531h0M1959 5576h0M1990 5402h0M1952 5532h0M2013 5420h0M1968 5551h0M1902 5432h0M2038 5407h0M2059 5377h0M1948 5541h0M2068 5478h0M1968 5441h0M1980 5374h0M2020 5537h0M1940 5527h0M1927 5557h0M2075 5471h0M1894 5513h0M2034 5352h0M1919 5531h0M1950 5554h0M1944 5492h0M1920 5433h0M2064 5506h0M1969 5560h0M1984 5417h0M1936 5448h0M2059 5466h0M1918 5428h0M2057 5394h0M2004 5395h0M2059 5452h0M1928 5526h0M2085 5540h0M1983 5537h0M1965 5430h0M2028 5559h0M2030 5432h0M1930 5460h0M1967 5434h0M2045 5443h0M1900 5400h0M1926 5448h0M2001 5408h0M2044 5546h0M2057 5536h0M2018 5424h0M2126 5506h0M2054 5491h0M2059 5441h0M1944 5433h0M1947 5428h0M2019 5553h0M2020 5537h0M1992 5546h0M2050 5350h0M1998 5550h0M1938 5498h0M1869 5544h0M2044 5445h0M2044 5497h0M2011 5403h0M2007 5537h0M2072 5475h0M1910 5497h0M1957 5346h0M1943 5510h0M1942 5518h0M1925 5505h0M2062 5475h0M1871 5522h0M1929 5450h0M2048 5463h0M1945 5446h0M1902 5487h0M1947 5465h0M2009 5544h0M1926 5487h0M2072 5425h0M1976 5408h0M1929 5481h0M1973 5405h0M2046 5382h0M1942 5477h0M2022 5558h0M1981 5392h0M2012 5581h0M1981 5538h0M2027 5427h0M2100 5433h0M1921 5508h0M2092 5429h0M1995 5392h0M2077 5498h0M2080 5409h0M1975 5432h0M2023 5540h0M2048 5528h0M1942 5495h0M1911 5581h0M2049 5435h0M1937 5505h0M2016 5425h0M2079 5535h0M1940 5442h0M1946 5533h0M2047 5451h0M2119 5451h0M1897 5558h0M1995 5382h0M2006 5537h0M1892 5515h0M1900 5555h0M1925 5462h0M2078 5460h0M1884 5493h0M1985 5538h0M2047 5387h0M2049 5453h0M1977 5570h0M1923 5449h0M1967 5527h0M2072 5481h0M1943 5522h0M1937 5460h0M1924 5475h0M2087 5595h0M2042 5444h0M1906 5492h0M1894 5529h0M2012 5551h0M2098 5510h0M1904 5515h0M2024 5529h0M1942 5511h0M1927 5462h0M2011 5412h0M1966 5439h0M2043 5528h0M1937 5550h0M1943 5504h0M1942 5512h0M2029 5563h0M1948 5501h0M2036 5428h0M1871 5456h0M2018 5544h0M1942 5481h0M1950 5352h0M2038 5534h0M1978 5424h0M1945 5571h0M1905 5550h0M2051 5456h0M1974 5417h0M1928 5415h0M1927 5576h0M1925 5489h0M2093 5451h0M1930 5399h0M1987 5573h0M1960 5531h0M1950 5459h0M2047 5535h0M2008 5544h0M2028 5420h0M2004 5434h0M1969 5543h0M1991 5422h0M2012 5414h0M1973 5436h0M2045 5568h0M1937 5458h0M1891 5536h0M2079 5534h0M2026 5436h0M2025 5394h0M2072 5426h0M1910 5416h0M1983 5561h0M1924 5548h0M1959 5527h0M1942 5643h0M2089 5462h0M2087 5502h0M1926 5449h0M2054 5357h0M1944 5485h0M1962 5563h0M2031 5549h0M1996 5536h0M2067 5568h0M1893 5537h0M1861 5473h0M2075 5595h0M2066 5405h0M1983 5543h0M2034 5419h0M1987 5553h0M1926 5505h0M2063 5480h0M2055 5555h0M1937 5531h0M2052 5451h0M2046 5498h0M2011 5571h0M2019 5535h0M1961 5524h0M2086 5480h0M2038 5405h0M2089 5453h0M2045 5463h0M2044 5561h0M1928 5513h0M2096 5376h0M1972 5549h0M2023 5545h0M1976 5539h0M2001 5558h0M1961 5544h0M1956 5570h0M2083 5556h0M1996 5389h0M1896 5485h0M2076 5429h0M1955 5417h0M1941 5356h0M1931 5527h0M2039 5579h0M2066 5438h0M1948 5458h0M1958 5535h0M1878 5496h0M1983 5422h0M1904 5526h0M1975 5436h0M2065 5445h0M2047 5533h0M1957 5525h0M1947 5554h0M1935 5390h0M2005 5415h0M2079 5466h0M2085 5420h0M2129 5484h0M2044 5467h0M1995 5424h0M1950 5441h0M2039 5459h0M2048 5536h0M1897 5512h0M1986 5575h0M1930 5468h0M2028 5531h0M2048 5484h0M2071 5469h0M2065 5470h0M1935 5492h0M1962 5538h0M2009 5404h0M1937 5478h0M1953 5511h0M1920 5495h0M1971 5416h0M1919 5457h0M2054 5541h0M1947 5587h0M1965 5429h0M1911 5416h0M2037 5439h0M1891 5470h0M2001 5544h0M1946 5564h0M2082 5461h0M2019 5435h0M1865 5490h0M2064 5523h0M1911 5505h0M1971 5426h0M2030 5426h0M2012 5532h0M2051 5498h0M2038 5457h0M1943 5435h0M1946 5463h0M2008 5426h0M2097 5541h0M2021 5432h0M1964 5527h0M2090 5461h0M1923 5542h0M1974 5430h0M2037 5420h0M2052 5480h0M1935 5493h0M1869 5479h0M2034 5524h0M2039 5534h0M1988 5570h0M2016 5590h0M2044 5556h0M1918 5478h0M2077 5463h0M1923 5436h0M1963 5400h0M2017 5562h0M2027 5415h0M2093 5455h0M2024 5594h0M2063 5423h0M1940 5448h0M2095 5437h0M1968 5434h0M2103 5377h0M1900 5474h0M1941 5485h0M1914 5483h0M2071 5524h0M1938 5509h0M2008 5413h0M2048 5466h0M2050 5484h0M2053 5472h0M1946 5452h0M2014 5593h0M1992 5409h0M1970 5435h0M1934 5523h0M1901 5431h0M2045 5511h0M1992 5533h0M2052 5410h0M1957 5419h0M1996 5396h0M2038 5522h0M1942 5433h0M1981 5550h0M2051 5514h0M2047 5406h0M1941 5479h0M1871 5460h0M2068 5510h0M1957 5542h0M1988 5415h0M1935 5503h0M2068 5496h0M1984 5548h0M1948 5543h0M1898 5517h0M2056 5489h0M2038 5509h0M2041 5582h0M1991 5582h0M1929 5517h0M1975 5431h0M1880 5466h0M2094 5453h0M1975 5432h0M1936 5447h0M2018 5436h0M2049 5376h0M1950 5459h0M1970 5540h0M2031 5430h0M2055 5571h0M1916 5558h0M1889 5578h0M2038 5447h0M2028 5417h0M2069 5453h0M1966 5413h0M2013 5578h0M1982 5550h0M1931 5492h0M1976 5422h0M1955 5552h0M1970 5545h0M1906 5421h0M2043 5522h0M2019 5544h0M2023 5536h0M1938 5449h0M2062 5545h0M1946 5521h0M1929 5512h0M1994 5389h0M1955 5446h0M1886 5507h0M2048 5460h0M2014 5569h0M2071 5450h0M2089 5455h0M2055 5372h0M2017 5392h0M2062 5545h0M2064 5452h0M2051 5463h0M2015 5612h0M1931 5414h0M1880 5491h0M1873 5438h0M1932 5417h0M2006 5413h0M2081 5466h0M2085 5442h0M2057 5445h0M1949 5512h0M2103 5417h0M2022 5401h0M1885 5502h0M2032 5380h0M2000 5564h0M2055 5540h0M2066 5519h0M1953 5370h0M1864 5531h0M2046 5418h0M1935 5467h0M2050 5514h0M2020 5547h0M1978 5533h0M2014 5529h0M2059 5481h0M1939 5475h0M1977 5572h0M1962 5433h0M1888 5447h0M1907 5473h0M1950 5447h0M2049 5463h0M1947 5509h0M2008 5412h0M1932 5536h0M2006 5425h0M2049 5518h0M1928 5383h0M1982 5420h0M2013 5533h0M2000 5559h0M2106 5436h0M1978 5560h0M1961 5421h0M2010 5555h0M2011 5546h0M1922 5495h0M1942 5555h0M1991 5549h0M2005 5537h0M1951 5546h0M1927 5507h0M1991 5429h0M1943 5453h0M2044 5499h0M2052 5466h0M2031 5537h0M1982 5540h0M2041 5571h0M1929 5411h0M2051 5439h0M1996 5553h0M2047 5592h0M2012 5420h0M2049 5355h0M1951 5512h0M1925 5449h0M1988 5401h0M2055 5535h0M2025 5409h0M1972 5436h0M1934 5430h0M1985 5539h0M2009 5394h0M2043 5498h0M2091 5487h0M1915 5447h0M2046 5446h0M1956 5439h0M2011 5425h0M2079 5505h0M1836 5432h0M2055 5471h0M1879 5446h0M1921 5551h0M2079 5393h0M2042 5524h0M2062 5480h0M2026 5536h0M1964 5422h0M1992 5433h0M1970 5538h0M2030 5551h0M1978 5546h0M2027 5532h0M2076 5464h0M2044 5436h0M2091 5524h0M2059 5380h0M2040 5446h0M1998 5566h0M2060 5492h0M1985 5560h0M2063 5504h0M2040 5522h0M1950 5390h0M2071 5457h0M2021 5531h0M2027 5528h0M1908 5431h0M2042 5444h0M1927 5525h0M1963 5528h0M1969 5439h0M2019 5551h0M1942 5474h0M1917 5491h0M1999 5382h0M2019 5429h0M2017 5572h0M1980 5573h0M1950 5436h0M2058 5443h0M2057 5415h0M1907 5500h0M2049 5499h0M1887 5518h0M1946 5528h0M2090 5530h0M1921 5496h0M1908 5517h0M2008 5435h0M1943 5481h0M1978 5422h0M2010 5531h0M1920 5457h0M2024 5585h0M1963 5526h0M1983 5424h0M2068 5511h0M2001 5614h0M1936 5440h0M2041 5504h0M1995 5430h0M1959 5448h0M2036 5447h0M2048 5502h0M2055 5441h0M1889 5458h0M1987 5420h0M1959 5434h0M1966 5416h0M1962 5531h0M1952 5515h0M1950 5564h0M2014 5536h0M1912 5456h0M2048 5453h0M1893 5491h0M2059 5456h0M1958 5445h0M2051 5463h0M2083 5463h0M2050 5566h0M1974 5533h0M1979 5416h0M1952 5544h0M2066 5420h0M1994 5431h0M1921 5466h0M1974 5421h0M1945 5543h0M1967 5365h0M2051 5541h0M2018 5560h0M1967 5440h0M1955 5426h0M1988 5548h0M1986 5415h0M1998 5430h0M2107 5437h0M2008 5542h0M2019 5434h0M2059 5414h0M1934 5486h0M2067 5522h0M1973 5408h0M1914 5553h0M1941 5476h0M2021 5552h0M2067 5467h0M2054 5510h0M1903 5495h0M1916 5515h0M2009 5536h0M2011 5421h0M2053 5520h0M2032 5426h0M2087 5564h0M1909 5488h0M1977 5411h0M1956 5423h0M1992 5550h0M2036 5516h0M2064 5539h0M1986 5556h0M2032 5407h0M2000 5430h0M2006 5409h0M2035 5428h0M1933 5470h0M1922 5473h0M2083 5422h0M2037 5445h0M1943 5425h0M1975 5534h0M2086 5439h0M1884 5482h0M2012 5401h0M2051 5386h0M2027 5521h0M2001 5537h0M1982 5552h0M1924 5417h0M1959 5519h0M2028 5549h0M2014 5402h0M1935 5476h0M1909 5540h0M1972 5415h0M2161 5473h0M1940 5431h0M2068 5482h0M2081 5489h0M2024 5592h0M2040 5515h0M1947 5561h0M1956 5406h0M2085 5476h0M1984 5542h0M2058 5507h0M1944 5454h0M2035 5452h0M1981 5556h0M2001 5601h0M1952 5456h0M1927 5508h0M2048 5519h0M2043 5513h0M2065 5535h0M1940 5413h0M2019 5392h0M1946 5430h0M2084 5487h0M1942 5295h0M1987 5551h0M2085 5417h0M2057 5513h0M1924 5483h0M2017 5549h0M1940 5511h0M1953 5403h0M2008 5385h0M1969 5593h0M2060 5494h0M1966 5388h0M1926 5482h0M1969 5531h0M2111 5482h0M1935 5419h0M1966 5436h0M1967 5543h0M2070 5467h0M2039 5561h0M2057 5508h0M1960 5441h0M1988 5428h0M1915 5515h0M1933 5530h0M1971 5527h0M1902 5480h0M2044 5531h0M1856 5539h0M2074 5411h0M1932 5559h0M1904 5549h0M2015 5549h0M1928 5511h0M2010 5429h0M1952 5418h0M2088 5518h0M1983 5561h0M1945 5486h0M1921 5550h0M2040 5536h0M1942 5436h0M2004 5426h0M1954 5530h0M1935 5492h0M2057 5498h0M2025 5542h0M2021 5430h0M1941 5491h0M1992 5552h0M2050 5424h0M1953 5402h0M2011 5417h0M1950 5558h0M1964 5421h0M1911 5449h0M2086 5493h0M2040 5410h0M2058 5513h0M2107 5464h0M1946 5522h0M1932 5450h0M1922 5533h0M2036 5416h0M2066 5511h0M2039 5558h0M1931 5473h0M2030 5377h0M1969 5374h0M1997 5409h0M2083 5520h0M2082 5468h0M2035 5515h0M2049 5524h0M1933 5545h0M1988 5563h0M1991 5420h0M2083 5536h0M1944 5573h0M2019 5366h0M2057 5557h0M1935 5585h0M2022 5411h0M1943 5530h0M2048 5471h0M2050 5506h0M1980 5549h0M2044 5404h0M2094 5547h0M2034 5398h0M2018 5425h0M2026 5439h0M2040 5504h0M1942 5511h0M2039 5532h0M2033 5441h0M2049 5391h0M2069 5488h0M1972 5527h0M2067 5456h0M2042 5539h0M1908 5502h0M2004 5391h0M2023 5329h0M2031 5436h0M1944 5498h0M2035 5418h0M1912 5496h0M1935 5503h0M2062 5455h0M1950 5529h0M2005 5384h0M2064 5474h0M2087 5476h0M1926 5424h0M2053 5449h0M1962 5421h0M2034 5427h0M1948 5463h0M1987 5574h0M2060 5441h0M2044 5528h0M2065 5447h0M2070 5530h0M2048 5460h0M1948 5456h0M2037 5452h0M2046 5434h0M1945 5447h0M2061 5486h0M1990 5414h0M2052 5528h0M1922 5465h0M1949 5413h0M2000 5374h0M1949 5599h0M2050 5422h0M1898 5489h0M2009 5406h0M1959 5589h0M2044 5428h0M2082 5459h0M2018 5561h0M1974 5532h0M1924 5454h0M1940 5418h0M1974 5436h0M1881 5548h0M2097 5565h0M2034 5449h0M1968 5420h0M1969 5547h0M1975 5641h0M2078 5460h0M2037 5429h0M1964 5527h0M2079 5487h0M1927 5394h0M2074 5450h0M1916 5464h0M1977 5436h0M1889 5492h0M1916 5422h0M2018 5550h0M2013 5544h0M1939 5468h0M2024 5423h0M2028 5584h0M2074 5409h0M1972 5436h0M1892 5605h0M1940 5502h0M2059 5596h0M1936 5571h0M1936 5481h0M2068 5511h0M2051 5465h0M1908 5505h0M1932 5474h0M1981 5580h0M1950 5460h0M1989 5544h0M2033 5427h0M2048 5563h0M1947 5414h0M1977 5538h0M2066 5484h0M1956 5450h0M1939 5513h0M1947 5468h0M2009 5429h0M1904 5436h0M1943 5390h0M1982 5391h0M2015 5422h0M1945 5439h0M2050 5488h0M2027 5531h0M1909 5505h0M2016 5540h0M2057 5406h0M2071 5526h0M2060 5559h0M1934 5462h0M2018 5435h0M1947 5523h0M2050 5537h0M1996 5574h0M2088 5424h0M1969 5542h0M2001 5534h0M2079 5500h0M1984 5573h0M2028 5553h0M2062 5491h0M1995 5541h0M1943 5544h0M1926 5512h0M1912 5448h0M2001 5397h0M2007 5409h0M2065 5533h0M1954 5522h0M1978 5419h0M2045 5476h0M1960 5531h0M2024 5442h0M1962 5443h0M2008 5434h0M2101 5526h0M1926 5482h0M1932 5567h0M1950 5559h0M1988 5411h0M1939 5526h0M2048 5401h0M1961 5526h0M2054 5486h0M1923 5422h0M2072 5443h0M1835 5550h0M2036 5532h0M2039 5446h0M1980 5559h0M2061 5382h0M2005 5540h0M2069 5434h0M1938 5434h0M1897 5563h0M1930 5512h0M2070 5520h0M1964 5532h0M1949 5385h0M1975 5420h0M2012 5539h0M2041 5516h0M1953 5379h0M2054 5517h0M1927 5479h0M1941 5526h0M1966 5429h0M2000 5583h0M1933 5564h0M2024 5536h0M1984 5397h0M2008 5559h0M1934 5436h0M2055 5443h0M1925 5425h0M1900 5551h0" stroke="#0000ff" stroke-width="6" stroke-linecap="square" fill="none"/>
<line x1="219" y1="534.2" x2="233" y2="529.8" stroke="#000" stroke-width="1.6"/>
<polygon points="238.5,528 231.5,527 233.4,533.4" fill="#000" stroke="none" stroke-width="1"/>
<rect x="42.6" y="356.5" width="288" height="220" fill="none" stroke="#111" stroke-width="1.3" rx="0"/>
<line x1="56.6" y1="576.5" x2="56.6" y2="573.5" stroke="#111" stroke-width="1"/>
<line x1="56.6" y1="356.5" x2="56.6" y2="359.5" stroke="#111" stroke-width="1"/>
<text x="56.6" y="589.9" font-size="11" text-anchor="middle" fill="#000">8</text>
<line x1="85.42" y1="576.5" x2="85.42" y2="573.5" stroke="#111" stroke-width="1"/>
<line x1="85.42" y1="356.5" x2="85.42" y2="359.5" stroke="#111" stroke-width="1"/>
<text x="85.42" y="589.9" font-size="11" text-anchor="middle" fill="#000">10</text>
<line x1="114.24" y1="576.5" x2="114.24" y2="573.5" stroke="#111" stroke-width="1"/>
<line x1="114.24" y1="356.5" x2="114.24" y2="359.5" stroke="#111" stroke-width="1"/>
<text x="114.24" y="589.9" font-size="11" text-anchor="middle" fill="#000">12</text>
<line x1="143.06" y1="576.5" x2="143.06" y2="573.5" stroke="#111" stroke-width="1"/>
<line x1="143.06" y1="356.5" x2="143.06" y2="359.5" stroke="#111" stroke-width="1"/>
<text x="143.06" y="589.9" font-size="11" text-anchor="middle" fill="#000">14</text>
<line x1="171.88" y1="576.5" x2="171.88" y2="573.5" stroke="#111" stroke-width="1"/>
<line x1="171.88" y1="356.5" x2="171.88" y2="359.5" stroke="#111" stroke-width="1"/>
<text x="171.88" y="589.9" font-size="11" text-anchor="middle" fill="#000">16</text>
<line x1="200.7" y1="576.5" x2="200.7" y2="573.5" stroke="#111" stroke-width="1"/>
<line x1="200.7" y1="356.5" x2="200.7" y2="359.5" stroke="#111" stroke-width="1"/>
<text x="200.7" y="589.9" font-size="11" text-anchor="middle" fill="#000">18</text>
<line x1="229.52" y1="576.5" x2="229.52" y2="573.5" stroke="#111" stroke-width="1"/>
<line x1="229.52" y1="356.5" x2="229.52" y2="359.5" stroke="#111" stroke-width="1"/>
<text x="229.52" y="589.9" font-size="11" text-anchor="middle" fill="#000">20</text>
<line x1="258.34" y1="576.5" x2="258.34" y2="573.5" stroke="#111" stroke-width="1"/>
<line x1="258.34" y1="356.5" x2="258.34" y2="359.5" stroke="#111" stroke-width="1"/>
<text x="258.34" y="589.9" font-size="11" text-anchor="middle" fill="#000">22</text>
<line x1="287.16" y1="576.5" x2="287.16" y2="573.5" stroke="#111" stroke-width="1"/>
<line x1="287.16" y1="356.5" x2="287.16" y2="359.5" stroke="#111" stroke-width="1"/>
<text x="287.16" y="589.9" font-size="11" text-anchor="middle" fill="#000">24</text>
<line x1="315.98" y1="576.5" x2="315.98" y2="573.5" stroke="#111" stroke-width="1"/>
<line x1="315.98" y1="356.5" x2="315.98" y2="359.5" stroke="#111" stroke-width="1"/>
<text x="315.98" y="589.9" font-size="11" text-anchor="middle" fill="#000">26</text>
<line x1="42.6" y1="421.4" x2="45.6" y2="421.4" stroke="#111" stroke-width="1"/>
<line x1="330.6" y1="421.4" x2="327.6" y2="421.4" stroke="#111" stroke-width="1"/>
<line x1="42.6" y1="512.44" x2="45.6" y2="512.44" stroke="#111" stroke-width="1"/>
<line x1="330.6" y1="512.44" x2="327.6" y2="512.44" stroke="#111" stroke-width="1"/>
<text x="36.5" y="425.7" font-size="11" text-anchor="end" fill="#000">2</text>
<text x="36.5" y="516.7" font-size="11" text-anchor="end" fill="#000">3</text>
<text x="36.5" y="580.6" font-size="11" text-anchor="end" fill="#000">4</text>
<text x="186.9" y="607.2" font-size="11.5" text-anchor="middle" fill="#000">Received OSNR(dB)</text>
<text x="20.3" y="467.3" font-size="11.6" text-anchor="middle" fill="#000" transform="rotate(-90 20.3 467.3)">-Log<tspan font-size="8" dy="2.7">10</tspan><tspan dy="-2.7">(BER)</tspan></text>
<text x="359.8" y="359.2" font-size="16.5" text-anchor="start" fill="#000" font-weight="bold">f</text>
<line x1="427.02" y1="356.5" x2="427.02" y2="577" stroke="#d6d6d6" stroke-width="1"/>
<line x1="462.34" y1="356.5" x2="462.34" y2="577" stroke="#d6d6d6" stroke-width="1"/>
<line x1="497.66" y1="356.5" x2="497.66" y2="577" stroke="#d6d6d6" stroke-width="1"/>
<line x1="532.98" y1="356.5" x2="532.98" y2="577" stroke="#d6d6d6" stroke-width="1"/>
<line x1="568.3" y1="356.5" x2="568.3" y2="577" stroke="#d6d6d6" stroke-width="1"/>
<line x1="603.62" y1="356.5" x2="603.62" y2="577" stroke="#d6d6d6" stroke-width="1"/>
<line x1="638.94" y1="356.5" x2="638.94" y2="577" stroke="#d6d6d6" stroke-width="1"/>
<line x1="674.26" y1="356.5" x2="674.26" y2="577" stroke="#d6d6d6" stroke-width="1"/>
<line x1="392.8" y1="409.4" x2="682" y2="409.4" stroke="#d6d6d6" stroke-width="1"/>
<line x1="392.8" y1="483.82" x2="682" y2="483.82" stroke="#d6d6d6" stroke-width="1"/>
<line x1="392.8" y1="536.62" x2="682" y2="536.62" stroke="#d6d6d6" stroke-width="1"/>
<rect x="455" y="380.5" width="167" height="41" fill="#fff" stroke="none" stroke-width="1" rx="0"/>
<rect x="588" y="495" width="78" height="69" fill="#fff" stroke="none" stroke-width="1" rx="0"/>
<text x="426.4" y="417.6" font-size="9.6" text-anchor="middle" fill="#ff0000">7% FEC</text>
<text x="427.3" y="429.4" font-size="9.6" text-anchor="middle" fill="#ff0000">Threshold</text>
<polygon points="464.5,388.6 474.7,388.6 469.6,397.4" fill="#f28e2b" stroke="none" stroke-width="1"/>
<text x="480.4" y="396.2" font-size="9.6" text-anchor="start" fill="#000">TE<tspan font-size="8.2" dy="3.4">0</tspan></text>
<circle cx="469.6" cy="411.4" r="4.35" fill="#b48cb6"/>
<text x="480.4" y="414.6" font-size="9.6" text-anchor="start" fill="#000">TM<tspan font-size="8.2" dy="3.4">0</tspan></text>
<polygon points="525.6,393 534.8,387.5 534.8,398.5" fill="#e15759" stroke="none" stroke-width="1"/>
<text x="539.4" y="396.2" font-size="9.6" text-anchor="start" fill="#000">TE<tspan font-size="8.2" dy="3.4">1</tspan></text>
<rect x="527.4" y="407.7" width="7.2" height="7.4" fill="#76b7b2" stroke="none" stroke-width="1" rx="0"/>
<text x="539.4" y="414.6" font-size="9.6" text-anchor="start" fill="#000">TM<tspan font-size="8.2" dy="3.4">1</tspan></text>
<polygon points="581.6,386.7 586.2,393 581.6,399.3 577,393" fill="#59a14f" stroke="none" stroke-width="1"/>
<text x="591.6" y="396.2" font-size="9.6" text-anchor="start" fill="#000">TE<tspan font-size="8.2" dy="3.4">2</tspan></text>
<polygon points="581.6,406 583.17,408.69 586.28,408.7 584.73,411.4 586.28,414.1 583.17,414.11 581.6,416.8 580.03,414.11 576.92,414.1 578.47,411.4 576.92,408.7 580.03,408.69" fill="#4e79a7" stroke="none" stroke-width="1"/>
<text x="591.6" y="414.6" font-size="9.6" text-anchor="start" fill="#000">TM<tspan font-size="8.2" dy="3.4">2</tspan></text>
<polygon points="395.43,485.6 405.63,485.6 400.53,494.4" fill="#f28e2b" stroke="none" stroke-width="1"/>
<polygon points="404.26,479.6 414.46,479.6 409.36,488.4" fill="#f28e2b" stroke="none" stroke-width="1"/>
<polygon points="413.09,475.3 423.29,475.3 418.19,484.1" fill="#f28e2b" stroke="none" stroke-width="1"/>
<polygon points="421.92,482.1 432.12,482.1 427.02,490.9" fill="#f28e2b" stroke="none" stroke-width="1"/>
<polygon points="430.75,486.6 440.95,486.6 435.85,495.4" fill="#f28e2b" stroke="none" stroke-width="1"/>
<polygon points="439.58,488.6 449.78,488.6 444.68,497.4" fill="#f28e2b" stroke="none" stroke-width="1"/>
<polygon points="448.41,490.4 458.61,490.4 453.51,499.2" fill="#f28e2b" stroke="none" stroke-width="1"/>
<polygon points="457.24,473.6 467.44,473.6 462.34,482.4" fill="#f28e2b" stroke="none" stroke-width="1"/>
<polygon points="466.07,500.9 476.27,500.9 471.17,509.7" fill="#f28e2b" stroke="none" stroke-width="1"/>
<polygon points="474.9,492.6 485.1,492.6 480,501.4" fill="#f28e2b" stroke="none" stroke-width="1"/>
<polygon points="483.73,495.6 493.93,495.6 488.83,504.4" fill="#f28e2b" stroke="none" stroke-width="1"/>
<polygon points="492.56,508.4 502.76,508.4 497.66,517.2" fill="#f28e2b" stroke="none" stroke-width="1"/>
<polygon points="501.39,495.6 511.59,495.6 506.49,504.4" fill="#f28e2b" stroke="none" stroke-width="1"/>
<polygon points="510.22,500.1 520.42,500.1 515.32,508.9" fill="#f28e2b" stroke="none" stroke-width="1"/>
<polygon points="519.05,500.6 529.25,500.6 524.15,509.4" fill="#f28e2b" stroke="none" stroke-width="1"/>
<polygon points="527.88,510.6 538.08,510.6 532.98,519.4" fill="#f28e2b" stroke="none" stroke-width="1"/>
<polygon points="536.71,510.6 546.91,510.6 541.81,519.4" fill="#f28e2b" stroke="none" stroke-width="1"/>
<polygon points="545.54,490.6 555.74,490.6 550.64,499.4" fill="#f28e2b" stroke="none" stroke-width="1"/>
<polygon points="554.37,482.8 564.57,482.8 559.47,491.6" fill="#f28e2b" stroke="none" stroke-width="1"/>
<polygon points="563.2,477.6 573.4,477.6 568.3,486.4" fill="#f28e2b" stroke="none" stroke-width="1"/>
<polygon points="572.03,461.6 582.23,461.6 577.13,470.4" fill="#f28e2b" stroke="none" stroke-width="1"/>
<polygon points="580.86,454.6 591.06,454.6 585.96,463.4" fill="#f28e2b" stroke="none" stroke-width="1"/>
<polygon points="589.69,464 599.89,464 594.79,472.8" fill="#f28e2b" stroke="none" stroke-width="1"/>
<polygon points="598.52,464 608.72,464 603.62,472.8" fill="#f28e2b" stroke="none" stroke-width="1"/>
<polygon points="607.35,461.6 617.55,461.6 612.45,470.4" fill="#f28e2b" stroke="none" stroke-width="1"/>
<polygon points="616.18,466.3 626.38,466.3 621.28,475.1" fill="#f28e2b" stroke="none" stroke-width="1"/>
<polygon points="625.01,471.6 635.21,471.6 630.11,480.4" fill="#f28e2b" stroke="none" stroke-width="1"/>
<polygon points="633.84,473.6 644.04,473.6 638.94,482.4" fill="#f28e2b" stroke="none" stroke-width="1"/>
<polygon points="642.67,454.2 652.87,454.2 647.77,463" fill="#f28e2b" stroke="none" stroke-width="1"/>
<polygon points="651.5,465.6 661.7,465.6 656.6,474.4" fill="#f28e2b" stroke="none" stroke-width="1"/>
<polygon points="660.33,457.6 670.53,457.6 665.43,466.4" fill="#f28e2b" stroke="none" stroke-width="1"/>
<polygon points="669.16,455.6 679.36,455.6 674.26,464.4" fill="#f28e2b" stroke="none" stroke-width="1"/>
<circle cx="400.53" cy="476.7" r="4.35" fill="#b48cb6"/>
<circle cx="409.36" cy="473" r="4.35" fill="#b48cb6"/>
<circle cx="418.19" cy="488.7" r="4.35" fill="#b48cb6"/>
<circle cx="427.02" cy="473" r="4.35" fill="#b48cb6"/>
<circle cx="435.85" cy="486.5" r="4.35" fill="#b48cb6"/>
<circle cx="444.68" cy="485.7" r="4.35" fill="#b48cb6"/>
<circle cx="453.51" cy="487" r="4.35" fill="#b48cb6"/>
<circle cx="462.34" cy="487.2" r="4.35" fill="#b48cb6"/>
<circle cx="471.17" cy="490" r="4.35" fill="#b48cb6"/>
<circle cx="480" cy="490" r="4.35" fill="#b48cb6"/>
<circle cx="488.83" cy="491" r="4.35" fill="#b48cb6"/>
<circle cx="497.66" cy="494" r="4.35" fill="#b48cb6"/>
<circle cx="506.49" cy="494.8" r="4.35" fill="#b48cb6"/>
<circle cx="515.32" cy="498.5" r="4.35" fill="#b48cb6"/>
<circle cx="524.15" cy="503.8" r="4.35" fill="#b48cb6"/>
<circle cx="532.98" cy="509.8" r="4.35" fill="#b48cb6"/>
<circle cx="541.81" cy="484.2" r="4.35" fill="#b48cb6"/>
<circle cx="550.64" cy="490" r="4.35" fill="#b48cb6"/>
<circle cx="559.47" cy="478.2" r="4.35" fill="#b48cb6"/>
<circle cx="568.3" cy="491" r="4.35" fill="#b48cb6"/>
<circle cx="577.13" cy="467.6" r="4.35" fill="#b48cb6"/>
<circle cx="585.96" cy="460.9" r="4.35" fill="#b48cb6"/>
<circle cx="594.79" cy="457" r="4.35" fill="#b48cb6"/>
<circle cx="603.62" cy="463.9" r="4.35" fill="#b48cb6"/>
<circle cx="612.45" cy="464.5" r="4.35" fill="#b48cb6"/>
<circle cx="621.28" cy="458" r="4.35" fill="#b48cb6"/>
<circle cx="630.11" cy="456" r="4.35" fill="#b48cb6"/>
<circle cx="638.94" cy="450" r="4.35" fill="#b48cb6"/>
<circle cx="647.77" cy="452" r="4.35" fill="#b48cb6"/>
<circle cx="656.6" cy="455" r="4.35" fill="#b48cb6"/>
<circle cx="665.43" cy="450" r="4.35" fill="#b48cb6"/>
<circle cx="674.26" cy="452" r="4.35" fill="#b48cb6"/>
<polygon points="395.93,448 405.13,442.5 405.13,453.5" fill="#e15759" stroke="none" stroke-width="1"/>
<polygon points="404.76,445 413.96,439.5 413.96,450.5" fill="#e15759" stroke="none" stroke-width="1"/>
<polygon points="413.59,461.6 422.79,456.1 422.79,467.1" fill="#e15759" stroke="none" stroke-width="1"/>
<polygon points="422.42,459.4 431.62,453.9 431.62,464.9" fill="#e15759" stroke="none" stroke-width="1"/>
<polygon points="431.25,444.3 440.45,438.8 440.45,449.8" fill="#e15759" stroke="none" stroke-width="1"/>
<polygon points="440.08,446.6 449.28,441.1 449.28,452.1" fill="#e15759" stroke="none" stroke-width="1"/>
<polygon points="448.91,481 458.11,475.5 458.11,486.5" fill="#e15759" stroke="none" stroke-width="1"/>
<polygon points="457.74,451 466.94,445.5 466.94,456.5" fill="#e15759" stroke="none" stroke-width="1"/>
<polygon points="466.57,451 475.77,445.5 475.77,456.5" fill="#e15759" stroke="none" stroke-width="1"/>
<polygon points="475.4,484 484.6,478.5 484.6,489.5" fill="#e15759" stroke="none" stroke-width="1"/>
<polygon points="484.23,479 493.43,473.5 493.43,484.5" fill="#e15759" stroke="none" stroke-width="1"/>
<polygon points="493.06,453.3 502.26,447.8 502.26,458.8" fill="#e15759" stroke="none" stroke-width="1"/>
<polygon points="501.89,490 511.09,484.5 511.09,495.5" fill="#e15759" stroke="none" stroke-width="1"/>
<polygon points="510.72,453.3 519.92,447.8 519.92,458.8" fill="#e15759" stroke="none" stroke-width="1"/>
<polygon points="519.55,496 528.75,490.5 528.75,501.5" fill="#e15759" stroke="none" stroke-width="1"/>
<polygon points="528.38,503 537.58,497.5 537.58,508.5" fill="#e15759" stroke="none" stroke-width="1"/>
<polygon points="537.21,494.8 546.41,489.3 546.41,500.3" fill="#e15759" stroke="none" stroke-width="1"/>
<polygon points="546.04,490.2 555.24,484.7 555.24,495.7" fill="#e15759" stroke="none" stroke-width="1"/>
<polygon points="554.87,483.5 564.07,478 564.07,489" fill="#e15759" stroke="none" stroke-width="1"/>
<polygon points="563.7,446 572.9,440.5 572.9,451.5" fill="#e15759" stroke="none" stroke-width="1"/>
<polygon points="572.53,481.2 581.73,475.7 581.73,486.7" fill="#e15759" stroke="none" stroke-width="1"/>
<polygon points="581.36,444.3 590.56,438.8 590.56,449.8" fill="#e15759" stroke="none" stroke-width="1"/>
<polygon points="590.19,444.3 599.39,438.8 599.39,449.8" fill="#e15759" stroke="none" stroke-width="1"/>
<polygon points="599.02,445 608.22,439.5 608.22,450.5" fill="#e15759" stroke="none" stroke-width="1"/>
<polygon points="607.85,445 617.05,439.5 617.05,450.5" fill="#e15759" stroke="none" stroke-width="1"/>
<polygon points="616.68,445 625.88,439.5 625.88,450.5" fill="#e15759" stroke="none" stroke-width="1"/>
<polygon points="625.51,445 634.71,439.5 634.71,450.5" fill="#e15759" stroke="none" stroke-width="1"/>
<polygon points="634.34,446 643.54,440.5 643.54,451.5" fill="#e15759" stroke="none" stroke-width="1"/>
<polygon points="643.17,445.5 652.37,440 652.37,451" fill="#e15759" stroke="none" stroke-width="1"/>
<polygon points="652,443.2 661.2,437.7 661.2,448.7" fill="#e15759" stroke="none" stroke-width="1"/>
<polygon points="660.83,443.2 670.03,437.7 670.03,448.7" fill="#e15759" stroke="none" stroke-width="1"/>
<polygon points="669.66,445 678.86,439.5 678.86,450.5" fill="#e15759" stroke="none" stroke-width="1"/>
<rect x="396.93" y="454.2" width="7.2" height="7.4" fill="#76b7b2" stroke="none" stroke-width="1" rx="0"/>
<rect x="405.76" y="463.6" width="7.2" height="7.4" fill="#76b7b2" stroke="none" stroke-width="1" rx="0"/>
<rect x="414.59" y="447.3" width="7.2" height="7.4" fill="#76b7b2" stroke="none" stroke-width="1" rx="0"/>
<rect x="423.42" y="477.3" width="7.2" height="7.4" fill="#76b7b2" stroke="none" stroke-width="1" rx="0"/>
<rect x="432.25" y="448.1" width="7.2" height="7.4" fill="#76b7b2" stroke="none" stroke-width="1" rx="0"/>
<rect x="441.08" y="449.6" width="7.2" height="7.4" fill="#76b7b2" stroke="none" stroke-width="1" rx="0"/>
<rect x="449.91" y="476" width="7.2" height="7.4" fill="#76b7b2" stroke="none" stroke-width="1" rx="0"/>
<rect x="458.74" y="457.9" width="7.2" height="7.4" fill="#76b7b2" stroke="none" stroke-width="1" rx="0"/>
<rect x="467.57" y="473" width="7.2" height="7.4" fill="#76b7b2" stroke="none" stroke-width="1" rx="0"/>
<rect x="476.4" y="483.3" width="7.2" height="7.4" fill="#76b7b2" stroke="none" stroke-width="1" rx="0"/>
<rect x="485.23" y="494.8" width="7.2" height="7.4" fill="#76b7b2" stroke="none" stroke-width="1" rx="0"/>
<rect x="494.06" y="494.8" width="7.2" height="7.4" fill="#76b7b2" stroke="none" stroke-width="1" rx="0"/>
<rect x="502.89" y="500.8" width="7.2" height="7.4" fill="#76b7b2" stroke="none" stroke-width="1" rx="0"/>
<rect x="511.72" y="493.3" width="7.2" height="7.4" fill="#76b7b2" stroke="none" stroke-width="1" rx="0"/>
<rect x="520.55" y="507.6" width="7.2" height="7.4" fill="#76b7b2" stroke="none" stroke-width="1" rx="0"/>
<rect x="529.38" y="496.3" width="7.2" height="7.4" fill="#76b7b2" stroke="none" stroke-width="1" rx="0"/>
<rect x="538.21" y="505.3" width="7.2" height="7.4" fill="#76b7b2" stroke="none" stroke-width="1" rx="0"/>
<rect x="547.04" y="491.3" width="7.2" height="7.4" fill="#76b7b2" stroke="none" stroke-width="1" rx="0"/>
<rect x="555.87" y="499.3" width="7.2" height="7.4" fill="#76b7b2" stroke="none" stroke-width="1" rx="0"/>
<rect x="564.7" y="506.3" width="7.2" height="7.4" fill="#76b7b2" stroke="none" stroke-width="1" rx="0"/>
<rect x="573.53" y="447.3" width="7.2" height="7.4" fill="#76b7b2" stroke="none" stroke-width="1" rx="0"/>
<rect x="582.36" y="451.1" width="7.2" height="7.4" fill="#76b7b2" stroke="none" stroke-width="1" rx="0"/>
<rect x="591.19" y="450.3" width="7.2" height="7.4" fill="#76b7b2" stroke="none" stroke-width="1" rx="0"/>
<rect x="600.02" y="454.2" width="7.2" height="7.4" fill="#76b7b2" stroke="none" stroke-width="1" rx="0"/>
<rect x="608.85" y="451.3" width="7.2" height="7.4" fill="#76b7b2" stroke="none" stroke-width="1" rx="0"/>
<rect x="617.68" y="447.8" width="7.2" height="7.4" fill="#76b7b2" stroke="none" stroke-width="1" rx="0"/>
<rect x="626.51" y="452" width="7.2" height="7.4" fill="#76b7b2" stroke="none" stroke-width="1" rx="0"/>
<rect x="635.34" y="448.3" width="7.2" height="7.4" fill="#76b7b2" stroke="none" stroke-width="1" rx="0"/>
<rect x="644.17" y="448.1" width="7.2" height="7.4" fill="#76b7b2" stroke="none" stroke-width="1" rx="0"/>
<rect x="653" y="448.3" width="7.2" height="7.4" fill="#76b7b2" stroke="none" stroke-width="1" rx="0"/>
<rect x="661.83" y="448.3" width="7.2" height="7.4" fill="#76b7b2" stroke="none" stroke-width="1" rx="0"/>
<rect x="670.66" y="446.3" width="7.2" height="7.4" fill="#76b7b2" stroke="none" stroke-width="1" rx="0"/>
<polygon points="400.53,478.7 405.13,485 400.53,491.3 395.93,485" fill="#59a14f" stroke="none" stroke-width="1"/>
<polygon points="409.36,472.7 413.96,479 409.36,485.3 404.76,479" fill="#59a14f" stroke="none" stroke-width="1"/>
<polygon points="418.19,474.7 422.79,481 418.19,487.3 413.59,481" fill="#59a14f" stroke="none" stroke-width="1"/>
<polygon points="427.02,481.7 431.62,488 427.02,494.3 422.42,488" fill="#59a14f" stroke="none" stroke-width="1"/>
<polygon points="435.85,466.7 440.45,473 435.85,479.3 431.25,473" fill="#59a14f" stroke="none" stroke-width="1"/>
<polygon points="444.68,470.4 449.28,476.7 444.68,483 440.08,476.7" fill="#59a14f" stroke="none" stroke-width="1"/>
<polygon points="453.51,485.4 458.11,491.7 453.51,498 448.91,491.7" fill="#59a14f" stroke="none" stroke-width="1"/>
<polygon points="462.34,487 466.94,493.3 462.34,499.6 457.74,493.3" fill="#59a14f" stroke="none" stroke-width="1"/>
<polygon points="471.17,472.7 475.77,479 471.17,485.3 466.57,479" fill="#59a14f" stroke="none" stroke-width="1"/>
<polygon points="480,491.5 484.6,497.8 480,504.1 475.4,497.8" fill="#59a14f" stroke="none" stroke-width="1"/>
<polygon points="488.83,488.5 493.43,494.8 488.83,501.1 484.23,494.8" fill="#59a14f" stroke="none" stroke-width="1"/>
<polygon points="497.66,481.7 502.26,488 497.66,494.3 493.06,488" fill="#59a14f" stroke="none" stroke-width="1"/>
<polygon points="506.49,481.7 511.09,488 506.49,494.3 501.89,488" fill="#59a14f" stroke="none" stroke-width="1"/>
<polygon points="515.32,477.2 519.92,483.5 515.32,489.8 510.72,483.5" fill="#59a14f" stroke="none" stroke-width="1"/>
<polygon points="524.15,474.9 528.75,481.2 524.15,487.5 519.55,481.2" fill="#59a14f" stroke="none" stroke-width="1"/>
<polygon points="532.98,488.5 537.58,494.8 532.98,501.1 528.38,494.8" fill="#59a14f" stroke="none" stroke-width="1"/>
<polygon points="541.81,496.7 546.41,503 541.81,509.3 537.21,503" fill="#59a14f" stroke="none" stroke-width="1"/>
<polygon points="550.64,497.5 555.24,503.8 550.64,510.1 546.04,503.8" fill="#59a14f" stroke="none" stroke-width="1"/>
<polygon points="559.47,493.7 564.07,500 559.47,506.3 554.87,500" fill="#59a14f" stroke="none" stroke-width="1"/>
<polygon points="568.3,490.2 572.9,496.5 568.3,502.8 563.7,496.5" fill="#59a14f" stroke="none" stroke-width="1"/>
<polygon points="577.13,443.2 581.73,449.5 577.13,455.8 572.53,449.5" fill="#59a14f" stroke="none" stroke-width="1"/>
<polygon points="585.96,445.7 590.56,452 585.96,458.3 581.36,452" fill="#59a14f" stroke="none" stroke-width="1"/>
<polygon points="594.79,443.7 599.39,450 594.79,456.3 590.19,450" fill="#59a14f" stroke="none" stroke-width="1"/>
<polygon points="603.62,440.3 608.22,446.6 603.62,452.9 599.02,446.6" fill="#59a14f" stroke="none" stroke-width="1"/>
<polygon points="612.45,442.7 617.05,449 612.45,455.3 607.85,449" fill="#59a14f" stroke="none" stroke-width="1"/>
<polygon points="621.28,451.2 625.88,457.5 621.28,463.8 616.68,457.5" fill="#59a14f" stroke="none" stroke-width="1"/>
<polygon points="630.11,444.9 634.71,451.2 630.11,457.5 625.51,451.2" fill="#59a14f" stroke="none" stroke-width="1"/>
<polygon points="638.94,468.7 643.54,475 638.94,481.3 634.34,475" fill="#59a14f" stroke="none" stroke-width="1"/>
<polygon points="647.77,449.5 652.37,455.8 647.77,462.1 643.17,455.8" fill="#59a14f" stroke="none" stroke-width="1"/>
<polygon points="656.6,442 661.2,448.3 656.6,454.6 652,448.3" fill="#59a14f" stroke="none" stroke-width="1"/>
<polygon points="665.43,444.9 670.03,451.2 665.43,457.5 660.83,451.2" fill="#59a14f" stroke="none" stroke-width="1"/>
<polygon points="674.26,438.6 678.86,444.9 674.26,451.2 669.66,444.9" fill="#59a14f" stroke="none" stroke-width="1"/>
<polygon points="400.53,447.9 402.1,450.59 405.21,450.6 403.66,453.3 405.21,456 402.1,456.01 400.53,458.7 398.96,456.01 395.85,456 397.4,453.3 395.85,450.6 398.96,450.59" fill="#4e79a7" stroke="none" stroke-width="1"/>
<polygon points="409.36,454.6 410.93,457.29 414.04,457.3 412.49,460 414.04,462.7 410.93,462.71 409.36,465.4 407.79,462.71 404.68,462.7 406.23,460 404.68,457.3 407.79,457.29" fill="#4e79a7" stroke="none" stroke-width="1"/>
<polygon points="418.19,447.6 419.76,450.29 422.87,450.3 421.32,453 422.87,455.7 419.76,455.71 418.19,458.4 416.62,455.71 413.51,455.7 415.06,453 413.51,450.3 416.62,450.29" fill="#4e79a7" stroke="none" stroke-width="1"/>
<polygon points="427.02,465.3 428.59,467.99 431.7,468 430.15,470.7 431.7,473.4 428.59,473.41 427.02,476.1 425.45,473.41 422.34,473.4 423.89,470.7 422.34,468 425.45,467.99" fill="#4e79a7" stroke="none" stroke-width="1"/>
<polygon points="435.85,443.4 437.42,446.09 440.53,446.1 438.98,448.8 440.53,451.5 437.42,451.51 435.85,454.2 434.28,451.51 431.17,451.5 432.72,448.8 431.17,446.1 434.28,446.09" fill="#4e79a7" stroke="none" stroke-width="1"/>
<polygon points="444.68,462.2 446.25,464.89 449.36,464.9 447.81,467.6 449.36,470.3 446.25,470.31 444.68,473 443.11,470.31 440,470.3 441.55,467.6 440,464.9 443.11,464.89" fill="#4e79a7" stroke="none" stroke-width="1"/>
<polygon points="453.51,475.8 455.08,478.49 458.19,478.5 456.64,481.2 458.19,483.9 455.08,483.91 453.51,486.6 451.94,483.91 448.83,483.9 450.38,481.2 448.83,478.5 451.94,478.49" fill="#4e79a7" stroke="none" stroke-width="1"/>
<polygon points="462.34,478.8 463.91,481.49 467.02,481.5 465.47,484.2 467.02,486.9 463.91,486.91 462.34,489.6 460.77,486.91 457.66,486.9 459.21,484.2 457.66,481.5 460.77,481.49" fill="#4e79a7" stroke="none" stroke-width="1"/>
<polygon points="471.17,478.8 472.74,481.49 475.85,481.5 474.3,484.2 475.85,486.9 472.74,486.91 471.17,489.6 469.6,486.91 466.49,486.9 468.04,484.2 466.49,481.5 469.6,481.49" fill="#4e79a7" stroke="none" stroke-width="1"/>
<polygon points="480,484.1 481.57,486.79 484.68,486.8 483.13,489.5 484.68,492.2 481.57,492.21 480,494.9 478.43,492.21 475.32,492.2 476.87,489.5 475.32,486.8 478.43,486.79" fill="#4e79a7" stroke="none" stroke-width="1"/>
<polygon points="488.83,462.2 490.4,464.89 493.51,464.9 491.96,467.6 493.51,470.3 490.4,470.31 488.83,473 487.26,470.31 484.15,470.3 485.7,467.6 484.15,464.9 487.26,464.89" fill="#4e79a7" stroke="none" stroke-width="1"/>
<polygon points="497.66,490.1 499.23,492.79 502.34,492.8 500.79,495.5 502.34,498.2 499.23,498.21 497.66,500.9 496.09,498.21 492.98,498.2 494.53,495.5 492.98,492.8 496.09,492.79" fill="#4e79a7" stroke="none" stroke-width="1"/>
<polygon points="506.49,479.6 508.06,482.29 511.17,482.3 509.62,485 511.17,487.7 508.06,487.71 506.49,490.4 504.92,487.71 501.81,487.7 503.36,485 501.81,482.3 504.92,482.29" fill="#4e79a7" stroke="none" stroke-width="1"/>
<polygon points="515.32,486.3 516.89,488.99 520,489 518.45,491.7 520,494.4 516.89,494.41 515.32,497.1 513.75,494.41 510.64,494.4 512.19,491.7 510.64,489 513.75,488.99" fill="#4e79a7" stroke="none" stroke-width="1"/>
<polygon points="524.15,487.9 525.72,490.59 528.83,490.6 527.28,493.3 528.83,496 525.72,496.01 524.15,498.7 522.58,496.01 519.47,496 521.02,493.3 519.47,490.6 522.58,490.59" fill="#4e79a7" stroke="none" stroke-width="1"/>
<polygon points="532.98,493.9 534.55,496.59 537.66,496.6 536.11,499.3 537.66,502 534.55,502.01 532.98,504.7 531.41,502.01 528.3,502 529.85,499.3 528.3,496.6 531.41,496.59" fill="#4e79a7" stroke="none" stroke-width="1"/>
<polygon points="541.81,495.4 543.38,498.09 546.49,498.1 544.94,500.8 546.49,503.5 543.38,503.51 541.81,506.2 540.24,503.51 537.13,503.5 538.68,500.8 537.13,498.1 540.24,498.09" fill="#4e79a7" stroke="none" stroke-width="1"/>
<polygon points="550.64,465.3 552.21,467.99 555.32,468 553.77,470.7 555.32,473.4 552.21,473.41 550.64,476.1 549.07,473.41 545.96,473.4 547.51,470.7 545.96,468 549.07,467.99" fill="#4e79a7" stroke="none" stroke-width="1"/>
<polygon points="559.47,452.5 561.04,455.19 564.15,455.2 562.6,457.9 564.15,460.6 561.04,460.61 559.47,463.3 557.9,460.61 554.79,460.6 556.34,457.9 554.79,455.2 557.9,455.19" fill="#4e79a7" stroke="none" stroke-width="1"/>
<polygon points="568.3,448.6 569.87,451.29 572.98,451.3 571.43,454 572.98,456.7 569.87,456.71 568.3,459.4 566.73,456.71 563.62,456.7 565.17,454 563.62,451.3 566.73,451.29" fill="#4e79a7" stroke="none" stroke-width="1"/>
<polygon points="577.13,441.9 578.7,444.59 581.81,444.6 580.26,447.3 581.81,450 578.7,450.01 577.13,452.7 575.56,450.01 572.45,450 574,447.3 572.45,444.6 575.56,444.59" fill="#4e79a7" stroke="none" stroke-width="1"/>
<polygon points="585.96,442.6 587.53,445.29 590.64,445.3 589.09,448 590.64,450.7 587.53,450.71 585.96,453.4 584.39,450.71 581.28,450.7 582.83,448 581.28,445.3 584.39,445.29" fill="#4e79a7" stroke="none" stroke-width="1"/>
<polygon points="594.79,445.6 596.36,448.29 599.47,448.3 597.92,451 599.47,453.7 596.36,453.71 594.79,456.4 593.22,453.71 590.11,453.7 591.66,451 590.11,448.3 593.22,448.29" fill="#4e79a7" stroke="none" stroke-width="1"/>
<polygon points="603.62,447.2 605.19,449.89 608.3,449.9 606.75,452.6 608.3,455.3 605.19,455.31 603.62,458 602.05,455.31 598.94,455.3 600.49,452.6 598.94,449.9 602.05,449.89" fill="#4e79a7" stroke="none" stroke-width="1"/>
<polygon points="612.45,448.6 614.02,451.29 617.13,451.3 615.58,454 617.13,456.7 614.02,456.71 612.45,459.4 610.88,456.71 607.77,456.7 609.32,454 607.77,451.3 610.88,451.29" fill="#4e79a7" stroke="none" stroke-width="1"/>
<polygon points="621.28,461.1 622.85,463.79 625.96,463.8 624.41,466.5 625.96,469.2 622.85,469.21 621.28,471.9 619.71,469.21 616.6,469.2 618.15,466.5 616.6,463.8 619.71,463.79" fill="#4e79a7" stroke="none" stroke-width="1"/>
<polygon points="630.11,463.6 631.68,466.29 634.79,466.3 633.24,469 634.79,471.7 631.68,471.71 630.11,474.4 628.54,471.71 625.43,471.7 626.98,469 625.43,466.3 628.54,466.29" fill="#4e79a7" stroke="none" stroke-width="1"/>
<polygon points="638.94,456.1 640.51,458.79 643.62,458.8 642.07,461.5 643.62,464.2 640.51,464.21 638.94,466.9 637.37,464.21 634.26,464.2 635.81,461.5 634.26,458.8 637.37,458.79" fill="#4e79a7" stroke="none" stroke-width="1"/>
<polygon points="647.77,460.6 649.34,463.29 652.45,463.3 650.9,466 652.45,468.7 649.34,468.71 647.77,471.4 646.2,468.71 643.09,468.7 644.64,466 643.09,463.3 646.2,463.29" fill="#4e79a7" stroke="none" stroke-width="1"/>
<polygon points="656.6,448.1 658.17,450.79 661.28,450.8 659.73,453.5 661.28,456.2 658.17,456.21 656.6,458.9 655.03,456.21 651.92,456.2 653.47,453.5 651.92,450.8 655.03,450.79" fill="#4e79a7" stroke="none" stroke-width="1"/>
<polygon points="665.43,442.9 667,445.59 670.11,445.6 668.56,448.3 670.11,451 667,451.01 665.43,453.7 663.86,451.01 660.75,451 662.3,448.3 660.75,445.6 663.86,445.59" fill="#4e79a7" stroke="none" stroke-width="1"/>
<polygon points="674.26,448.1 675.83,450.79 678.94,450.8 677.39,453.5 678.94,456.2 675.83,456.21 674.26,458.9 672.69,456.21 669.58,456.2 671.13,453.5 669.58,450.8 672.69,450.79" fill="#4e79a7" stroke="none" stroke-width="1"/>
<line x1="392.8" y1="444.6" x2="682" y2="444.6" stroke="#ff0000" stroke-width="1.8" stroke-dasharray="6.8 7.4"/>
<circle cx="611.8" cy="511" r="9.3" fill="url(#cg)"/>
<circle cx="641.3" cy="511" r="9.3" fill="url(#cg)"/>
<circle cx="611.8" cy="539.1" r="9.3" fill="url(#cg)"/>
<circle cx="641.3" cy="539.1" r="9.3" fill="url(#cg)"/>
<path transform="scale(.1)" d="M6226 5055h0M6128 5164h0M6037 5104h0M6132 5045h0M6080 5052h0M6052 5078h0M6040 5123h0M6035 5069h0M6129 5048h0M6135 5033h0M6011 5078h0M6017 5044h0M6185 5228h0M6208 5123h0M6066 4985h0M6159 4995h0M5973 5074h0M6230 5060h0M6030 5085h0M6060 5198h0M6159 5012h0M6085 5022h0M6127 5047h0M6029 5081h0M6173 5154h0M6086 5166h0M6060 5086h0M6124 5174h0M6055 5171h0M6181 5188h0M6140 5182h0M6100 5056h0M6095 5052h0M6061 5089h0M6086 5212h0M6206 5163h0M6156 5066h0M6131 5036h0M6077 5230h0M6037 5155h0M6055 5119h0M6109 5207h0M6188 5102h0M6205 5134h0M6176 5186h0M6187 5154h0M6058 5156h0M6181 5073h0M6184 5230h0M6186 5118h0M6170 5172h0M6041 5125h0M6040 5074h0M6148 5049h0M6073 5068h0M6071 5165h0M6114 4996h0M6078 5207h0M6259 5093h0M6132 5017h0M6104 5027h0M6148 5050h0M6088 5178h0M6147 5051h0M6179 5097h0M6031 5040h0M6191 5101h0M6199 5097h0M6099 5038h0M6067 5078h0M6170 5133h0M6162 5167h0M6093 5175h0M6118 5042h0M6039 5223h0M6055 5113h0M6134 5047h0M6073 4997h0M6234 5047h0M6190 5170h0M6140 5033h0M6186 5091h0M5978 5041h0M6056 5029h0M6144 5187h0M6149 5031h0M6059 5083h0M6139 5042h0M6175 5179h0M6078 5163h0M6010 5102h0M6034 5160h0M6085 5050h0M6148 5026h0M6000 5042h0M6027 5106h0M6057 5101h0M6021 5046h0M6148 5019h0M6111 5177h0M6153 5039h0M6224 5077h0M6159 5153h0M5975 5109h0M6160 5073h0M6152 5163h0M5990 5026h0M6131 5029h0M6155 5163h0M6063 5046h0M6114 5054h0M6030 5121h0M6057 5152h0M6060 5167h0M6165 5202h0M6173 5043h0M6109 5025h0M6028 5018h0M6185 5087h0M6100 5169h0M5996 5092h0M6072 5057h0M6031 5027h0M6052 5158h0M6196 5071h0M6069 5027h0M6176 5149h0M6239 5050h0M6064 4980h0M6108 5028h0M6054 5092h0M6178 5154h0M6086 5166h0M6117 5055h0M6111 5041h0M6169 5042h0M6185 5062h0M6106 5168h0M6130 5023h0M6106 5015h0M6146 5054h0M6038 5121h0M6201 5060h0M6173 5062h0M6165 5065h0M6235 5206h0M6046 5066h0M6215 5087h0M6158 5195h0M6061 5169h0M6092 5161h0M6155 5061h0M6058 5111h0M6189 5131h0M6177 5113h0M6049 5041h0M6093 5171h0M6200 5127h0M6179 5093h0M6070 5028h0M6169 5033h0M6145 5017h0M6187 5099h0M6084 5191h0M6049 5076h0M6168 5143h0M6193 5161h0M6115 4994h0M6065 5194h0M6185 5063h0M6247 5074h0M6162 5178h0M6010 5138h0M6062 5079h0M6146 5030h0M6049 5129h0M6219 5077h0M6073 5181h0M6197 5010h0M6068 5087h0M6170 5063h0M6199 5129h0M6129 5173h0M6139 5168h0M6086 5166h0M6095 5163h0M6065 5084h0M6132 5044h0M5995 5191h0M6173 5163h0M6186 5154h0M5943 5188h0M6172 5075h0M6061 5163h0M6123 5033h0M6180 5165h0M6196 5119h0M6273 5060h0M6118 5019h0M6189 5120h0M6127 5207h0M6036 5115h0M6168 5055h0M6034 5210h0M6175 5060h0M6061 5185h0M6122 5030h0M6110 5185h0M6065 5031h0M6003 5101h0M6142 5018h0M6071 5158h0M6045 5139h0M6082 5061h0M6167 5056h0M6087 5060h0M6033 5114h0M6018 5144h0M6192 5097h0M6162 5025h0M6182 5084h0M6038 5160h0M6064 5098h0M6153 5190h0M6173 5116h0M6227 5149h0M6082 5054h0M6119 5172h0M6136 5252h0M6138 5012h0M6178 5069h0M6100 5223h0M6174 5129h0M6128 5194h0M6176 5124h0M6109 5055h0M6183 5192h0M6231 5124h0M6161 5016h0M6078 5070h0M6215 5147h0M6198 5103h0M6153 5162h0M6050 5117h0M6181 5087h0M6045 5086h0M6130 5054h0M6214 5104h0M6166 5076h0M6112 5048h0M6032 5217h0M6061 5133h0M6074 5048h0M6024 5136h0M6209 5118h0M6164 5178h0M6203 4991h0M6058 4993h0M6168 5163h0M6136 5174h0M6055 5106h0M6054 5199h0M6166 5163h0M6153 5019h0M6074 5179h0M6145 5043h0M6057 5052h0M6056 5105h0M6157 5168h0M6141 5053h0M6192 5147h0M6090 5180h0M6029 5084h0M6157 5189h0M6078 5070h0M6011 5151h0M6059 5056h0M6061 5108h0M6122 5189h0M6100 5170h0M6036 5133h0M6162 5169h0M6091 5028h0M6138 5172h0M6238 5134h0M6200 5119h0M6128 5045h0M6171 5039h0M6141 5013h0M6157 5183h0M6060 5103h0M6176 5081h0M6068 5080h0M6160 5073h0M6031 5088h0M6174 5185h0M6154 5158h0M6156 5036h0M6186 5060h0M6026 5172h0M6044 5125h0M6115 5054h0M6214 5085h0M6057 5124h0M6270 5129h0M6032 5086h0M6208 5090h0M6176 5098h0M6093 5166h0M6150 5167h0M6173 5136h0M6120 5051h0M6110 5167h0M6173 5068h0M6049 5122h0M6048 5203h0M6028 5117h0M6128 5037h0M6208 5111h0M6041 5109h0M6057 5124h0M6082 5024h0M6195 5097h0M6196 5090h0M6056 5143h0M6167 5077h0M6125 5044h0M6102 5028h0M6060 5056h0M6058 5114h0M6026 5205h0M6028 5174h0M6074 5003h0M6045 5008h0M6245 5112h0M6079 5171h0M6259 5068h0M6053 5068h0M6193 5160h0M6176 5023h0M6183 5034h0M6058 5118h0M6140 5161h0M6127 4961h0M6127 5018h0M6063 5134h0M5992 5072h0M6089 5036h0M6207 5037h0M6177 5053h0M6071 5253h0M6242 5112h0M6040 4972h0M6029 5170h0M6056 5089h0M6196 5126h0M6229 5129h0M6134 5219h0M6090 5184h0M6077 5175h0M6103 5251h0M6231 5079h0M6161 5164h0M6109 5196h0M6088 5238h0M6118 5170h0M6117 5036h0M6124 5213h0M6076 5160h0M6064 5175h0M6066 5082h0M6111 5207h0M6260 5095h0M6023 5108h0M6092 5061h0M6164 5191h0M6043 5102h0M6042 5051h0M6093 5208h0M6033 5108h0M6111 5022h0M6057 5106h0M6064 5120h0M6134 5173h0M6085 5219h0M6132 5051h0M6046 5219h0M6069 5000h0M6151 5169h0M6151 5159h0M6180 5131h0M6170 5021h0M6166 5152h0M6146 5172h0M6162 5172h0M6068 5143h0M6176 4984h0M6105 5182h0M6055 5099h0M6057 5102h0M6068 5059h0M6051 5106h0M6120 5173h0M5989 5192h0M6202 5033h0M6070 5029h0M6022 5214h0M6062 5144h0M6046 5178h0M6134 5164h0M6047 5181h0M6134 5048h0M6062 5062h0M6072 5072h0M6089 5207h0M6012 5140h0M6081 5048h0M6179 5110h0M6154 5194h0M6066 5208h0M6122 5190h0M6175 5144h0M6147 5063h0M6097 5049h0M6215 5021h0M6051 5066h0M6092 5020h0M6058 5150h0M6033 5160h0M5976 5071h0M6107 5200h0M6148 5172h0M6125 4986h0M6054 5144h0M6125 5012h0M6171 4978h0M6085 5170h0M6189 5132h0M6201 5085h0M6066 5211h0M6182 5111h0M6184 5046h0M6047 5088h0M6203 5079h0M6147 5050h0M6162 5195h0M6175 5080h0M6076 5161h0M6140 5003h0M6117 5165h0M6041 5140h0M6211 5013h0M6085 5050h0M6187 5119h0M6175 5059h0M6097 5170h0M6087 5164h0M6079 5054h0M6045 5253h0M6116 5174h0M6074 5168h0M6156 5170h0M6175 5128h0M6176 5162h0M6123 5023h0M6070 5184h0M6206 5082h0M6194 5115h0M6052 5121h0M6192 5118h0M6102 5172h0M6099 5050h0M6168 5016h0M6082 5169h0M6030 5107h0M6081 5056h0M6188 5176h0M6070 5048h0M6071 5038h0M6192 5094h0M6073 5059h0M6063 5135h0M6192 5129h0M6174 5089h0M6093 5163h0M6079 5048h0M6075 5178h0M6185 5065h0M6160 4985h0M6074 5049h0M6146 5042h0M6050 5143h0M6194 5154h0M6229 5157h0M6063 5005h0M6197 5163h0M6082 5178h0M6155 5191h0M6045 5132h0M6258 5135h0M6144 5167h0M6129 5051h0M6195 5033h0M6068 5210h0M6106 5187h0M6089 5163h0M6051 5039h0M6103 5191h0M6089 5157h0M6017 5120h0M6083 5045h0M6208 5052h0M6026 5139h0M6078 5162h0M6053 5129h0M6167 5009h0M6055 5137h0M6195 5093h0M6169 5167h0M6175 5042h0M6071 5165h0M6176 5149h0M6127 5237h0M6177 5062h0M6043 5139h0M6198 5149h0M6137 5048h0M6161 5037h0M6053 5041h0M6137 5031h0M6071 5066h0M6152 5064h0M6150 5189h0M6152 5180h0M6154 5186h0M6155 5160h0M6035 5117h0M6028 5149h0M6181 5134h0M6250 5163h0M6186 5115h0M6159 5165h0M6184 5074h0M6050 5166h0M6165 5060h0M6178 5123h0M6105 5174h0M6039 5091h0M6108 5189h0M6158 5068h0M6183 5162h0M6045 5026h0M6081 5231h0M6155 5198h0M6193 5118h0M6069 5041h0M6181 5147h0M6184 5240h0M6089 5170h0M6045 5081h0M6068 5084h0M6176 5102h0M6030 5110h0M6192 5104h0M6238 5137h0M6048 5155h0M6055 5083h0M6189 5182h0M6069 5081h0M6207 5083h0M6072 5166h0M6137 5230h0M6174 5060h0M6087 4945h0M6067 5040h0M6197 5108h0M6059 5148h0M6186 5152h0M6158 5061h0M6189 5164h0M6145 5051h0M6060 5093h0M6176 5103h0M6150 5029h0M5982 5214h0M6202 5102h0M6053 5212h0M6181 5097h0M6073 5164h0M6056 5117h0M6183 5078h0M6063 5127h0M6137 5042h0M6114 5037h0M6099 5016h0M6174 5149h0M6177 5034h0M6069 5180h0M6187 5118h0M6095 5161h0M6172 5098h0M6135 5180h0M6161 5070h0M6038 5063h0M6160 5073h0M6190 5217h0M6121 5172h0M6121 5222h0M6087 5216h0M6059 5019h0M6120 5168h0M6049 5153h0M6179 5158h0M6128 5049h0M6155 5163h0M6066 5250h0M6148 5008h0M6051 5118h0M5968 5121h0M6191 5065h0M6099 5171h0M6177 5160h0M6222 5191h0M6057 5147h0M6223 5086h0M6148 5048h0M6075 5154h0M6182 5085h0M6058 5112h0M6099 5171h0M6114 5170h0M6189 5139h0M6068 5055h0M6039 5085h0M6028 5137h0M6062 5118h0M6194 5051h0M6193 5086h0M6127 5209h0M6044 4998h0M6125 5223h0M6140 5190h0M6031 5147h0M6111 5040h0M6114 5010h0M6184 5188h0M6120 5020h0M6183 5096h0M6129 5053h0M6173 5090h0M6179 5113h0M6076 5179h0M6215 5132h0M6086 5059h0M6011 5059h0M6150 5010h0M6108 5181h0M6080 5035h0M6020 5167h0M6016 5122h0M6040 5123h0M6050 5093h0M6022 5107h0M6168 5189h0M6109 5184h0M6110 5055h0M6001 5136h0M6145 5182h0M6004 5118h0M6178 5046h0M6161 5160h0M6112 5018h0M6057 5135h0M6190 5150h0M6078 5254h0M6130 5168h0M6220 5160h0M6121 5048h0M6155 5172h0M6150 5049h0M6161 5149h0M6196 5102h0M6069 5159h0M6051 5103h0M6076 5052h0M6052 5187h0M6050 5073h0M6195 5078h0M6191 5151h0M6300 5069h0M6159 5053h0M6196 5068h0M6113 5239h0M6143 5169h0M6149 4990h0M6183 5070h0M6063 5167h0M6165 5059h0M6242 5151h0M6182 5213h0M6166 5070h0M6198 5123h0M6096 5056h0M6151 5025h0M6035 5125h0M6100 5170h0M6044 5057h0M6327 5086h0M6061 5145h0M6230 5193h0M6186 5131h0M6031 5138h0M6222 5060h0M6226 5092h0M6044 5119h0M6175 5036h0M6118 5053h0M6185 5143h0M6052 5073h0M6176 5100h0M6052 5078h0M6052 5212h0M6235 5142h0M6111 5008h0M6150 5061h0M6024 5109h0M6080 5196h0M6157 5161h0M6200 5121h0M6110 5185h0M6095 5182h0M6055 5087h0M6198 5133h0M6050 5118h0M6226 5128h0M6178 5125h0M6030 5166h0M6092 5203h0M6154 5165h0M6064 5143h0M6029 5147h0M6161 5045h0M6009 5141h0M6259 5106h0M6099 5162h0M6120 5166h0M6278 5103h0M6238 5165h0M6186 5097h0M6156 5206h0M6172 5068h0M6079 5041h0M6162 5028h0M6176 5064h0M6151 5019h0M6197 5136h0M6189 5016h0M6073 5154h0M6157 5042h0M6045 5138h0M6199 5133h0M6135 5249h0M6104 5005h0M6110 5170h0M5947 5197h0M6061 5166h0M6230 5160h0M6051 5149h0M6074 5166h0M6030 5084h0M6191 5072h0M6053 5020h0M6172 5134h0M6045 5097h0M6196 5074h0M6034 5162h0M6136 5171h0M6189 5048h0M6220 5068h0M6203 5044h0M6105 5198h0M6162 4998h0M6173 5163h0M6137 5251h0M6063 5063h0M6180 5070h0M6177 5156h0M5988 5110h0M6200 5058h0M6083 5043h0M6226 5040h0M6193 5072h0M6240 5134h0M6105 5168h0M6107 5047h0M6094 5028h0M6148 5036h0M6123 5281h0M6210 5067h0M6170 5194h0M6193 5018h0M6064 5175h0M6057 5119h0M6173 5159h0M6128 5219h0M6106 5194h0M6205 5120h0M6180 5077h0M6163 5076h0M5998 5121h0M6170 5060h0M6167 5042h0M6051 5085h0M6102 5036h0M6053 5160h0M6108 5174h0M6177 5138h0M6112 5042h0M6090 5052h0M6208 5066h0M6213 5142h0M6081 5050h0M6201 5009h0M6032 5022h0M6070 5137h0M6210 5138h0M6127 5044h0M6027 5056h0M6049 5027h0M6027 5167h0M6102 5055h0M6184 5119h0M6152 5197h0M6176 5160h0M6076 5044h0M6150 5022h0M6183 5162h0M6076 5188h0M6093 5031h0M6231 5170h0M6111 5032h0M6206 5134h0M6102 5057h0M6068 5178h0M6006 5164h0M6133 5212h0M6072 5054h0M6229 5100h0M6166 5210h0M6178 5145h0M6183 5065h0M6190 5070h0M6105 5054h0M6116 5184h0M5995 5022h0M6229 5129h0M6204 5145h0M6111 5036h0M6063 5096h0M6046 5087h0M6073 5071h0M6186 5086h0M6151 5156h0M6141 5026h0M6110 5052h0M6074 5147h0M6089 5046h0M6183 5076h0M6038 5183h0M6012 5097h0M6090 5173h0M6054 5139h0M6034 5094h0M6085 4979h0M6036 5080h0M6052 5042h0M6149 5058h0M6043 5208h0M6181 5087h0M6023 5167h0M6110 5213h0M6233 5081h0M6026 5073h0M6220 5022h0M6134 5195h0M6204 5124h0M6175 5126h0M6180 5155h0M6058 5117h0M5983 5065h0M6060 5093h0M6036 5131h0M6093 5020h0M6049 5168h0M6197 5141h0M6134 5039h0M6036 5173h0M6079 5177h0M6222 5098h0M6069 5191h0M6061 5151h0M6070 5060h0M6230 5155h0M6206 5088h0M6217 5125h0M6065 5056h0M6083 5051h0M6088 5047h0M6063 5126h0M6213 5129h0M6170 5148h0M6195 5125h0M6062 5097h0M6107 5194h0M6084 5037h0M6196 5151h0M6052 5146h0M6090 5163h0M6066 5011h0M6142 5052h0M6162 5145h0M6209 5100h0M6195 5151h0M6051 5150h0M6034 5171h0M6005 5159h0M6117 5174h0M6094 5244h0M6060 5090h0M6093 5053h0M6036 5105h0M6054 5136h0M6178 5095h0M6084 5159h0M6060 5054h0M6175 5121h0M6157 5155h0M6194 5212h0M6218 5223h0M6138 5058h0M6064 5126h0M6142 5042h0M6233 5022h0M6105 5171h0M6093 5207h0M6185 5079h0M6164 5071h0M6128 5026h0M5999 5013h0M6131 5164h0M6036 5120h0M6176 5075h0M6047 5055h0M6218 5167h0M6184 5102h0M6216 5086h0M6189 5085h0M6209 5071h0M6187 5180h0M6124 5007h0M6230 5168h0M6129 5025h0M6157 5056h0M6148 5031h0M6135 5172h0M6033 5101h0M6191 5108h0M6172 5046h0M6199 5073h0M6085 5060h0M6175 5099h0M6182 5032h0M6009 5038h0M6173 5079h0M6054 5076h0M6241 5151h0M6216 5073h0M6051 5135h0M6139 5179h0M6149 5160h0M6070 5082h0M6043 5127h0M6023 5164h0M6203 5067h0M6157 5160h0M6107 4995h0M6137 5174h0M6094 5184h0M6178 5201h0M6058 5119h0M6027 5086h0M6185 5141h0M6074 5151h0M6088 5198h0M6127 5193h0M6161 5073h0M6076 5041h0M6143 5004h0M6072 5193h0M5992 5098h0M6050 5126h0M5994 5183h0M6055 5206h0M6118 5227h0M6139 5203h0M6144 5252h0M6077 5148h0M6170 5144h0M6173 5088h0M6027 5162h0M6175 5039h0M6006 5084h0M6072 5063h0M6060 5127h0M6180 5072h0M6064 5130h0M6038 5031h0M6167 5140h0M6134 5047h0M6051 5175h0M6094 5041h0M6175 5058h0M6189 5098h0M6033 5021h0M6044 5230h0M6121 5032h0M6184 5073h0M5970 5184h0M6185 5125h0M6048 5170h0M6020 5183h0M6016 5173h0M6088 5198h0M6003 5090h0M6045 5149h0M6104 5039h0M6165 5183h0M6121 5016h0M6092 5061h0M6180 5152h0M6080 5035h0M6053 5053h0M6116 5181h0M6078 5172h0M6080 5062h0M6187 5142h0M6042 5162h0M6107 5191h0M6288 5160h0M6168 5078h0M6159 5042h0M6071 5048h0M6150 5052h0M6037 5073h0M6092 5055h0M6067 5135h0M6106 5006h0M6064 5034h0M6071 5167h0M6117 4970h0M6050 5020h0M6176 5036h0M6194 5146h0M6097 5002h0M6170 5076h0M6043 5097h0M6030 5054h0M6175 5130h0M6194 5071h0M6140 5190h0M5954 5165h0M6133 5048h0M6127 5180h0M6072 5141h0M6066 5080h0M6178 5046h0M6048 5054h0M6127 5033h0M6050 5112h0M6025 5094h0M6044 5069h0M6079 5262h0M6072 5162h0M6161 5154h0M6184 5186h0M6198 5181h0M6034 5191h0M6148 5174h0M6024 5099h0M6052 5005h0M6041 5028h0M6185 5039h0M6192 5106h0M6016 5136h0M6034 5146h0M6147 5176h0M6241 5093h0M6049 5090h0M6059 5097h0M6109 4994h0M6095 5021h0M6207 5036h0M6163 5070h0M6071 5077h0M6156 5057h0M6108 5173h0M6148 5175h0M6129 5183h0M6106 5012h0M6010 4999h0M6183 5137h0M6158 5166h0M6176 5057h0M6049 5150h0M6182 5136h0M6099 4978h0M6129 5050h0M6044 5111h0M6174 5106h0M6018 5127h0M6068 5134h0M6098 5177h0M6049 5100h0M6112 5172h0M6056 5104h0M6108 5254h0M6199 5178h0M6037 5072h0M6082 5167h0M6076 5175h0M6125 5176h0M6157 5176h0M6188 5037h0M6149 5161h0M6172 5088h0M6062 5132h0M6108 5202h0M6138 5165h0M6133 5054h0M6069 5144h0M6049 5170h0M6152 5000h0M6067 5084h0M6220 5133h0M6145 4983h0M6117 5191h0M6214 5069h0M6038 5068h0M6050 5163h0M6181 5091h0M6160 5011h0M6189 5193h0M6201 5062h0M6139 5164h0M6161 5146h0M6085 5183h0M6176 5081h0M6153 4969h0M6210 5059h0M6219 5119h0M6018 5131h0M6124 5053h0M6038 5137h0M6080 5052h0M6127 5177h0M6072 5059h0M6150 5062h0M6189 5101h0M6166 5168h0M6141 5186h0M6199 5146h0M6147 5195h0M6010 5130h0M6126 5043h0M6181 5145h0M6140 5041h0M6063 5060h0M6118 5020h0M6165 5151h0M6042 5114h0M6090 5179h0M6117 5191h0M6068 5059h0M6088 5052h0M6179 5199h0M6033 5119h0M6188 5169h0M6208 5111h0M6217 5066h0M6185 5126h0M6141 5050h0M6066 5091h0M6171 5185h0M6107 5248h0M6061 5082h0M6130 5030h0M6018 5136h0M6227 5064h0M6073 5186h0M6051 5106h0M6166 5205h0M6042 5102h0M6105 5168h0M6104 5048h0M6009 5084h0M5961 5046h0M6222 5176h0M6007 5137h0M6162 5198h0M6057 5152h0M6095 5038h0M6003 5161h0M6176 5197h0M6132 5052h0M6179 5156h0M6110 5170h0M6073 4964h0M6174 5112h0M6065 5001h0M6102 5175h0M6188 5070h0M6033 5033h0M6049 5046h0M6068 5039h0M6166 5154h0M6084 5043h0M6132 5026h0M6038 5060h0M6057 5096h0M6126 5024h0M6197 5100h0M6033 5032h0M6165 5165h0M6047 5116h0M6064 5154h0M6072 5158h0M6142 5224h0M6044 5129h0M6089 5208h0M6145 5049h0M6082 5200h0M6036 5150h0M6178 5122h0M6077 5208h0M6213 5132h0M6171 5138h0M6064 5134h0M6147 5022h0M6001 5113h0M6049 5107h0M6213 5064h0M6040 5028h0M6222 5002h0M6174 5094h0M5971 5038h0M6026 5105h0M6084 5046h0M6065 5135h0M6214 5052h0M6136 5192h0M6051 5181h0M6166 5180h0M5981 5042h0M6062 5059h0M6047 5033h0M6117 5040h0M6219 5154h0M6137 5174h0M6075 5031h0M6070 5139h0M6137 4965h0M6194 5010h0M6059 5108h0M6039 5050h0M6156 5164h0M6219 5150h0M6101 5163h0M6078 5157h0M6070 5173h0M6041 5075h0M6180 5123h0M6144 5183h0M6056 5190h0M6064 5205h0M6123 5195h0M6183 5124h0M6019 5199h0M6086 5031h0M6041 5181h0M6158 5155h0M6053 5062h0M6092 5167h0M6086 5024h0M6003 5231h0M6064 5052h0M6217 5131h0M6096 5037h0M6105 5229h0M6146 5215h0M6172 5128h0M6203 5068h0M6188 5106h0M6137 5027h0M6163 5159h0M6031 5150h0M6133 5240h0M6097 5058h0M6047 5027h0M6177 5234h0M6064 5044h0M5996 5166h0M6259 5080h0M6057 5093h0M6077 5062h0M6200 5095h0M6067 5081h0M6008 5111h0M6053 5190h0M6029 5248h0M6124 5025h0M6072 5069h0M6070 5082h0M6144 5230h0M6050 5057h0M6059 5218h0M6060 5132h0M6122 5201h0M6188 5057h0M6052 5159h0M6178 5170h0M6103 5040h0M6073 5047h0M6011 5141h0M6052 5143h0M6015 5080h0M6144 5184h0M6179 5109h0M6030 5160h0M6121 5202h0M6127 5041h0M6083 5032h0M6100 5187h0M6206 5081h0M6181 5212h0M6144 5195h0M6204 5080h0M6084 5188h0M6054 5304h0M6145 5159h0M6090 5048h0M6086 5062h0M6170 5070h0M6077 5169h0M6170 5178h0M6093 5176h0M6146 5028h0M6127 5212h0M6180 5132h0M6193 5112h0M6076 5052h0M6059 5025h0M6101 4957h0M6014 5084h0M6114 5052h0M6096 5222h0M6160 5053h0M6153 5054h0M6073 5173h0M6183 5084h0M6185 5161h0M6023 5227h0M6182 5184h0M6191 5024h0M6048 5112h0M6046 5092h0M6169 5073h0M6032 5062h0M6086 5037h0M6109 5047h0M6197 5085h0M6144 5185h0M6193 4978h0M6170 5245h0M6146 5182h0M6110 5166h0M6087 5197h0M6060 5076h0M6009 5171h0M6199 5098h0M6149 5190h0M6118 5051h0M6229 5048h0M6178 5052h0M6097 5222h0M6196 5099h0M6166 5154h0M6120 5054h0M6276 5184h0M6087 5192h0M6164 5168h0M6079 5194h0M6117 5052h0M6043 5064h0M6123 5176h0M6073 5070h0M6094 5050h0M6162 5190h0M6011 5191h0M6189 5054h0M6143 5057h0M6047 5093h0M6033 4995h0M6142 5004h0M6115 4997h0M6045 4998h0M6079 5038h0M6125 5299h0M6068 5192h0M6110 5170h0M6119 5207h0M6216 5014h0M6220 5145h0M6192 5059h0M6059 5055h0M6046 5145h0M6194 5118h0M6092 5207h0M6042 5132h0M6021 5131h0M6144 5188h0M6176 5171h0M6198 5185h0M6079 5050h0M6154 5167h0M6069 5052h0M6186 5066h0M6055 5151h0M6168 5034h0M6211 5068h0M6038 5081h0M6213 5079h0M6127 5171h0M6074 5171h0M6149 5158h0M6221 5147h0M6040 5112h0M6159 5065h0M6070 5144h0M6046 5081h0M6132 5043h0M6141 5233h0M6066 5051h0M6239 5072h0M6160 5196h0M6177 5111h0M6274 5161h0M6107 5054h0M6167 5080h0M6201 5028h0M6161 5146h0M6059 5084h0M6173 5218h0M6116 5232h0M6176 5171h0M6058 5083h0M6190 5074h0M6168 5081h0M6174 5136h0M6037 5075h0M5981 5075h0M6193 5058h0M6188 5036h0M6119 5184h0M6037 5145h0M6055 5154h0M6165 5029h0M6120 5213h0M6169 5174h0M6140 5022h0M6122 5046h0M6077 5069h0M6191 5065h0M6174 5165h0M6202 5214h0M6083 5056h0M6147 5166h0M6159 5192h0M6187 5093h0M6202 5140h0M6035 5188h0M6119 5019h0M6080 5068h0M6198 5166h0M6130 5186h0M6210 5139h0M6179 5062h0M6120 5001h0M6127 5031h0M6225 5115h0M6093 5001h0M5998 5115h0M6199 5134h0M6122 5052h0M6204 5007h0M6224 5153h0M6083 5020h0M6202 5061h0M6164 5024h0M6032 5091h0M6052 5123h0M6200 5025h0M6045 5151h0M6214 5135h0M6099 5045h0M6104 5012h0M6170 5190h0M6192 5063h0M6107 5037h0M6128 5053h0M6112 5189h0M6178 5053h0M6155 5016h0M6103 5208h0M6108 5186h0M6230 5101h0M6189 5106h0M6123 5046h0M6076 5262h0M6004 5127h0M6179 4981h0M6204 5131h0M6092 5161h0M6158 5156h0M6179 5109h0M6056 5122h0M6180 5066h0M6170 5056h0M6053 5107h0M6153 5172h0M6058 5074h0M6018 5083h0M6186 5039h0M6200 5112h0M6168 5082h0M6086 5011h0M6068 5053h0M6073 4987h0M6040 5083h0M6194 5124h0M6126 5051h0M6108 5039h0M6200 5100h0M6059 5090h0M6180 4978h0M6145 5042h0M6061 5060h0M6039 5087h0M6085 5063h0M6042 5036h0M6064 5059h0M6145 5042h0M6136 5165h0M6020 5031h0M6182 5136h0M6154 5004h0M6194 5100h0M6088 5169h0M6065 5182h0M6049 5078h0M6057 5158h0M6161 5000h0M6176 5162h0M6174 5078h0M6124 5179h0M6022 5099h0M6243 5238h0M6158 5252h0M6080 5062h0M6145 5179h0M6217 5120h0M6103 5196h0M6043 5063h0M6095 5179h0M6172 5095h0M6172 5030h0M6030 5060h0M6156 5051h0M6080 5062h0M6059 5074h0M6024 5155h0M6165 5153h0M6049 5164h0M6035 5176h0M6112 5038h0M6174 5106h0M6057 5091h0M6157 5190h0M6120 5048h0M6137 5042h0M6058 5162h0M6125 5055h0M6143 5043h0M6140 5163h0M6258 5131h0M6058 5118h0M6182 5057h0M6226 5051h0M6058 5113h0M6188 5170h0M6083 5197h0M6068 5040h0M6025 5036h0M6142 5024h0M6166 5081h0M6192 5047h0M6168 5038h0M6175 5099h0M6133 5047h0M6084 5155h0M6083 5054h0M6231 5143h0M6174 5099h0M6154 5168h0M6063 5116h0M6134 5057h0M6200 5143h0M6220 5105h0M6107 5167h0M5987 5178h0M6188 5146h0M6079 5047h0M6055 5148h0M6046 5067h0M6059 5068h0M6137 5169h0M5983 5078h0M6161 5157h0M6189 5060h0M6170 5069h0M6162 5042h0M6124 5182h0M6057 5122h0M6180 5039h0M6185 5086h0M6039 5112h0M6208 5109h0M6090 5026h0M6058 5084h0M6161 5145h0M6193 5139h0M6178 5224h0M6203 5131h0M6084 5055h0M6099 5177h0M6039 5082h0M6072 5069h0M6039 5220h0M6163 5068h0M6097 5029h0M6120 5029h0M6045 5161h0M6005 5023h0M6090 5229h0M6207 5171h0M6110 5210h0M6207 5020h0M6185 5094h0M6134 4958h0M6195 5180h0M6054 5060h0M6181 5114h0M6031 5140h0M6034 5134h0M6182 5125h0M6021 5028h0M6017 5166h0M6115 5029h0M6051 5148h0M6053 5009h0M6047 5075h0M6079 5056h0M6023 5160h0M6112 5185h0M6116 5218h0M6043 5165h0M6058 5058h0M6113 5048h0M6044 5102h0M6133 5057h0M6163 5203h0M6050 5149h0M6042 5113h0M6147 5053h0M6082 5159h0M6129 5244h0M6171 5138h0M6155 5188h0M6032 5132h0M6180 5204h0M6038 5026h0M6001 5127h0M6059 5208h0M6140 5033h0M6059 5070h0M6015 5118h0M6129 5042h0M6207 5114h0M6138 5221h0M6056 5132h0M6081 5064h0M6077 5162h0M6118 5043h0M6033 5130h0M6191 5057h0M6175 5136h0M6221 5068h0M6207 5079h0M6197 4996h0M6119 5174h0M6205 5089h0M6170 5176h0M6188 5172h0M6174 5060h0M6102 5056h0M6097 5052h0M6173 5018h0M6108 5167h0M6186 5080h0M6202 5036h0M6099 5025h0M6050 5119h0M6152 5047h0M6235 5121h0M6105 5032h0M6046 5095h0M6201 5117h0M6176 5048h0M6152 5051h0M6122 5199h0M6127 5027h0M6124 5010h0M6177 5150h0M6028 5200h0M6129 5176h0M6184 5141h0M6157 5151h0M6211 5100h0M6226 5072h0M6212 5063h0M6154 5171h0M6022 5099h0M6079 5028h0M6176 5128h0M6093 5176h0M6205 5117h0M6065 5058h0M6190 5077h0M6052 5107h0M6125 5048h0M6072 5164h0M6052 5075h0M6218 5164h0M6070 5205h0M6158 5051h0M6020 5108h0M6200 5077h0M6168 5048h0M6196 5118h0M6167 5021h0M6202 5062h0M6089 5052h0M6151 5168h0M6138 5032h0M6159 5053h0M6065 5156h0M6051 5053h0M6132 5212h0M6064 5027h0M6190 5045h0M6180 5116h0M6062 5158h0M6005 5068h0M6165 5077h0M6267 5089h0M6138 5053h0M6077 5153h0M6080 5175h0M6104 5176h0M6143 5160h0M6039 5036h0M6015 5060h0M6130 5046h0M6184 5104h0M6059 5112h0M6142 5032h0M6148 5045h0M6383 5029h0M6364 5019h0M6475 5071h0M6418 5206h0M6327 5025h0M6459 5042h0M6321 5108h0M6453 5019h0M6363 5029h0M6352 5074h0M6439 5053h0M6446 5160h0M6559 5185h0M6443 5284h0M6365 5217h0M6348 5069h0M6374 5150h0M6373 5153h0M6309 5098h0M6468 5032h0M6357 5089h0M6378 5244h0M6419 5189h0M6479 5148h0M6509 5121h0M6465 5140h0M6470 5089h0M6422 5187h0M6349 5059h0M6505 5177h0M6503 5009h0M6457 5045h0M6333 5209h0M6481 5113h0M6388 5039h0M6397 5182h0M6445 5162h0M6514 5152h0M6439 5200h0M6501 5216h0M6455 5066h0M6473 5107h0M6364 5054h0M6476 5036h0M6448 5045h0M6353 5112h0M6348 5036h0M6368 5179h0M6346 5091h0M6296 5086h0M6372 5192h0M6469 5136h0M6492 5008h0M6341 5087h0M6478 5118h0M6474 5157h0M6313 5132h0M6458 5035h0M6358 5159h0M6471 5092h0M6311 5100h0M6508 5190h0M6387 5204h0M6509 5071h0M6457 5154h0M6360 5038h0M6371 5154h0M6470 5080h0M6441 5232h0M6333 5104h0M6445 5003h0M6459 5233h0M6499 5077h0M6484 5194h0M6338 5127h0M6360 5155h0M6406 5039h0M6353 5060h0M6515 5081h0M6397 5031h0M6369 5051h0M6475 5133h0M6385 5227h0M6390 5036h0M6349 5117h0M6371 5056h0M6506 5130h0M6359 5077h0M6330 5011h0M6438 4956h0M6371 5022h0M6475 5115h0M6268 5195h0M6484 5073h0M6522 5096h0M6330 5086h0M6518 5132h0M6324 5086h0M6289 5132h0M6470 5071h0M6337 4989h0M6514 5147h0M6497 5141h0M6479 5156h0M6385 5052h0M6373 5161h0M6410 5198h0M6516 5144h0M6523 5146h0M6509 5120h0M6465 5027h0M6462 5181h0M6524 5179h0M6404 5004h0M6342 5091h0M6459 5141h0M6368 5196h0M6395 5166h0M6461 5158h0M6358 5052h0M6409 5046h0M6353 5146h0M6434 5001h0M6382 5054h0M6376 5050h0M6438 5041h0M6337 5122h0M6314 5015h0M6340 5173h0M6366 5156h0M6344 5192h0M6467 5188h0M6355 5144h0M6342 5237h0M6375 5065h0M6422 5021h0M6496 5096h0M6479 5010h0M6345 5114h0M6511 5078h0M6463 5150h0M6503 5212h0M6372 5007h0M6377 5045h0M6351 5246h0M6454 5179h0M6346 5204h0M6467 5192h0M6361 5142h0M6373 5152h0M6458 5047h0M6473 5106h0M6428 5055h0M6436 5019h0M6452 5157h0M6359 5045h0M6430 5048h0M6407 5199h0M6413 4992h0M6393 4974h0M6352 5076h0M6513 5052h0M6349 5160h0M6347 5062h0M6351 5164h0M6336 5091h0M6491 5066h0M6367 5048h0M6326 5126h0M6340 5046h0M6464 5135h0M6479 5088h0M6384 5259h0M6405 5029h0M6370 5197h0M6364 5077h0M6548 5075h0M6423 5171h0M6381 5064h0M6370 5035h0M6479 5084h0M6339 5154h0M6308 5140h0M6392 5189h0M6468 5074h0M6386 5005h0M6372 5209h0M6306 5174h0M6500 5080h0M6254 5124h0M6495 5125h0M6341 5222h0M6447 5007h0M6562 5211h0M6369 5151h0M6404 5166h0M6483 5192h0M6470 5164h0M6475 5104h0M6338 5076h0M6348 5133h0M6532 5070h0M6349 5145h0M6421 5217h0M6475 5088h0M6351 5116h0M6423 5026h0M6338 5101h0M6314 5114h0M6356 5102h0M6395 5179h0M6490 5132h0M6452 5063h0M6301 5236h0M6391 5040h0M6433 5013h0M6481 5036h0M6543 5122h0M6345 5049h0M6421 5167h0M6516 5113h0M6403 5180h0M6352 5158h0M6409 5172h0M6478 5141h0M6471 5147h0M6486 5110h0M6427 5219h0M6461 5182h0M6406 5167h0M6355 5134h0M6300 5134h0M6463 5163h0M6352 5133h0M6512 5140h0M6364 5152h0M6308 5101h0M6355 5131h0M6482 5137h0M6362 5180h0M6450 5172h0M6470 5086h0M6465 5189h0M6289 5101h0M6345 5146h0M6492 5062h0M6359 5135h0M6420 5171h0M6439 5054h0M6382 5157h0M6490 5125h0M6454 5159h0M6367 5141h0M6374 5214h0M6463 5145h0M6352 5077h0M6323 5167h0M6306 5136h0M6451 5205h0M6430 5204h0M6476 5136h0M6474 5049h0M6452 5059h0M6387 5000h0M6375 5151h0M6418 5203h0M6443 5046h0M6528 5074h0M6417 5167h0M6386 5044h0M6431 5164h0M6266 5121h0M6433 5032h0M6371 5037h0M6503 5215h0M6487 5172h0M6520 5131h0M6469 5093h0M6353 5151h0M6453 5037h0M6346 5121h0M6351 5160h0M6337 5108h0M6465 5006h0M6466 5077h0M6368 5051h0M6423 5166h0M6358 5084h0M6334 5045h0M6339 5149h0M6439 5028h0M6536 5103h0M6499 5112h0M6453 5052h0M6394 5037h0M6413 5169h0M6369 5031h0M6482 5098h0M6434 5268h0M6416 5181h0M6365 4998h0M6335 5076h0M6360 5156h0M6471 5134h0M6323 5183h0M6394 5028h0M6347 5147h0M6415 5023h0M6321 5172h0M6466 5127h0M6337 5006h0M6483 5078h0M6480 5186h0M6516 5095h0M6372 5049h0M6407 5051h0M6465 5223h0M6364 5202h0M6334 5122h0M6323 5093h0M6441 5049h0M6339 5023h0M6339 5123h0M6316 5113h0M6491 5094h0M6483 5045h0M6425 5041h0M6426 5165h0M6486 5084h0M6423 5170h0M6346 5121h0M6268 5080h0M6540 5142h0M6474 5163h0M6381 5166h0M6461 5157h0M6378 5045h0M6462 5162h0M6427 5201h0M6368 5156h0M6506 5014h0M6467 5155h0M6504 5217h0M6417 5185h0M6439 5059h0M6413 5190h0M6325 5062h0M6439 5039h0M6380 5215h0M6355 5053h0M6424 5183h0M6368 5075h0M6383 5041h0M6438 5057h0M6356 5146h0M6444 5188h0M6388 5180h0M6515 5149h0M6358 5128h0M6375 5159h0M6445 5035h0M6365 5040h0M6481 5076h0M6471 5181h0M6455 5058h0M6437 5210h0M6363 5033h0M6447 5173h0M6327 5081h0M6472 5087h0M6427 5250h0M6291 5215h0M6368 5153h0M6428 5017h0M6494 5065h0M6353 5152h0M6346 5125h0M6517 5109h0M6404 5176h0M6375 4994h0M6498 5075h0M6459 5177h0M6477 5084h0M6425 5055h0M6484 5135h0M6361 5177h0M6354 5080h0M6356 5054h0M6367 5189h0M6340 5053h0M6329 5033h0M6296 5104h0M6375 5170h0M6353 5122h0M6337 5158h0M6463 5150h0M6382 5033h0M6412 5171h0M6444 5166h0M6467 5091h0M6332 5106h0M6287 5079h0M6287 5152h0M6431 5188h0M6342 5189h0M6451 5034h0M6500 5090h0M6353 5110h0M6353 5009h0M6360 5085h0M6384 5192h0M6367 5141h0M6468 5146h0M6426 5197h0M6327 5081h0M6437 5166h0M6369 5172h0M6425 5032h0M6284 5068h0M6426 5175h0M6480 5107h0M6483 5089h0M6506 5155h0M6460 5071h0M6379 5186h0M6431 5045h0M6323 5141h0M6487 5044h0M6553 5082h0M6357 5087h0M6504 5107h0M6379 5052h0M6475 5199h0M6464 5187h0M6438 5180h0M6371 5164h0M6387 5020h0M6454 5199h0M6483 5114h0M6411 5012h0M6463 5133h0M6339 5169h0M6382 5028h0M6368 5003h0M6352 5077h0M6454 5068h0M6356 5132h0M6382 5022h0M6313 5026h0M6515 5106h0M6431 5049h0M6477 5102h0M6301 5100h0M6420 5214h0M6499 5119h0M6361 5077h0M6445 5000h0M6358 5086h0M6423 5031h0M6517 5056h0M6329 5060h0M6569 5138h0M6384 5054h0M6412 5051h0M6348 5061h0M6312 5049h0M6465 5145h0M6388 5185h0M6331 5142h0M6466 5050h0M6355 5019h0M6469 5076h0M6348 5041h0M6447 5026h0M6451 5171h0M6360 5202h0M6462 5036h0M6524 5176h0M6457 5146h0M6335 5181h0M6469 5091h0M6408 5187h0M6480 5081h0M6385 5167h0M6320 5087h0M6467 5052h0M6368 5146h0M6455 5054h0M6332 5191h0M6321 4971h0M6412 5051h0M6385 5053h0M6389 4975h0M6293 5166h0M6469 5096h0M6464 5148h0M6365 5065h0M6356 5122h0M6467 5148h0M6331 5171h0M6350 5193h0M6332 5233h0M6498 5131h0M6343 5089h0M6507 5063h0M6471 5092h0M6514 5097h0M6468 5135h0M6425 5177h0M6337 5083h0M6497 5132h0M6374 5032h0M6487 5112h0M6491 5053h0M6431 5030h0M6402 5168h0M6479 5118h0M6290 5117h0M6329 5044h0M6493 5142h0M6385 5026h0M6374 5058h0M6329 5136h0M6423 5172h0M6511 5095h0M6457 5176h0M6479 5072h0M6447 5178h0M6449 5047h0M6377 5171h0M6382 5053h0M6346 5211h0M6354 5166h0M6467 5037h0M6313 5164h0M6337 5184h0M6373 5067h0M6512 5051h0M6489 5097h0M6415 5217h0M6356 5180h0M6478 5110h0M6451 5041h0M6465 5053h0M6395 5014h0M6455 5060h0M6359 5183h0M6354 5114h0M6413 4999h0M6409 5258h0M6314 5139h0M6371 5153h0M6293 5187h0M6336 5099h0M6363 5059h0M6427 5031h0M6448 4975h0M6452 5060h0M6473 5053h0M6345 5042h0M6365 5053h0M6511 5154h0M6374 5066h0M6468 5085h0M6492 5129h0M6499 5040h0M6355 5097h0M6528 5040h0M6351 5160h0M6439 5047h0M6330 5084h0M6301 5163h0M6392 5015h0M6402 5208h0M6465 5131h0M6452 5015h0M6446 5057h0M6404 5167h0M6412 5051h0M6338 5124h0M6480 5262h0M6383 5054h0M6392 5041h0M6373 5041h0M6347 5132h0M6345 5053h0M6356 5149h0M6461 5038h0M6467 5036h0M6446 5019h0M6451 5162h0M6455 5229h0M6435 5037h0M6488 5110h0M6371 5024h0M6353 5087h0M6483 5098h0M6431 5176h0M6506 5000h0M6376 5066h0M6444 5210h0M6406 5025h0M6288 5157h0M6484 5035h0M6435 5023h0M6343 5184h0M6370 5073h0M6525 5153h0M6454 5051h0M6381 5201h0M6320 5081h0M6465 5160h0M6400 5218h0M6466 5066h0M6417 5175h0M6389 5059h0M6477 5096h0M6418 5053h0M6465 5191h0M6370 5186h0M6495 5145h0M6369 5159h0M6399 5204h0M6419 5048h0M6475 5007h0M6461 5076h0M6350 5075h0M6330 5130h0M6391 5200h0M6325 5099h0M6484 5117h0M6352 5109h0M6465 5177h0M6306 5130h0M6387 5036h0M6360 5090h0M6431 5222h0M6449 5059h0M6338 5156h0M6362 5066h0M6435 5041h0M6372 5161h0M6528 5065h0M6355 5157h0M6520 5116h0M6478 5108h0M6421 5045h0M6470 5077h0M6323 5144h0M6376 5021h0M6352 5118h0M6448 5065h0M6383 5184h0M6330 5016h0M6386 5160h0M6448 5170h0M6401 5026h0M6432 5050h0M6466 5135h0M6409 5044h0M6476 5157h0M6369 5217h0M6431 4998h0M6389 5001h0M6312 5168h0M6538 5076h0M6354 5136h0M6401 5052h0M6344 5116h0M6462 5138h0M6478 5141h0M6481 5067h0M6470 5100h0M6499 5112h0M6359 5151h0M6353 5157h0M6324 5157h0M6318 5070h0M6397 5200h0M6387 5193h0M6486 5171h0M6410 5194h0M6446 5050h0M6470 5085h0M6426 5165h0M6414 5210h0M6464 5158h0M6439 5056h0M6402 5180h0M6475 5089h0M6456 5012h0M6565 5177h0M6384 5212h0M6484 5158h0M6486 5123h0M6460 5025h0M6357 5083h0M6484 5067h0M6339 5097h0M6363 5137h0M6380 5191h0M6332 5065h0M6486 5061h0M6410 5055h0M6451 5188h0M6495 5097h0M6382 5059h0M6382 5276h0M6406 5181h0M6453 5039h0M6397 5044h0M6361 5162h0M6416 5029h0M6363 5142h0M6349 5075h0M6529 5215h0M6326 5176h0M6489 5071h0M6447 5042h0M6333 5094h0M6339 5108h0M6486 5106h0M6438 5226h0M6365 5194h0M6335 5173h0M6373 5148h0M6462 5158h0M6376 5161h0M6486 5151h0M6393 5166h0M6436 5055h0M6311 5116h0M6355 5048h0M6372 5071h0M6380 5062h0M6402 5176h0M6480 5220h0M6356 5124h0M6396 5042h0M6382 5038h0M6408 5198h0M6397 5200h0M6482 5041h0M6359 5206h0M6355 5174h0M6400 5216h0M6303 5108h0M6452 5009h0M6447 5066h0M6355 5126h0M6324 5071h0M6456 5069h0M6344 5059h0M6402 5206h0M6495 5138h0M6449 5063h0M6412 5177h0M6349 5169h0M6322 5073h0M6477 5163h0M6400 5243h0M6501 5113h0M6397 5220h0M6455 5163h0M6322 5153h0M6389 5057h0M6359 5077h0M6454 5027h0M6322 5111h0M6365 5008h0M6474 5149h0M6453 5055h0M6369 5166h0M6381 5064h0M6331 5119h0M6473 5097h0M6452 5151h0M6473 5154h0M6378 5010h0M6487 5093h0M6360 5167h0M6418 5053h0M6349 5204h0M6514 5042h0M6352 5097h0M6379 5050h0M6409 5199h0M6353 5085h0M6459 5178h0M6266 5091h0M6473 5071h0M6504 5206h0M6404 5027h0M6420 5039h0M6273 5059h0M6475 5182h0M6382 5196h0M6326 5102h0M6329 5116h0M6386 5179h0M6443 5055h0M6456 5068h0M6500 5130h0M6349 5084h0M6484 5174h0M6457 5190h0M6357 5061h0M6486 5039h0M6451 5242h0M6451 5035h0M6379 5205h0M6489 5104h0M6414 5034h0M6391 5037h0M6353 5127h0M6449 5062h0M6471 5177h0M6461 5172h0M6412 5006h0M6509 5097h0M6350 5181h0M6419 5167h0M6468 5088h0M6514 5061h0M6437 5051h0M6401 5020h0M6452 5042h0M6431 5042h0M6277 5185h0M6383 4963h0M6278 5071h0M6466 5175h0M6472 5137h0M6376 5193h0M6379 5176h0M6363 5084h0M6466 5219h0M6451 5155h0M6483 5077h0M6355 5146h0M6491 5157h0M6381 5165h0M6372 5061h0M6453 5049h0M6392 4993h0M6408 5211h0M6318 5156h0M6466 5075h0M6383 5054h0M6353 5151h0M6451 5064h0M6356 5086h0M6351 5032h0M6436 5208h0M6357 5084h0M6395 5023h0M6398 5181h0M6340 5051h0M6482 5152h0M6343 5131h0M6272 5137h0M6377 5061h0M6431 5045h0M6446 5060h0M6470 5143h0M6420 5026h0M6394 5167h0M6427 4991h0M6372 5188h0M6347 5059h0M6371 5042h0M6398 5209h0M6417 5174h0M6328 5089h0M6384 5196h0M6302 5129h0M6488 5081h0M6401 5203h0M6304 5153h0M6423 4989h0M6512 5114h0M6348 5180h0M6357 5144h0M6358 5033h0M6435 5166h0M6302 5002h0M6424 5171h0M6361 5139h0M6513 5079h0M6364 5061h0M6468 5146h0M6296 5084h0M6330 5150h0M6483 5115h0M6360 5163h0M6377 5154h0M6280 5105h0M6475 5124h0M6489 5177h0M6467 5180h0M6400 5051h0M6424 5055h0M6464 5138h0M6351 5097h0M6379 5201h0M6317 5265h0M6559 5209h0M6448 5035h0M6334 5130h0M6396 4970h0M6515 5135h0M6425 5172h0M6429 5186h0M6364 5000h0M6487 5036h0M6510 5094h0M6515 5187h0M6420 5183h0M6514 5120h0M6502 5146h0M6361 4995h0M6361 5049h0M6347 5130h0M6400 5055h0M6372 5182h0M6448 5159h0M6406 5055h0M6461 5166h0M6483 5161h0M6466 5138h0M6466 5163h0M6313 5146h0M6350 5089h0M6365 5151h0M6459 5183h0M6358 5114h0M6432 4994h0M6333 5164h0M6371 5155h0M6372 5186h0M6469 5133h0M6518 5130h0M6332 5117h0M6360 5085h0M6414 5166h0M6427 5165h0M6477 5202h0M6409 5045h0M6285 5041h0M6374 5154h0M6339 5116h0M6363 5005h0M6318 5044h0M6456 5172h0M6369 5174h0M6481 5126h0M6484 5133h0M6533 5033h0M6515 5131h0M6301 5116h0M6500 5078h0M6459 5150h0M6339 5160h0M6423 5038h0M6342 5098h0M6354 5076h0M6398 5166h0M6404 5054h0M6465 5198h0M6454 5069h0M6546 5233h0M6398 5189h0M6472 5120h0M6482 5170h0M6428 5168h0M6403 5186h0M6398 5170h0M6350 5067h0M6341 5111h0M6539 5123h0M6452 5257h0M6527 5143h0M6363 5061h0M6443 5186h0M6434 5059h0M6536 5070h0M6417 5031h0M6401 5027h0M6377 5046h0M6336 5104h0M6278 5189h0M6332 5197h0M6361 5048h0M6400 5188h0M6381 5174h0M6470 5164h0M6369 5190h0M6483 5169h0M6507 5084h0M6441 5167h0M6379 5042h0M6489 5067h0M6427 5185h0M6354 5095h0M6472 5175h0M6428 5044h0M6462 5169h0M6363 5182h0M6328 5168h0M6387 5174h0M6375 5187h0M6351 5099h0M6362 5170h0M6330 5143h0M6489 5192h0M6341 5242h0M6367 5150h0M6456 5022h0M6295 5058h0M6475 5105h0M6413 5193h0M6315 5112h0M6523 5084h0M6342 5125h0M6382 5160h0M6325 5100h0M6393 5047h0M6491 5119h0M6388 5047h0M6390 5161h0M6502 5109h0M6492 5193h0M6341 5058h0M6487 5100h0M6459 5042h0M6519 5115h0M6484 5139h0M6500 5103h0M6500 5037h0M6303 5077h0M6318 5107h0M6350 5176h0M6439 5169h0M6390 5166h0M6507 5138h0M6468 5180h0M6322 5133h0M6374 5211h0M6515 5033h0M6375 5172h0M6467 5136h0M6371 5036h0M6464 5047h0M6349 5061h0M6327 5147h0M6397 5168h0M6406 5210h0M6526 5157h0M6335 5176h0M6506 5136h0M6478 5045h0M6433 5168h0M6342 5097h0M6466 5081h0M6445 5158h0M6374 5068h0M6421 5046h0M6448 5169h0M6433 5209h0M6317 5083h0M6365 5059h0M6390 5038h0M6498 5072h0M6345 5151h0M6417 5214h0M6486 5164h0M6323 5053h0M6345 5103h0M6470 5151h0M6472 5130h0M6522 5038h0M6509 5040h0M6288 5165h0M6348 5174h0M6339 5188h0M6290 5154h0M6337 5094h0M6266 5175h0M6486 5080h0M6341 5089h0M6490 5056h0M6428 5011h0M6375 5031h0M6454 5066h0M6510 5092h0M6373 5166h0M6528 5092h0M6469 5120h0M6476 5176h0M6470 5115h0M6401 5205h0M6359 5048h0M6407 4988h0M6468 5173h0M6435 5059h0M6384 5018h0M6337 5146h0M6339 5036h0M6322 5176h0M6359 5144h0M6286 5071h0M6352 5185h0M6505 5077h0M6460 5043h0M6501 5143h0M6394 5178h0M6434 5032h0M6332 5108h0M6368 5074h0M6423 5174h0M6352 5089h0M6496 5169h0M6384 5159h0M6430 5234h0M6372 5032h0M6510 5105h0M6325 5067h0M6445 5021h0M6400 5198h0M6349 5081h0M6431 5164h0M6427 5047h0M6383 5171h0M6333 5151h0M6399 5184h0M6476 5136h0M6393 5162h0M6466 5183h0M6326 5058h0M6346 5137h0M6395 5173h0M6397 5030h0M6329 5087h0M6432 5190h0M6488 5060h0M6334 5132h0M6460 5066h0M6350 5080h0M6484 5106h0M6376 5045h0M6493 5049h0M6514 5034h0M6485 5128h0M6344 5222h0M6419 5206h0M6364 5060h0M6387 5172h0M6501 5078h0M6440 5017h0M6418 5014h0M6365 5149h0M6350 5103h0M6414 5036h0M6465 5047h0M6467 5184h0M6395 5057h0M6463 5074h0M6483 5114h0M6453 4977h0M6388 5059h0M6509 5113h0M6468 5105h0M6449 5055h0M6372 5026h0M6475 5131h0M6381 5053h0M6460 5139h0M6361 5064h0M6303 5155h0M6482 5170h0M6444 5015h0M6403 5036h0M6373 4997h0M6406 5169h0M6390 5178h0M6357 5121h0M6441 5166h0M6470 5109h0M6369 5013h0M6355 5109h0M6343 5183h0M6363 5141h0M6438 5183h0M6426 5043h0M6505 5155h0M6358 5156h0M6449 5018h0M6468 5005h0M6488 5106h0M6500 5133h0M6468 5087h0M6311 5087h0M6382 5056h0M6480 5096h0M6424 5186h0M6391 5171h0M6396 5042h0M6477 5131h0M6516 5115h0M6417 5045h0M6503 5044h0M6317 5106h0M6469 5145h0M6483 5103h0M6324 5099h0M6468 5062h0M6336 5116h0M6345 5176h0M6467 5145h0M6346 5120h0M6472 5158h0M6399 5185h0M6339 5169h0M6518 5076h0M6346 5152h0M6484 5135h0M6355 5062h0M6321 5124h0M6254 5162h0M6429 4980h0M6441 5049h0M6503 5119h0M6311 5041h0M6402 5022h0M6492 5129h0M6384 5003h0M6458 5169h0M6331 5028h0M6426 5211h0M6470 5168h0M6461 5052h0M6429 5164h0M6521 5175h0M6451 5157h0M6389 5164h0M6364 5038h0M6473 5028h0M6344 5088h0M6366 5149h0M6548 5119h0M6476 5183h0M6369 5050h0M6306 5001h0M6487 5144h0M6477 5199h0M6338 5142h0M6373 5190h0M6445 5206h0M6354 5070h0M6363 5072h0M6393 5171h0M6414 5170h0M6365 5063h0M6384 4994h0M6318 5082h0M6370 5057h0M6383 5027h0M6356 5110h0M6311 5155h0M6347 5112h0M6380 5185h0M6470 5110h0M6396 5017h0M6481 5132h0M6469 5175h0M6569 5169h0M6359 5245h0M6349 5104h0M6468 5145h0M6449 5154h0M6382 5062h0M6455 5169h0M6360 5069h0M6452 5034h0M6311 5070h0M6443 5170h0M6363 5149h0M6440 5220h0M6457 5068h0M6399 5055h0M6422 5027h0M6310 5069h0M6373 5200h0M6346 5163h0M6485 5038h0M6356 5140h0M6352 5143h0M6454 5233h0M6329 5147h0M6461 5047h0M6348 5240h0M6481 5131h0M6416 5042h0M6292 5188h0M6355 5027h0M6367 5021h0M6411 5167h0M6504 5171h0M6460 4924h0M6495 5101h0M6370 5224h0M6354 5147h0M6433 5010h0M6314 5193h0M6437 4960h0M6411 5005h0M6485 5015h0M6499 5012h0M6382 5159h0M6464 4985h0M6455 5057h0M6360 5138h0M6379 5035h0M6359 5124h0M6327 5208h0M6519 5105h0M6356 5090h0M6489 5069h0M6372 5042h0M6385 4971h0M6418 5012h0M6477 5141h0M6332 5120h0M6385 5000h0M6422 5024h0M6497 5150h0M6527 5072h0M6468 5111h0M6333 5141h0M6467 5134h0M6359 5099h0M6451 5032h0M6443 5062h0M6492 5125h0M6248 5125h0M6373 5174h0M6497 5087h0M6357 5020h0M6366 4982h0M6424 5050h0M6335 5071h0M6401 5166h0M6367 5172h0M6352 5159h0M6448 5014h0M6510 5154h0M6358 5163h0M6475 5170h0M6408 5201h0M6449 5199h0M6347 5011h0M6462 5068h0M6337 5121h0M6439 5002h0M6506 5106h0M6410 5178h0M6492 5110h0M6469 5120h0M6289 5102h0M6483 5097h0M6494 5170h0M6426 5166h0M6459 5041h0M6493 5093h0M6412 5053h0M6435 5209h0M6478 5110h0M6416 5194h0M6353 5139h0M6361 5050h0M6360 5067h0M6450 5056h0M6388 5161h0M6342 4996h0M6375 5056h0M6325 5157h0M6399 5181h0M6366 5211h0M6426 5046h0M6490 5069h0M6484 5135h0M6450 5167h0M6469 5016h0M6441 5160h0M6382 5180h0M6495 5044h0M6481 5093h0M6513 5174h0M6306 5152h0M6506 5148h0M6292 5117h0M6452 5051h0M6462 5165h0M6344 5202h0M6338 5071h0M6426 5183h0M6312 5102h0M6368 5180h0M6332 5034h0M6363 5059h0M6525 5104h0M6281 5182h0M6400 5020h0M6462 5070h0M6470 5122h0M6462 5191h0M6364 5056h0M6451 5180h0M6347 5119h0M6355 5031h0M6477 5157h0M6489 5061h0M6387 5212h0M6350 5109h0M6353 5089h0M6477 5041h0M6396 5165h0M6325 5092h0M6409 5021h0M6467 5122h0M6521 5080h0M6508 5123h0M6406 5166h0M6378 5182h0M6444 5036h0M6347 5163h0M6500 5167h0M6470 5079h0M6457 5161h0M6340 5114h0M6398 5028h0M6383 4973h0M6353 5051h0M6367 5213h0M6385 5001h0M6397 5166h0M6437 5059h0M6482 5162h0M6475 5091h0M6478 5055h0M6393 5176h0M6462 5031h0M6396 5181h0M6336 5221h0M6347 5089h0M6493 5132h0M6425 5170h0M6357 5160h0M6337 5066h0M6370 5147h0M6446 5180h0M6311 5195h0M6392 5034h0M6522 5111h0M6360 5087h0M6482 5068h0M6370 5187h0M6322 5098h0M6414 5265h0M6382 5185h0M6386 5221h0M6496 5132h0M6377 5176h0M6546 5124h0M6514 5116h0M6335 5039h0M6506 5154h0M6458 5031h0M6335 5150h0M6430 5191h0M6490 5053h0M6306 5135h0M6443 5159h0M6368 5015h0M6504 5144h0M6467 5030h0M6350 5170h0M6348 5152h0M6402 4954h0M6331 5067h0M6487 5156h0M6375 5048h0M6317 5082h0M6388 5036h0M6306 5111h0M6507 5081h0M6467 5139h0M6306 5129h0M6377 5034h0M6353 5133h0M6438 5044h0M6482 5078h0M6297 5100h0M6534 5123h0M6422 5236h0M6507 5104h0M6419 5037h0M6445 5180h0M6359 5072h0M6501 5114h0M6426 5189h0M6470 5133h0M6472 5179h0M6488 5098h0M6372 5056h0M6457 5161h0M6492 5025h0M6470 5105h0M6331 5039h0M6399 4993h0M6302 5074h0M6568 5152h0M6333 5118h0M6422 5037h0M6290 5152h0M6324 5099h0M6306 5187h0M6404 5020h0M6358 5153h0M6327 4963h0M6398 5038h0M6368 5020h0M6471 5119h0M6363 5238h0M6430 5022h0M6302 5029h0M6370 5071h0M6329 5131h0M6308 5069h0M6467 5175h0M6318 5075h0M6484 5216h0M6372 5060h0M6370 5049h0M6554 5043h0M6337 5077h0M6483 5094h0M6431 5042h0M6427 5054h0M6505 5129h0M6466 5060h0M6470 5129h0M6482 5071h0M6339 5081h0M6365 5169h0M6359 5054h0M6444 5064h0M6466 5134h0M6432 5214h0M6445 5033h0M6380 5015h0M6380 5039h0M6368 5063h0M6324 5122h0M6461 5074h0M6411 5180h0M6480 5052h0M6367 5157h0M6485 5147h0M6402 5240h0M6335 5109h0M6360 5150h0M6392 5186h0M6363 5078h0M6487 5152h0M6466 5061h0M6540 5128h0M6469 5131h0M6352 5085h0M6433 5001h0M6375 5182h0M6340 5119h0M6353 5159h0M6544 5169h0M6333 5076h0M6357 5071h0M6468 5178h0M6419 5227h0M6475 5191h0M6467 5160h0M6342 5111h0M6362 5077h0M6405 5182h0M6367 5077h0M6476 5144h0M6351 5120h0M6354 5152h0M6465 5072h0M6372 5064h0M6470 5092h0M6422 5046h0M6402 5200h0M6443 4996h0M6533 5132h0M6371 5146h0M6464 5192h0M6498 5115h0M6440 5189h0M6445 5003h0M6446 5170h0M6353 5076h0M6491 5035h0M6459 5148h0M6351 5110h0M6491 5148h0M6339 5082h0M6466 5033h0M6345 5087h0M6499 5124h0M6304 5088h0M6489 5170h0M6457 5196h0M6430 5039h0M6330 5117h0M6396 5176h0M6348 5016h0M6471 5081h0M6497 5144h0M6329 5118h0M6489 5121h0M6456 5164h0M6480 5152h0M6435 5163h0M6480 5046h0M6454 5159h0M6458 5050h0M6462 5041h0M6453 5060h0M6418 5030h0M6513 5117h0M6352 5082h0M6424 5182h0M6460 5159h0M6389 5024h0M6351 5099h0M6338 5201h0M6328 5019h0M6487 5051h0M6377 5007h0M6471 5089h0M6301 5045h0M6347 5103h0M6279 5103h0M6439 5175h0M6313 5053h0M6432 5036h0M6461 5068h0M6415 5165h0M6351 5148h0M6371 4998h0M6492 5165h0M6461 5152h0M6314 5229h0M6505 4983h0M6458 5050h0M6490 5158h0M6470 5077h0M6467 5124h0M6460 5066h0M6327 5069h0M6354 5103h0M6374 5005h0M6352 5163h0M6317 5079h0M6380 5168h0M6336 5100h0M6352 5037h0M6446 5174h0M6399 5172h0M6425 5056h0M6437 5058h0M6453 5068h0M6280 5149h0M6442 5160h0M6483 5162h0M6331 5147h0M6381 5054h0M6455 5157h0M6338 5172h0M6367 5068h0M6347 5160h0M6354 5268h0M6431 5049h0M6492 5075h0M6451 5173h0M6431 5008h0M6359 5082h0M6452 5183h0M6349 5096h0M6471 5159h0M6501 5070h0M6354 5149h0M6309 5148h0M6323 5092h0M6411 5014h0M6409 5053h0M6443 5033h0M6493 5056h0M6445 4988h0M6452 5171h0M6370 5174h0M6349 5107h0M6443 5164h0M6435 5179h0M6334 5127h0M6501 5069h0M6420 5020h0M6396 5047h0M6407 5179h0M6470 5220h0M6330 5126h0M6365 5080h0M6474 5086h0M6481 5046h0M6316 4998h0M6405 5048h0M6356 5120h0M6368 5143h0M6444 5160h0M6371 5176h0M6420 5166h0M6363 5137h0M6430 5051h0M6481 5179h0M6449 5049h0M6437 5032h0M6418 5038h0M6417 5009h0M6347 5263h0M6378 4987h0M6470 5074h0M6388 5198h0M6361 5055h0M6478 5093h0M6391 5058h0M6331 5118h0M6490 5180h0M6358 5144h0M6472 5166h0M6370 5206h0M6473 5161h0M6417 5193h0M6465 5158h0M6378 5000h0M6459 5058h0M6307 5104h0M6334 5049h0M6465 5028h0M6352 5140h0M6457 5173h0M6484 5073h0M6456 5145h0M6343 5133h0M6362 5064h0M6433 5010h0M6521 5163h0M6331 5130h0M6477 5135h0M6356 5083h0M6327 5153h0M6455 5151h0M6458 5078h0M6333 5158h0M6452 5153h0M6376 5063h0M6411 5048h0M6462 5149h0M6337 5104h0M6355 5081h0M6484 5046h0M6506 4987h0M6374 5163h0M6394 5192h0M6411 5171h0M6361 5056h0M6374 5069h0M6436 5163h0M6511 5190h0M6207 5375h0M6115 5457h0M6177 5325h0M6225 5428h0M6178 5387h0M6239 5419h0M6034 5453h0M6197 5362h0M6084 5336h0M6093 5445h0M6169 5353h0M5987 5299h0M6132 5499h0M6036 5402h0M6167 5424h0M6195 5365h0M6167 5357h0M6079 5432h0M6117 5499h0M6148 5437h0M6181 5402h0M6059 5444h0M6102 5521h0M6058 5415h0M6173 5414h0M6152 5307h0M6175 5274h0M6082 5238h0M6052 5374h0M6056 5412h0M6092 5311h0M6212 5368h0M6185 5448h0M6214 5356h0M6210 5450h0M6190 5310h0M6045 5489h0M6052 5461h0M6039 5427h0M6198 5354h0M6127 5331h0M6172 5465h0M6127 5452h0M6107 5476h0M6169 5436h0M6035 5438h0M6075 5433h0M6046 5461h0M6177 5410h0M6115 5459h0M6157 5436h0M6059 5401h0M6155 5321h0M6013 5368h0M6173 5358h0M6159 5435h0M6170 5363h0M6177 5387h0M6066 5257h0M6164 5339h0M6054 5315h0M6109 5330h0M6025 5248h0M6178 5464h0M6015 5358h0M6040 5407h0M6001 5426h0M6015 5380h0M6043 5429h0M6096 5484h0M6178 5500h0M6019 5411h0M6177 5378h0M5983 5505h0M6193 5462h0M6049 5430h0M6077 5328h0M6085 5301h0M6013 5442h0M6093 5454h0M6218 5344h0M6185 5357h0M6081 5341h0M6163 5347h0M6084 5332h0M6039 5447h0M6071 5353h0M6152 5325h0M6173 5455h0M6054 5366h0M6179 5390h0M6212 5354h0M6048 5453h0M6068 5367h0M6127 5331h0M6140 5335h0M6088 5307h0M6126 5334h0M6109 5253h0M6160 5465h0M6125 5310h0M6095 5481h0M6228 5394h0M6139 5466h0M6013 5319h0M6138 5456h0M6162 5466h0M6078 5343h0M6092 5326h0M6078 5457h0M6196 5345h0M6240 5381h0M6041 5493h0M6084 5298h0M6060 5371h0M6064 5413h0M6040 5318h0M6100 5287h0M5969 5458h0M6079 5444h0M6120 5483h0M6104 5319h0M6048 5380h0M6066 5348h0M6177 5315h0M6167 5318h0M6136 5320h0M6164 5357h0M6161 5356h0M6196 5339h0M6158 5322h0M6056 5480h0M6036 5314h0M6148 5485h0M6196 5338h0M6254 5374h0M6032 5368h0M6183 5402h0M6169 5429h0M6050 5495h0M6093 5300h0M6051 5354h0M6064 5361h0M6067 5473h0M6193 5420h0M6176 5340h0M6169 5305h0M6227 5361h0M6066 5366h0M6220 5460h0M6136 5308h0M6051 5308h0M6196 5389h0M6181 5426h0M6089 5329h0M6106 5461h0M6051 5397h0M6211 5379h0M6022 5433h0M6104 5520h0M6211 5423h0M6178 5447h0M6058 5264h0M6183 5528h0M6170 5345h0M6044 5348h0M6033 5360h0M6045 5427h0M6168 5456h0M6148 5486h0M6097 5329h0M6033 5362h0M6210 5388h0M6121 5333h0M6180 5404h0M6032 5445h0M6059 5482h0M6036 5304h0M6199 5448h0M6054 5436h0M6032 5478h0M6139 5338h0M6089 5328h0M6141 5339h0M6023 5420h0M6194 5327h0M6227 5387h0M6198 5395h0M6245 5427h0M6086 5457h0M6197 5390h0M6270 5317h0M6036 5329h0M6026 5435h0M6161 5514h0M6013 5466h0M6079 5439h0M6130 5487h0M6198 5384h0M6034 5415h0M6207 5494h0M6077 5434h0M6112 5490h0M6127 5280h0M6103 5491h0M6195 5437h0M6171 5339h0M6095 5442h0M6162 5447h0M6012 5352h0M6147 5453h0M6086 5503h0M6197 5367h0M6060 5380h0M6017 5363h0M6176 5414h0M6056 5425h0M6064 5379h0M6135 5531h0M6134 5318h0M6092 5322h0M6035 5309h0M6146 5440h0M6203 5388h0M6025 5453h0M6041 5430h0M6181 5366h0M6056 5454h0M6099 5307h0M6075 5537h0M6131 5337h0M6051 5440h0M6146 5317h0M6110 5319h0M6068 5424h0M6188 5411h0M6127 5272h0M6216 5465h0M6189 5293h0M6195 5415h0M6163 5357h0M6093 5326h0M6192 5388h0M6243 5392h0M6228 5373h0M6198 5303h0M6153 5464h0M6193 5288h0M6221 5393h0M6097 5311h0M6033 5294h0M6221 5340h0M6184 5350h0M6051 5486h0M6161 5449h0M6023 5375h0M6123 5294h0M6060 5433h0M6118 5324h0M6001 5429h0M6092 5458h0M6047 5347h0M6062 5390h0M6078 5309h0M5999 5455h0M6087 5308h0M6063 5450h0M6265 5404h0M6138 5315h0M6207 5357h0M6017 5338h0M6225 5391h0M6061 5419h0M6096 5291h0M6102 5327h0M6084 5330h0M6193 5418h0M6182 5374h0M6141 5341h0M6225 5450h0M6220 5533h0M6164 5311h0M6201 5378h0M6034 5375h0M6174 5398h0M6175 5308h0M6183 5408h0M6071 5432h0M6041 5473h0M6012 5429h0M6165 5291h0M6088 5327h0M6122 5452h0M6120 5335h0M6170 5481h0M6090 5462h0M6113 5540h0M6068 5356h0M6036 5405h0M6067 5436h0M6199 5362h0M6103 5477h0M6140 5460h0M6114 5323h0M6114 5323h0M6149 5471h0M6162 5354h0M6194 5312h0M6064 5339h0M6037 5363h0M6038 5346h0M6084 5319h0M6048 5244h0M6076 5276h0M6161 5446h0M6159 5444h0M6179 5469h0M6184 5371h0M6001 5371h0M6039 5394h0M6135 5459h0M6147 5444h0M6042 5401h0M6169 5358h0M6077 5445h0M6121 5486h0M6202 5430h0M6213 5471h0M6214 5314h0M6061 5429h0M6110 5450h0M6085 5446h0M6089 5458h0M6135 5313h0M6206 5283h0M6007 5390h0M6218 5455h0M6040 5437h0M6115 5500h0M6175 5349h0M6047 5357h0M6204 5414h0M6180 5475h0M5990 5432h0M6090 5343h0M6181 5411h0M6079 5479h0M5988 5425h0M6240 5253h0M6151 5450h0M6163 5458h0M6049 5363h0M6065 5345h0M6008 5357h0M6130 5494h0M6065 5423h0M6196 5451h0M6019 5343h0M6196 5364h0M6161 5306h0M6029 5359h0M6127 5304h0M6175 5488h0M6235 5385h0M6188 5332h0M6202 5393h0M6150 5438h0M6177 5355h0M5952 5377h0M6219 5359h0M6044 5409h0M6189 5387h0M6073 5479h0M6090 5442h0M6085 5321h0M6145 5502h0M6062 5351h0M6144 5464h0M6234 5413h0M6161 5326h0M6028 5449h0M6096 5326h0M6039 5376h0M6120 5316h0M6153 5450h0M6191 5401h0M6166 5264h0M6184 5479h0M6142 5470h0M6102 5322h0M6088 5473h0M6189 5431h0M6071 5514h0M6159 5436h0M6127 5335h0M6155 5347h0M6106 5305h0M6180 5407h0M6122 5313h0M6213 5417h0M6154 5267h0M6062 5384h0M6037 5410h0M6175 5353h0M6191 5404h0M6129 5467h0M6056 5361h0M6108 5327h0M6192 5419h0M6111 5310h0M6049 5398h0M6061 5441h0M6109 5318h0M6056 5410h0M6123 5459h0M6020 5359h0M6060 5427h0M6114 5312h0M6158 5312h0M6175 5347h0M6125 5481h0M6183 5312h0M6105 5463h0M6052 5330h0M6063 5416h0M6276 5332h0M6070 5346h0M5984 5372h0M6032 5392h0M6132 5446h0M6048 5327h0M6034 5366h0M6080 5333h0M6038 5530h0M6269 5368h0M6085 5483h0M6171 5445h0M6216 5372h0M6175 5435h0M6063 5463h0M6035 5338h0M6077 5333h0M6188 5415h0M6192 5394h0M6125 5332h0M6070 5433h0M6121 5448h0M6053 5418h0M6164 5361h0M6056 5426h0M6116 5472h0M6052 5229h0M6177 5357h0M6215 5390h0M6204 5443h0M6091 5447h0M6046 5407h0M6253 5404h0M6077 5471h0M6131 5334h0M6149 5442h0M6231 5379h0M5988 5384h0M6173 5334h0M6205 5392h0M6071 5561h0M6229 5421h0M6199 5394h0M6143 5503h0M6039 5387h0M5959 5388h0M6065 5477h0M6147 5304h0M6101 5326h0M6180 5387h0M6057 5270h0M6061 5300h0M6078 5345h0M6155 5474h0M6158 5331h0M6054 5426h0M6042 5359h0M6169 5300h0M6018 5336h0M6184 5390h0M6184 5389h0M6151 5343h0M6187 5408h0M6065 5323h0M6177 5333h0M6192 5289h0M6087 5321h0M6062 5449h0M6034 5400h0M6119 5448h0M6114 5506h0M6064 5361h0M6031 5363h0M6175 5442h0M6166 5360h0M6156 5328h0M6041 5333h0M6170 5479h0M6058 5428h0M6114 5465h0M6148 5463h0M6081 5327h0M6157 5483h0M6149 5451h0M6183 5401h0M6171 5421h0M6195 5400h0M6070 5448h0M6173 5414h0M6064 5504h0M6051 5376h0M6128 5454h0M6056 5389h0M6044 5424h0M5994 5344h0M6201 5341h0M6113 5502h0M6078 5450h0M6207 5401h0M6128 5270h0M6120 5469h0M6203 5444h0M6068 5345h0M6174 5472h0M6224 5343h0M6058 5344h0M6208 5349h0M6187 5430h0M6169 5369h0M6166 5288h0M6135 5275h0M6160 5347h0M6146 5304h0M6190 5436h0M6114 5329h0M6228 5468h0M6168 5369h0M6275 5367h0M6174 5427h0M6180 5396h0M6066 5374h0M6123 5449h0M6062 5361h0M6222 5312h0M6046 5407h0M6117 5295h0M6173 5453h0M6210 5404h0M6019 5444h0M6058 5371h0M6033 5386h0M6176 5500h0M6021 5352h0M6131 5488h0M6145 5439h0M6060 5420h0M6122 5450h0M6184 5291h0M6071 5340h0M6146 5475h0M6149 5317h0M6298 5295h0M6067 5318h0M6192 5324h0M6149 5468h0M6116 5479h0M6174 5460h0M6087 5341h0M6194 5341h0M6150 5475h0M6137 5330h0M6071 5291h0M6116 5454h0M6145 5333h0M6110 5452h0M6102 5459h0M6234 5324h0M6124 5519h0M6031 5339h0M6170 5422h0M6105 5334h0M6110 5479h0M6005 5464h0M6194 5321h0M6211 5386h0M6111 5489h0M6225 5377h0M6234 5379h0M6066 5420h0M6174 5462h0M6017 5434h0M6171 5442h0M6185 5394h0M6105 5326h0M6089 5453h0M6118 5336h0M6191 5307h0M6119 5485h0M6077 5461h0M6196 5445h0M6234 5386h0M6171 5464h0M6093 5523h0M6146 5315h0M6131 5311h0M6054 5429h0M6134 5469h0M6213 5430h0M6069 5433h0M6174 5363h0M6071 5468h0M5990 5379h0M6050 5381h0M6190 5420h0M6286 5350h0M6155 5326h0M6043 5417h0M6058 5441h0M6130 5304h0M6040 5406h0M6183 5336h0M6076 5528h0M6014 5417h0M6068 5316h0M6190 5361h0M6207 5486h0M6229 5399h0M6035 5414h0M6162 5449h0M6084 5462h0M6199 5415h0M6055 5288h0M6164 5429h0M6073 5330h0M6155 5448h0M6034 5283h0M6043 5401h0M6112 5238h0M6171 5515h0M6228 5383h0M6144 5339h0M6087 5334h0M6147 5340h0M6178 5370h0M6187 5363h0M6179 5404h0M6235 5509h0M6190 5409h0M6054 5437h0M6188 5371h0M6191 5390h0M6081 5331h0M6176 5432h0M6130 5301h0M6043 5332h0M6190 5307h0M6057 5364h0M6054 5401h0M6143 5455h0M6176 5359h0M6335 5386h0M6166 5479h0M6075 5433h0M6080 5477h0M6185 5333h0M6019 5431h0M6197 5399h0M6002 5377h0M6169 5419h0M6238 5396h0M6105 5283h0M6160 5427h0M6059 5444h0M6116 5482h0M6192 5427h0M6041 5421h0M6070 5434h0M6196 5372h0M6171 5351h0M6199 5405h0M6175 5407h0M6122 5332h0M6186 5451h0M6101 5313h0M6065 5287h0M6265 5340h0M6070 5361h0M6060 5426h0M6077 5349h0M6071 5275h0M6179 5402h0M6093 5479h0M6054 5359h0M6161 5464h0M6166 5449h0M6069 5350h0M6089 5339h0M6137 5455h0M6066 5408h0M6063 5357h0M6083 5336h0M6124 5286h0M6136 5333h0M6160 5343h0M6220 5426h0M6036 5397h0M6065 5406h0M6052 5357h0M6014 5476h0M6066 5442h0M6109 5450h0M6115 5477h0M5976 5449h0M6145 5507h0M6208 5436h0M6172 5373h0M6039 5294h0M6036 5452h0M6050 5383h0M6073 5530h0M6141 5461h0M6124 5525h0M6015 5405h0M6082 5447h0M6176 5443h0M6188 5423h0M6186 5338h0M6116 5480h0M6130 5470h0M6178 5376h0M6173 5396h0M6036 5397h0M6073 5340h0M6167 5498h0M6049 5333h0M6190 5305h0M5963 5436h0M6219 5457h0M6230 5404h0M6096 5312h0M6147 5322h0M6215 5405h0M6178 5404h0M6025 5379h0M6074 5300h0M6031 5350h0M6138 5452h0M6112 5290h0M6178 5367h0M6174 5378h0M6176 5329h0M6186 5393h0M6179 5421h0M6176 5513h0M6024 5378h0M6085 5488h0M6049 5371h0M6146 5447h0M6224 5331h0M6052 5402h0M6171 5373h0M6033 5437h0M6175 5347h0M6165 5356h0M6040 5380h0M6067 5361h0M6040 5342h0M6055 5342h0M6125 5446h0M6216 5361h0M6211 5371h0M6154 5475h0M6104 5492h0M6051 5419h0M6074 5314h0M6219 5408h0M6073 5442h0M6009 5282h0M6144 5478h0M6268 5331h0M6142 5285h0M6045 5403h0M6100 5538h0M6175 5465h0M6153 5332h0M6137 5296h0M6141 5330h0M6188 5298h0M6101 5333h0M6075 5433h0M6185 5327h0M6071 5340h0M6169 5474h0M6179 5374h0M6069 5319h0M6070 5447h0M6164 5298h0M6198 5374h0M6087 5466h0M6136 5444h0M6154 5456h0M6232 5414h0M6051 5337h0M6157 5436h0M6034 5340h0M6186 5425h0M6158 5312h0M6063 5354h0M6023 5388h0M6046 5391h0M6130 5336h0M6090 5343h0M6114 5328h0M6186 5352h0M6168 5422h0M6068 5337h0M6056 5341h0M6209 5345h0M6050 5389h0M6072 5353h0M6118 5453h0M6090 5442h0M6198 5369h0M6049 5423h0M6172 5328h0M6178 5425h0M6183 5340h0M6162 5436h0M6143 5451h0M6121 5454h0M6164 5330h0M6026 5347h0M6154 5287h0M6043 5313h0M6057 5336h0M6083 5444h0M6173 5441h0M6150 5320h0M6198 5320h0M6121 5471h0M6013 5421h0M6180 5408h0M6095 5318h0M6082 5432h0M6025 5387h0M6059 5379h0M6137 5329h0M6062 5366h0M6133 5477h0M6161 5256h0M6174 5404h0M6077 5350h0M6081 5462h0M6049 5424h0M6086 5254h0M6119 5290h0M6092 5338h0M6056 5436h0M6073 5450h0M6170 5454h0M6028 5422h0M6125 5325h0M6142 5337h0M5986 5414h0M6097 5453h0M6072 5332h0M6129 5265h0M6096 5490h0M6101 5320h0M6193 5470h0M6171 5346h0M6191 5324h0M6030 5326h0M6042 5352h0M6208 5306h0M6215 5437h0M6127 5446h0M6052 5462h0M6054 5395h0M6183 5367h0M6084 5315h0M6152 5463h0M6035 5334h0M6057 5452h0M6090 5445h0M6146 5327h0M6044 5503h0M6219 5425h0M6211 5386h0M6160 5431h0M6086 5438h0M6065 5333h0M6242 5331h0M6175 5372h0M6077 5435h0M6211 5452h0M6074 5249h0M6196 5370h0M6062 5488h0M6169 5412h0M5962 5406h0M6067 5470h0M6204 5362h0M6183 5437h0M6053 5380h0M6115 5311h0M6175 5309h0M6030 5306h0M6174 5372h0M6170 5453h0M6115 5286h0M6001 5364h0M6049 5415h0M6119 5489h0M6069 5277h0M6058 5325h0M6050 5452h0M6144 5325h0M6194 5547h0M6141 5469h0M6078 5522h0M6176 5442h0M6170 5332h0M6108 5454h0M6041 5318h0M6039 5461h0M6176 5379h0M6076 5461h0M6033 5283h0M6032 5406h0M6094 5333h0M6124 5483h0M6163 5307h0M6171 5364h0M6042 5411h0M6158 5335h0M6144 5468h0M6232 5429h0M6062 5340h0M6056 5409h0M6151 5324h0M6208 5392h0M6183 5417h0M6204 5443h0M6016 5420h0M6180 5384h0M6126 5292h0M6060 5284h0M6151 5345h0M6185 5357h0M6102 5457h0M6178 5377h0M6081 5303h0M6189 5379h0M6052 5409h0M6031 5372h0M6049 5403h0M6180 5357h0M6178 5351h0M6086 5449h0M6009 5345h0M6170 5421h0M6167 5448h0M6098 5447h0M6218 5378h0M6189 5444h0M6023 5366h0M6141 5275h0M6223 5430h0M6145 5464h0M6048 5464h0M6054 5396h0M6129 5260h0M6114 5526h0M6205 5479h0M6064 5381h0M6055 5491h0M6213 5310h0M6064 5414h0M6009 5437h0M6062 5474h0M6114 5267h0M6208 5398h0M6243 5422h0M6171 5370h0M6067 5432h0M6218 5381h0M6095 5484h0M6227 5442h0M6050 5314h0M6124 5317h0M6072 5471h0M6197 5429h0M6131 5331h0M6049 5346h0M6034 5477h0M6088 5343h0M6006 5409h0M6188 5394h0M6202 5470h0M6050 5388h0M6180 5470h0M6232 5464h0M6160 5353h0M6186 5365h0M6038 5323h0M6177 5427h0M6049 5414h0M6061 5447h0M5996 5426h0M6071 5303h0M6048 5498h0M6072 5351h0M6242 5429h0M6122 5327h0M6064 5350h0M6007 5437h0M6197 5386h0M6050 5401h0M6194 5374h0M6115 5330h0M6241 5440h0M6195 5339h0M6133 5286h0M6165 5424h0M6052 5282h0M6118 5320h0M6235 5275h0M6057 5331h0M6048 5449h0M6238 5411h0M6128 5313h0M6006 5351h0M6032 5393h0M6120 5530h0M6101 5281h0M6202 5371h0M6051 5437h0M6056 5476h0M6061 5433h0M6115 5280h0M6118 5326h0M6169 5362h0M6037 5431h0M6129 5328h0M6214 5415h0M6129 5456h0M6092 5328h0M6101 5503h0M6117 5460h0M6133 5297h0M6031 5481h0M6222 5381h0M6170 5440h0M6026 5410h0M6096 5310h0M6164 5341h0M6033 5432h0M6120 5468h0M6170 5445h0M6103 5271h0M6062 5360h0M6223 5390h0M6044 5435h0M6110 5319h0M6174 5434h0M6190 5370h0M6194 5407h0M6137 5300h0M6070 5444h0M6103 5335h0M6178 5439h0M6122 5471h0M6164 5450h0M6067 5356h0M6220 5353h0M6117 5325h0M6059 5349h0M6120 5313h0M6130 5454h0M6127 5326h0M6049 5354h0M6201 5386h0M6131 5458h0M6059 5405h0M6056 5349h0M6096 5479h0M6061 5369h0M6017 5527h0M6195 5432h0M6106 5316h0M6043 5411h0M6154 5284h0M6059 5393h0M6108 5506h0M6148 5334h0M6036 5348h0M6184 5363h0M6061 5379h0M6165 5349h0M6202 5270h0M6241 5349h0M6045 5415h0M6154 5444h0M6178 5349h0M6037 5404h0M6151 5333h0M6067 5447h0M6051 5428h0M6051 5411h0M6062 5375h0M6122 5313h0M6095 5340h0M6114 5315h0M6072 5249h0M6012 5561h0M6180 5418h0M6175 5409h0M6099 5462h0M6117 5460h0M6009 5450h0M6189 5469h0M6175 5397h0M6083 5442h0M6056 5428h0M6071 5431h0M6181 5402h0M6086 5296h0M6089 5488h0M6070 5349h0M6045 5393h0M6199 5448h0M6071 5347h0M6135 5463h0M6058 5494h0M6166 5464h0M6168 5333h0M6158 5351h0M6040 5418h0M6072 5308h0M6198 5444h0M6087 5464h0M6144 5341h0M6062 5379h0M6182 5374h0M6241 5337h0M6145 5336h0M6182 5317h0M6076 5429h0M6070 5445h0M6072 5357h0M6048 5393h0M6192 5498h0M6160 5589h0M6108 5311h0M6270 5383h0M6062 5346h0M6051 5420h0M6044 5364h0M6163 5348h0M6080 5350h0M6147 5533h0M6180 5415h0M6073 5437h0M6048 5390h0M6023 5398h0M6051 5440h0M6158 5338h0M6177 5303h0M6171 5470h0M6239 5435h0M6129 5331h0M6123 5258h0M6194 5449h0M6110 5451h0M6060 5398h0M6170 5448h0M6108 5458h0M6209 5351h0M5987 5375h0M6052 5399h0M6023 5405h0M6039 5412h0M6074 5341h0M6062 5442h0M6031 5338h0M6044 5416h0M6025 5307h0M6070 5463h0M6123 5450h0M6163 5349h0M6181 5418h0M6158 5301h0M5983 5455h0M6103 5307h0M6180 5305h0M6090 5441h0M6191 5399h0M6190 5468h0M6168 5331h0M6181 5370h0M6180 5384h0M6112 5282h0M6134 5280h0M6202 5425h0M6032 5394h0M6049 5431h0M6163 5354h0M6086 5444h0M6071 5419h0M6084 5260h0M6029 5436h0M6138 5452h0M6171 5366h0M6132 5288h0M6166 5434h0M6056 5375h0M6178 5237h0M6077 5429h0M6192 5389h0M6073 5328h0M6170 5359h0M6111 5288h0M6179 5300h0M6028 5392h0M6045 5373h0M6064 5452h0M6216 5396h0M6108 5494h0M6187 5342h0M6108 5334h0M6080 5350h0M6146 5336h0M6058 5344h0M6164 5345h0M6054 5409h0M6145 5450h0M6195 5354h0M6130 5497h0M6017 5391h0M6135 5337h0M6016 5412h0M6204 5387h0M6018 5404h0M6121 5280h0M6091 5451h0M6043 5335h0M6133 5462h0M6100 5317h0M6182 5414h0M6170 5314h0M6140 5340h0M6172 5453h0M6174 5440h0M6079 5431h0M6179 5358h0M6165 5431h0M6208 5341h0M6228 5483h0M6065 5343h0M6076 5462h0M6077 5514h0M6046 5350h0M6057 5259h0M6078 5468h0M6189 5390h0M6072 5337h0M6052 5379h0M6162 5450h0M6161 5449h0M6124 5316h0M6076 5453h0M6117 5480h0M6175 5319h0M6123 5468h0M6179 5471h0M6111 5324h0M6062 5493h0M6194 5451h0M6172 5297h0M6116 5449h0M6157 5459h0M6109 5458h0M6006 5476h0M6177 5452h0M6171 5329h0M6045 5494h0M6048 5406h0M6169 5293h0M6161 5448h0M6171 5326h0M6142 5339h0M6056 5446h0M6076 5317h0M6037 5366h0M6070 5422h0M6144 5330h0M6034 5407h0M6155 5310h0M6155 5440h0M6106 5332h0M6198 5405h0M6060 5420h0M6086 5299h0M6117 5335h0M6172 5412h0M6126 5329h0M6042 5432h0M5983 5374h0M6136 5299h0M6068 5441h0M6083 5447h0M5981 5348h0M6164 5427h0M6146 5312h0M6036 5402h0M6199 5299h0M6135 5322h0M6055 5370h0M6080 5438h0M6001 5399h0M6081 5478h0M6036 5371h0M6127 5459h0M6186 5409h0M6083 5459h0M6078 5485h0M6161 5438h0M6264 5429h0M6051 5321h0M6196 5446h0M6215 5451h0M6178 5396h0M6073 5310h0M6087 5447h0M6191 5381h0M6242 5389h0M6070 5428h0M6140 5464h0M6179 5395h0M6156 5345h0M6049 5353h0M6180 5492h0M6153 5336h0M6051 5389h0M6039 5281h0M6148 5309h0M6127 5311h0M6199 5402h0M6131 5506h0M6066 5414h0M6214 5386h0M6050 5358h0M6170 5320h0M6234 5423h0M6017 5403h0M6179 5399h0M6154 5244h0M6176 5438h0M6042 5382h0M6200 5312h0M6187 5320h0M6113 5494h0M6108 5301h0M6107 5324h0M6147 5477h0M6104 5285h0M6075 5468h0M6080 5316h0M6056 5375h0M6060 5314h0M6151 5341h0M6128 5329h0M6129 5477h0M6172 5321h0M6022 5451h0M6172 5459h0M6173 5381h0M6242 5373h0M6127 5452h0M6069 5327h0M6056 5266h0M6149 5326h0M6055 5408h0M6064 5324h0M6196 5345h0M6059 5408h0M6066 5456h0M6176 5343h0M6012 5388h0M6064 5449h0M6178 5409h0M6014 5404h0M6194 5391h0M6179 5339h0M6220 5483h0M6096 5335h0M6209 5398h0M6071 5323h0M6159 5316h0M5963 5426h0M6014 5370h0M6133 5492h0M6072 5465h0M6065 5437h0M6085 5468h0M6090 5478h0M6017 5384h0M6120 5449h0M6188 5447h0M6093 5340h0M6037 5440h0M6139 5490h0M6068 5465h0M6047 5505h0M6222 5404h0M6122 5331h0M6060 5413h0M6149 5336h0M6065 5226h0M6049 5413h0M6102 5320h0M6216 5395h0M6182 5391h0M6182 5447h0M6185 5390h0M6197 5438h0M6158 5327h0M6186 5347h0M6213 5333h0M6041 5422h0M6055 5431h0M6080 5344h0M6118 5310h0M6169 5305h0M6065 5406h0M6109 5462h0M6036 5489h0M6131 5326h0M6033 5417h0M6053 5445h0M6151 5513h0M6037 5404h0M6149 5337h0M6239 5431h0M6067 5430h0M6013 5436h0M6071 5475h0M6138 5479h0M6028 5418h0M6211 5384h0M6018 5365h0M6207 5396h0M6135 5287h0M6040 5484h0M6084 5337h0M6175 5410h0M6018 5445h0M6185 5314h0M6147 5296h0M5984 5419h0M6223 5358h0M6078 5482h0M6138 5487h0M6111 5335h0M6068 5366h0M6062 5321h0M6103 5305h0M6106 5331h0M6160 5449h0M6043 5387h0M6069 5323h0M6137 5446h0M6023 5395h0M6051 5443h0M6171 5295h0M6149 5329h0M6139 5503h0M6125 5472h0M6034 5372h0M6100 5328h0M6174 5330h0M6104 5444h0M6171 5417h0M6199 5464h0M6157 5504h0M6181 5451h0M6212 5422h0M6205 5337h0M6169 5481h0M6068 5428h0M6094 5457h0M6140 5327h0M6040 5296h0M6140 5455h0M6128 5446h0M6170 5417h0M6034 5441h0M6190 5415h0M6080 5452h0M6085 5447h0M6113 5328h0M6081 5320h0M6070 5462h0M6091 5339h0M6066 5432h0M6152 5325h0M6132 5331h0M6013 5367h0M6189 5401h0M6092 5456h0M6088 5455h0M5988 5388h0M6174 5350h0M6060 5399h0M6040 5381h0M6186 5356h0M6188 5395h0M6116 5306h0M6043 5294h0M6211 5362h0M6114 5478h0M6007 5439h0M6115 5281h0M6043 5419h0M6059 5292h0M6053 5385h0M6137 5321h0M6020 5417h0M6157 5470h0M6103 5463h0M6051 5395h0M6051 5475h0M6179 5361h0M6137 5292h0M6055 5365h0M6171 5262h0M6044 5382h0M6033 5397h0M6041 5369h0M6081 5432h0M6094 5330h0M6040 5477h0M6170 5353h0M6034 5409h0M6125 5317h0M6030 5406h0M6070 5454h0M5961 5342h0M6016 5374h0M6111 5473h0M6070 5476h0M6133 5444h0M6003 5342h0M6155 5327h0M6060 5422h0M6062 5343h0M6148 5450h0M6039 5413h0M6182 5368h0M6129 5313h0M6100 5334h0M6051 5420h0M6145 5488h0M6144 5330h0M6005 5381h0M6144 5466h0M6082 5348h0M6127 5313h0M6139 5443h0M6128 5308h0M6182 5395h0M6015 5341h0M6221 5367h0M6034 5437h0M6158 5339h0M6202 5401h0M6090 5486h0M6101 5444h0M6101 5446h0M6119 5456h0M6061 5461h0M6098 5457h0M6084 5321h0M6036 5387h0M6160 5435h0M6193 5497h0M6052 5448h0M6033 5419h0M6184 5420h0M6123 5544h0M6083 5448h0M6146 5326h0M6050 5468h0M6066 5411h0M6208 5479h0M6143 5476h0M6154 5441h0M6054 5333h0M6058 5481h0M6197 5326h0M6200 5385h0M6026 5497h0M6136 5455h0M6046 5278h0M6162 5355h0M5980 5346h0M6118 5313h0M6176 5366h0M6059 5405h0M6055 5463h0M6169 5518h0M6098 5459h0M6203 5419h0M6066 5295h0M6212 5344h0M6188 5427h0M6114 5323h0M6106 5481h0M6181 5404h0M6058 5337h0M6162 5268h0M6145 5295h0M6173 5413h0M6147 5329h0M6054 5413h0M6069 5433h0M6039 5357h0M6164 5335h0M6196 5368h0M6040 5433h0M6009 5392h0M6054 5384h0M6153 5311h0M6186 5405h0M6163 5353h0M6083 5313h0M6193 5394h0M6166 5442h0M6084 5309h0M6253 5400h0M6138 5460h0M6112 5490h0M6179 5425h0M6125 5469h0M6055 5380h0M6058 5363h0M6232 5396h0M6068 5330h0M6025 5363h0M6157 5309h0M6180 5448h0M6062 5397h0M6221 5429h0M6021 5454h0M6207 5359h0M6190 5387h0M6040 5323h0M6196 5466h0M6148 5456h0M6168 5367h0M6059 5490h0M6125 5275h0M6018 5407h0M6062 5372h0M6197 5391h0M6234 5417h0M6122 5254h0M6141 5294h0M6217 5465h0M6298 5417h0M6155 5442h0M6111 5471h0M6168 5473h0M6223 5353h0M6167 5463h0M6031 5396h0M6144 5298h0M6121 5321h0M6096 5310h0M6189 5392h0M6123 5483h0M6040 5412h0M6193 5323h0M6031 5348h0M6065 5421h0M6183 5410h0M6176 5416h0M6052 5410h0M6050 5366h0M6098 5454h0M6073 5336h0M6094 5336h0M6053 5467h0M6028 5336h0M6158 5439h0M6211 5421h0M6119 5446h0M6163 5354h0M6061 5527h0M6047 5441h0M6146 5466h0M6051 5416h0M6055 5426h0M6213 5419h0M6140 5444h0M6045 5386h0M6047 5373h0M6054 5374h0M6050 5382h0M6085 5336h0M6069 5360h0M5981 5431h0M6216 5408h0M5987 5335h0M6142 5327h0M6022 5454h0M6145 5242h0M6188 5524h0M6055 5364h0M6161 5428h0M6075 5318h0M6070 5305h0M6134 5334h0M6173 5379h0M6125 5318h0M6085 5443h0M6140 5451h0M6140 5321h0M6145 5488h0M6051 5406h0M6181 5422h0M6176 5342h0M6020 5384h0M6173 5427h0M6090 5286h0M6196 5422h0M6050 5455h0M6097 5475h0M6163 5514h0M6018 5438h0M6031 5302h0M6064 5361h0M6024 5326h0M6015 5371h0M6030 5267h0M6055 5387h0M6071 5507h0M6152 5446h0M6141 5465h0M6148 5455h0M6084 5435h0M6054 5360h0M6216 5422h0M6067 5344h0M6081 5438h0M6182 5327h0M6079 5449h0M6090 5249h0M6019 5297h0M6221 5276h0M6123 5326h0M6147 5460h0M6187 5435h0M6158 5278h0M6203 5400h0M6042 5313h0M6166 5482h0M6033 5455h0M6136 5455h0M6015 5379h0M6063 5425h0M6154 5282h0M6059 5360h0M6107 5470h0M6174 5397h0M6190 5355h0M6079 5458h0M6189 5394h0M6159 5436h0M6023 5342h0M6075 5464h0M6048 5376h0M6018 5456h0M6202 5505h0M6127 5477h0M6107 5462h0M6121 5456h0M6155 5493h0M6337 5412h0M6359 5360h0M6475 5395h0M6486 5371h0M6323 5412h0M6405 5308h0M6420 5466h0M6419 5315h0M6451 5300h0M6458 5314h0M6320 5435h0M6342 5462h0M6456 5338h0M6461 5432h0M6435 5295h0M6442 5323h0M6436 5491h0M6350 5392h0M6510 5371h0M6441 5440h0M6352 5427h0M6362 5416h0M6502 5378h0M6342 5386h0M6487 5370h0M6464 5448h0M6382 5512h0M6475 5348h0M6355 5416h0M6502 5452h0M6358 5517h0M6478 5466h0M6489 5382h0M6453 5463h0M6367 5425h0M6380 5472h0M6440 5451h0M6300 5439h0M6498 5381h0M6329 5364h0M6435 5476h0M6476 5428h0M6363 5445h0M6343 5391h0M6447 5331h0M6365 5317h0M6409 5335h0M6466 5410h0M6401 5324h0M6468 5408h0M6368 5334h0M6361 5362h0M6456 5353h0M6300 5381h0M6534 5392h0M6461 5339h0M6469 5394h0M6469 5309h0M6506 5299h0M6513 5344h0M6352 5378h0M6429 5318h0M6339 5341h0M6484 5411h0M6388 5486h0M6326 5342h0M6308 5387h0M6445 5317h0M6345 5405h0M6457 5433h0M6470 5437h0M6324 5395h0M6405 5452h0M6409 5305h0M6365 5344h0M6357 5485h0M6473 5385h0M6211 5420h0M6511 5421h0M6406 5328h0M6288 5274h0M6344 5335h0M6375 5323h0M6507 5362h0M6360 5460h0M6355 5315h0M6326 5358h0M6461 5447h0M6563 5378h0M6469 5436h0M6361 5338h0M6359 5422h0M6344 5444h0M6433 5309h0M6471 5409h0M6472 5413h0M6391 5314h0M6416 5498h0M6338 5363h0M6390 5455h0M6441 5491h0M6368 5505h0M6318 5458h0M6329 5245h0M6456 5313h0M6353 5292h0M6452 5458h0M6393 5332h0M6392 5332h0M6466 5431h0M6509 5367h0M6401 5468h0M6497 5307h0M6367 5295h0M6507 5330h0M6409 5507h0M6471 5382h0M6460 5359h0M6345 5320h0M6477 5413h0M6462 5280h0M6459 5473h0M6250 5372h0M6408 5487h0M6478 5480h0M6437 5328h0M6446 5335h0M6432 5334h0M6539 5321h0M6387 5331h0M6452 5327h0M6511 5327h0M6344 5418h0M6432 5453h0M6336 5331h0M6358 5405h0M6485 5338h0M6481 5381h0M6401 5468h0M6350 5386h0M6499 5423h0M6470 5424h0M6323 5350h0M6442 5472h0M6430 5445h0M6399 5271h0M6488 5447h0M6374 5344h0M6456 5280h0M6503 5349h0M6440 5442h0M6354 5366h0M6501 5358h0M6467 5405h0M6481 5431h0M6342 5362h0M6412 5455h0M6481 5399h0M6372 5335h0M6422 5299h0M6348 5353h0M6477 5375h0M6455 5304h0M6441 5289h0M6479 5350h0M6334 5404h0M6426 5473h0M6450 5281h0M6306 5395h0M6478 5315h0M6516 5347h0M6402 5268h0M6324 5322h0M6367 5454h0M6455 5453h0M6397 5451h0M6363 5288h0M6468 5300h0M6454 5431h0M6396 5320h0M6454 5474h0M6319 5408h0M6373 5323h0M6409 5507h0M6410 5451h0M6349 5442h0M6383 5485h0M6343 5301h0M6491 5339h0M6413 5454h0M6385 5478h0M6467 5409h0M6360 5409h0M6482 5374h0M6510 5352h0M6431 5448h0M6490 5349h0M6470 5398h0M6435 5315h0M6500 5460h0M6392 5280h0M6481 5509h0M6350 5371h0M6508 5458h0M6432 5332h0M6490 5436h0M6339 5345h0M6475 5347h0M6490 5442h0M6345 5356h0M6562 5421h0M6452 5492h0M6431 5474h0M6397 5308h0M6454 5296h0M6394 5463h0M6399 5458h0M6377 5340h0M6485 5301h0M6492 5392h0M6336 5369h0M6468 5412h0M6473 5461h0M6457 5479h0M6422 5481h0M6505 5356h0M6361 5469h0M6374 5333h0M6446 5302h0M6353 5444h0M6453 5342h0M6334 5393h0M6463 5474h0M6396 5225h0M6487 5398h0M6517 5430h0M6356 5424h0M6562 5299h0M6406 5456h0M6358 5387h0M6421 5458h0M6536 5394h0M6334 5430h0M6545 5394h0M6381 5461h0M6483 5468h0M6448 5468h0M6395 5461h0M6425 5336h0M6431 5268h0M6364 5333h0M6452 5296h0M6389 5336h0M6448 5347h0M6454 5484h0M6322 5374h0M6316 5371h0M6348 5394h0M6374 5312h0M6365 5460h0M6425 5484h0M6470 5335h0M6455 5352h0M6343 5335h0M6338 5434h0M6455 5452h0M6467 5368h0M6387 5336h0M6429 5483h0M6496 5430h0M6352 5344h0M6439 5440h0M6507 5420h0M6474 5486h0M6304 5398h0M6450 5438h0M6373 5451h0M6340 5466h0M6400 5464h0M6453 5289h0M6311 5405h0M6423 5296h0M6454 5499h0M6475 5292h0M6335 5362h0M6338 5327h0M6485 5389h0M6296 5419h0M6376 5326h0M6336 5344h0M6461 5328h0M6446 5446h0M6397 5311h0M6445 5494h0M6425 5475h0M6358 5461h0M6416 5331h0M6313 5324h0M6453 5430h0M6469 5372h0M6493 5347h0M6374 5512h0M6486 5336h0M6365 5343h0M6473 5475h0M6344 5426h0M6478 5374h0M6451 5321h0M6427 5478h0M6409 5510h0M6290 5404h0M6394 5449h0M6356 5315h0M6332 5436h0M6468 5349h0M6359 5410h0M6384 5292h0M6482 5321h0M6348 5331h0M6378 5434h0M6371 5339h0M6518 5446h0M6308 5366h0M6506 5408h0M6537 5450h0M6334 5348h0M6497 5361h0M6339 5396h0M6422 5457h0M6481 5352h0M6417 5289h0M6348 5422h0M6480 5372h0M6445 5338h0M6364 5323h0M6486 5353h0M6462 5435h0M6324 5433h0M6504 5367h0M6488 5368h0M6560 5376h0M6367 5430h0M6370 5295h0M6342 5299h0M6464 5336h0M6437 5336h0M6429 5538h0M6410 5328h0M6346 5398h0M6468 5516h0M6346 5310h0M6456 5427h0M6443 5447h0M6436 5498h0M6492 5411h0M6516 5485h0M6404 5275h0M6445 5454h0M6359 5413h0M6371 5474h0M6441 5323h0M6350 5361h0M6499 5368h0M6372 5441h0M6317 5514h0M6464 5435h0M6309 5343h0M6346 5389h0M6457 5429h0M6300 5278h0M6509 5416h0M6536 5309h0M6476 5361h0M6384 5442h0M6408 5332h0M6465 5347h0M6434 5484h0M6386 5339h0M6522 5374h0M6463 5472h0M6376 5342h0M6457 5342h0M6357 5310h0M6402 5517h0M6380 5452h0M6435 5463h0M6464 5428h0M6317 5434h0M6479 5419h0M6338 5456h0M6431 5326h0M6448 5343h0M6333 5382h0M6339 5402h0M6331 5508h0M6471 5359h0M6328 5425h0M6548 5389h0M6468 5328h0M6387 5292h0M6469 5320h0M6450 5446h0M6497 5392h0M6451 5451h0M6461 5440h0M6366 5474h0M6434 5448h0M6374 5317h0M6357 5366h0M6520 5466h0M6315 5426h0M6438 5285h0M6320 5394h0M6470 5358h0M6339 5427h0M6399 5477h0M6352 5411h0M6356 5416h0M6441 5338h0M6484 5447h0M6421 5455h0M6407 5485h0M6380 5446h0M6473 5390h0M6452 5451h0M6340 5384h0M6491 5397h0M6314 5329h0M6354 5358h0M6461 5334h0M6359 5467h0M6414 5454h0M6442 5307h0M6462 5349h0M6501 5316h0M6533 5369h0M6354 5395h0M6356 5457h0M6394 5309h0M6504 5400h0M6458 5437h0M6231 5424h0M6482 5401h0M6528 5389h0M6447 5457h0M6473 5398h0M6441 5334h0M6480 5348h0M6473 5377h0M6485 5349h0M6345 5326h0M6402 5288h0M6391 5322h0M6511 5312h0M6388 5322h0M6343 5323h0M6342 5401h0M6452 5342h0M6360 5350h0M6395 5321h0M6388 5473h0M6332 5380h0M6462 5444h0M6414 5314h0M6407 5463h0M6518 5337h0M6310 5421h0M6445 5463h0M6511 5324h0M6469 5369h0M6433 5456h0M6368 5428h0M6368 5307h0M6510 5415h0M6382 5344h0M6415 5462h0M6444 5440h0M6414 5319h0M6442 5336h0M6476 5348h0M6382 5447h0M6485 5454h0M6376 5348h0M6312 5339h0M6440 5296h0M6357 5384h0M6346 5382h0M6381 5344h0M6437 5440h0M6552 5362h0M6313 5456h0M6329 5352h0M6484 5462h0M6522 5443h0M6496 5547h0M6501 5423h0M6348 5409h0M6270 5369h0M6569 5363h0M6398 5459h0M6490 5557h0M6511 5395h0M6415 5460h0M6356 5488h0M6419 5460h0M6408 5452h0M6452 5302h0M6352 5421h0M6485 5434h0M6488 5322h0M6474 5354h0M6441 5457h0M6320 5441h0M6511 5279h0M6341 5494h0M6450 5451h0M6356 5373h0M6517 5371h0M6352 5313h0M6479 5300h0M6307 5500h0M6503 5433h0M6455 5490h0M6420 5315h0M6424 5466h0M6348 5397h0M6494 5402h0M6530 5361h0M6386 5264h0M6307 5460h0M6384 5452h0M6461 5352h0M6359 5355h0M6356 5375h0M6423 5511h0M6356 5447h0M6346 5447h0M6413 5488h0M6442 5451h0M6322 5412h0M6422 5253h0M6416 5328h0M6364 5474h0M6356 5323h0M6384 5452h0M6284 5369h0M6496 5387h0M6484 5456h0M6452 5431h0M6437 5461h0M6383 5444h0M6354 5403h0M6460 5435h0M6423 5278h0M6373 5434h0M6359 5316h0M6522 5421h0M6347 5361h0M6562 5403h0M6478 5375h0M6335 5383h0M6404 5271h0M6458 5523h0M6312 5338h0M6484 5450h0M6381 5442h0M6519 5447h0M6506 5449h0M6424 5271h0M6448 5434h0M6385 5297h0M6455 5317h0M6415 5452h0M6314 5382h0M6462 5318h0M6345 5420h0M6487 5371h0M6355 5424h0M6378 5319h0M6415 5323h0M6313 5329h0M6461 5337h0M6375 5543h0M6478 5343h0M6301 5429h0M6420 5447h0M6498 5318h0M6528 5254h0M6450 5309h0M6401 5452h0M6426 5333h0M6365 5494h0M6432 5475h0M6317 5426h0M6389 5333h0M6440 5328h0M6466 5440h0M6406 5301h0M6414 5293h0M6399 5331h0M6397 5334h0M6528 5404h0M6310 5368h0M6537 5383h0M6501 5287h0M6312 5433h0M6439 5313h0M6380 5469h0M6397 5449h0M6303 5334h0M6342 5398h0M6488 5353h0M6456 5344h0M6357 5429h0M6292 5431h0M6500 5441h0M6357 5399h0M6328 5327h0M6416 5332h0M6361 5334h0M6468 5359h0M6529 5420h0M6317 5379h0M6370 5341h0M6473 5385h0M6339 5350h0M6446 5345h0M6454 5447h0M6325 5429h0M6474 5441h0M6463 5326h0M6345 5434h0M6479 5363h0M6485 5404h0M6466 5478h0M6399 5469h0M6498 5387h0M6474 5325h0M6448 5451h0M6371 5464h0M6359 5454h0M6355 5361h0M6343 5301h0M6403 5244h0M6439 5329h0M6423 5446h0M6464 5416h0M6472 5476h0M6369 5468h0M6347 5373h0M6558 5447h0M6334 5390h0M6379 5308h0M6403 5320h0M6523 5374h0M6482 5375h0M6263 5377h0M6469 5328h0M6372 5429h0M6493 5406h0M6335 5381h0M6351 5430h0M6462 5344h0M6480 5396h0M6342 5433h0M6356 5377h0M6472 5375h0M6346 5420h0M6475 5391h0M6432 5314h0M6283 5395h0M6253 5358h0M6387 5327h0M6315 5333h0M6458 5351h0M6478 5385h0M6464 5287h0M6392 5447h0M6466 5334h0M6335 5486h0M6526 5418h0M6481 5384h0M6378 5489h0M6456 5429h0M6433 5336h0M6428 5328h0M6495 5375h0M6497 5354h0M6290 5415h0M6400 5463h0M6443 5465h0M6469 5494h0M6473 5362h0M6379 5445h0M6477 5454h0M6419 5454h0M6324 5421h0M6483 5359h0M6363 5321h0M6440 5301h0M6497 5411h0M6469 5525h0M6419 5302h0M6388 5443h0M6339 5405h0M6468 5297h0M6356 5327h0M6284 5346h0M6495 5400h0M6348 5423h0M6355 5458h0M6412 5309h0M6389 5284h0M6322 5450h0M6398 5258h0M6463 5366h0M6300 5364h0M6408 5469h0M6350 5373h0M6384 5450h0M6348 5392h0M6441 5453h0M6349 5355h0M6354 5447h0M6467 5372h0M6390 5298h0M6273 5334h0M6344 5404h0M6486 5345h0M6333 5410h0M6514 5449h0M6499 5471h0M6357 5327h0M6313 5348h0M6512 5341h0M6346 5472h0M6465 5369h0M6378 5437h0M6414 5457h0M6369 5451h0M6488 5394h0M6327 5477h0M6366 5448h0M6318 5414h0M6471 5449h0M6397 5329h0M6385 5440h0M6456 5458h0M6370 5289h0M6276 5347h0M6311 5372h0M6334 5403h0M6427 5328h0M6472 5472h0M6466 5356h0M6465 5329h0M6477 5387h0M6342 5321h0M6371 5444h0M6330 5367h0M6346 5326h0M6460 5458h0M6295 5319h0M6456 5459h0M6376 5459h0M6417 5326h0M6487 5383h0M6362 5476h0M6332 5424h0M6538 5387h0M6430 5315h0M6505 5405h0M6332 5361h0M6393 5447h0M6412 5324h0M6438 5332h0M6471 5351h0M6368 5484h0M6328 5362h0M6425 5331h0M6488 5446h0M6428 5279h0M6477 5365h0M6507 5418h0M6475 5495h0M6307 5383h0M6506 5374h0M6488 5416h0M6309 5381h0M6434 5452h0M6367 5537h0M6473 5406h0M6303 5415h0M6373 5440h0M6463 5315h0M6312 5516h0M6456 5479h0M6355 5388h0M6435 5320h0M6472 5403h0M6404 5312h0M6507 5353h0M6456 5344h0M6498 5290h0M6319 5395h0M6308 5321h0M6484 5371h0M6406 5448h0M6357 5331h0M6336 5305h0M6371 5466h0M6310 5429h0M6409 5282h0M6439 5340h0M6365 5438h0M6480 5326h0M6280 5412h0M6373 5326h0M6373 5325h0M6484 5523h0M6425 5504h0M6582 5374h0M6388 5298h0M6486 5383h0M6447 5292h0M6393 5450h0M6357 5388h0M6337 5425h0M6405 5334h0M6479 5315h0M6354 5484h0M6409 5471h0M6329 5370h0M6446 5449h0M6405 5276h0M6539 5461h0M6512 5383h0M6440 5313h0M6493 5499h0M6421 5494h0M6348 5328h0M6386 5301h0M6358 5381h0M6472 5408h0M6338 5480h0M6334 5377h0M6408 5316h0M6370 5485h0M6330 5457h0M6477 5394h0M6473 5362h0M6373 5349h0M6335 5472h0M6411 5333h0M6367 5445h0M6352 5451h0M6508 5323h0M6332 5317h0M6301 5411h0M6416 5332h0M6464 5422h0M6466 5433h0M6423 5448h0M6402 5335h0M6388 5332h0M6446 5465h0M6340 5419h0M6448 5441h0M6488 5432h0M6435 5454h0M6377 5349h0M6475 5395h0M6338 5421h0M6488 5406h0M6319 5406h0M6461 5433h0M6432 5461h0M6304 5376h0M6354 5398h0M6326 5429h0M6378 5296h0M6377 5322h0M6328 5406h0M6472 5378h0M6342 5382h0M6435 5329h0M6475 5332h0M6360 5478h0M6463 5311h0M6364 5438h0M6491 5391h0M6431 5305h0M6422 5324h0M6298 5363h0M6362 5347h0M6491 5390h0M6420 5459h0M6361 5433h0M6532 5371h0M6328 5372h0M6470 5457h0M6530 5383h0M6309 5405h0M6442 5312h0M6347 5329h0M6334 5398h0M6464 5364h0M6523 5468h0M6353 5296h0M6382 5340h0M6422 5290h0M6402 5326h0M6385 5444h0M6530 5414h0M6357 5379h0M6358 5362h0M6461 5427h0M6492 5556h0M6526 5328h0M6364 5438h0M6462 5344h0M6349 5399h0M6475 5373h0M6462 5333h0M6403 5472h0M6345 5317h0M6401 5493h0M6465 5425h0M6409 5486h0M6478 5410h0M6417 5305h0M6325 5371h0M6467 5458h0M6317 5419h0M6371 5334h0M6309 5397h0M6490 5513h0M6304 5445h0M6334 5443h0M6348 5452h0M6346 5476h0M6353 5327h0M6366 5452h0M6400 5288h0M6342 5315h0M6442 5454h0M6318 5503h0M6344 5335h0M6418 5329h0M6377 5465h0M6495 5426h0M6360 5324h0M6369 5449h0M6343 5434h0M6338 5393h0M6355 5436h0M6355 5326h0M6521 5323h0M6421 5463h0M6350 5411h0M6464 5449h0M6379 5336h0M6384 5314h0M6349 5410h0M6378 5345h0M6471 5391h0M6307 5383h0M6427 5479h0M6421 5448h0M6386 5324h0M6510 5444h0M6367 5348h0M6438 5448h0M6471 5367h0M6362 5345h0M6452 5448h0M6354 5396h0M6464 5344h0M6425 5303h0M6330 5330h0M6465 5361h0M6378 5344h0M6373 5444h0M6451 5483h0M6504 5375h0M6391 5444h0M6297 5462h0M6307 5366h0M6479 5380h0M6491 5433h0M6413 5333h0M6408 5256h0M6371 5467h0M6363 5343h0M6401 5473h0M6303 5378h0M6483 5441h0M6410 5450h0M6481 5379h0M6477 5377h0M6461 5331h0M6488 5398h0M6442 5448h0M6468 5380h0M6445 5334h0M6410 5222h0M6362 5347h0M6390 5445h0M6424 5448h0M6397 5308h0M6469 5349h0M6501 5438h0M6432 5301h0M6482 5332h0M6515 5466h0M6375 5315h0M6502 5282h0M6344 5308h0M6316 5447h0M6344 5321h0M6358 5347h0M6334 5266h0M6430 5323h0M6368 5433h0M6457 5444h0M6505 5351h0M6467 5354h0M6421 5455h0M6430 5317h0M6491 5456h0M6345 5395h0M6336 5330h0M6349 5437h0M6473 5443h0M6531 5429h0M6430 5450h0M6337 5430h0M6466 5429h0M6406 5334h0M6329 5460h0M6379 5341h0M6394 5486h0M6327 5456h0M6455 5445h0M6398 5473h0M6490 5328h0M6540 5386h0M6391 5462h0M6349 5369h0M6392 5475h0M6329 5345h0M6383 5338h0M6442 5441h0M6484 5325h0M6456 5458h0M6361 5417h0M6491 5331h0M6343 5397h0M6496 5375h0M6303 5286h0M6537 5366h0M6378 5314h0M6525 5421h0M6316 5416h0M6431 5303h0M6396 5303h0M6408 5325h0M6431 5473h0M6389 5314h0M6391 5492h0M6466 5371h0M6485 5410h0M6363 5365h0M6319 5388h0M6363 5415h0M6375 5441h0M6446 5342h0M6297 5433h0M6483 5370h0M6398 5334h0M6360 5341h0M6350 5395h0M6321 5413h0M6342 5336h0M6378 5448h0M6460 5309h0M6332 5306h0M6496 5312h0M6397 5458h0M6517 5388h0M6510 5377h0M6405 5455h0M6319 5371h0M6435 5518h0M6327 5435h0M6476 5371h0M6498 5289h0M6499 5382h0M6338 5549h0M6415 5324h0M6347 5475h0M6467 5406h0M6481 5387h0M6523 5345h0M6409 5321h0M6459 5313h0M6537 5317h0M6459 5315h0M6319 5398h0M6427 5325h0M6351 5435h0M6308 5423h0M6409 5293h0M6497 5423h0M6421 5468h0M6488 5303h0M6484 5328h0M6478 5305h0M6522 5529h0M6499 5421h0M6435 5329h0M6397 5331h0M6449 5442h0M6370 5503h0M6467 5323h0M6360 5424h0M6430 5333h0M6468 5341h0M6434 5443h0M6475 5363h0M6345 5415h0M6433 5457h0M6346 5303h0M6356 5280h0M6477 5439h0M6440 5319h0M6471 5354h0M6371 5428h0M6287 5441h0M6444 5338h0M6505 5374h0M6341 5439h0M6423 5306h0M6367 5348h0M6479 5308h0M6521 5395h0M6476 5353h0M6411 5312h0M6358 5423h0M6468 5395h0M6371 5318h0M6348 5348h0M6356 5337h0M6512 5407h0M6395 5336h0M6322 5417h0M6397 5335h0M6290 5450h0M6354 5357h0M6371 5305h0M6485 5320h0M6318 5537h0M6304 5349h0M6316 5464h0M6411 5334h0M6473 5404h0M6455 5437h0M6309 5432h0M6344 5491h0M6512 5394h0M6379 5443h0M6489 5449h0M6366 5425h0M6343 5384h0M6354 5363h0M6394 5311h0M6401 5450h0M6345 5418h0M6355 5438h0M6501 5387h0M6337 5365h0M6504 5382h0M6302 5403h0M6343 5350h0M6397 5511h0M6444 5345h0M6549 5360h0M6316 5452h0M6514 5427h0M6471 5372h0M6434 5298h0M6353 5409h0M6343 5399h0M6352 5470h0M6437 5458h0M6459 5344h0M6467 5409h0M6493 5356h0M6396 5323h0M6355 5374h0M6468 5403h0M6455 5327h0M6360 5332h0M6481 5458h0M6368 5452h0M6291 5335h0M6453 5453h0M6368 5434h0M6527 5387h0M6353 5293h0M6339 5403h0M6290 5531h0M6373 5352h0M6344 5417h0M6348 5455h0M6483 5489h0M6318 5374h0M6381 5499h0M6551 5394h0M6573 5422h0M6439 5294h0M6343 5431h0M6336 5283h0M6473 5426h0M6499 5401h0M6419 5470h0M6492 5421h0M6472 5360h0M6312 5385h0M6466 5416h0M6555 5276h0M6521 5402h0M6471 5329h0M6310 5365h0M6491 5374h0M6491 5236h0M6356 5396h0M6360 5438h0M6447 5344h0M6318 5451h0M6475 5364h0M6509 5358h0M6422 5305h0M6380 5488h0M6478 5353h0M6461 5424h0M6483 5394h0M6369 5296h0M6381 5443h0M6345 5294h0M6454 5447h0M6317 5471h0M6397 5452h0M6407 5300h0M6323 5367h0M6388 5305h0M6400 5328h0M6414 5474h0M6355 5320h0M6525 5407h0M6440 5241h0M6476 5514h0M6487 5341h0M6468 5350h0M6357 5509h0M6443 5441h0M6425 5336h0M6459 5353h0M6439 5330h0M6447 5300h0M6391 5330h0M6388 5334h0M6359 5401h0M6396 5289h0M6417 5500h0M6430 5331h0M6523 5346h0M6391 5455h0M6324 5285h0M6353 5373h0M6426 5469h0M6294 5442h0M6319 5438h0M6356 5405h0M6386 5448h0M6467 5452h0M6437 5474h0M6345 5310h0M6459 5318h0M6476 5408h0M6435 5316h0M6480 5412h0M6339 5348h0M6417 5270h0M6371 5346h0M6474 5299h0M6477 5401h0M6482 5355h0M6483 5444h0M6452 5276h0M6442 5344h0M6386 5453h0M6444 5437h0M6389 5329h0M6327 5353h0M6394 5447h0M6347 5366h0M6422 5318h0M6440 5439h0M6310 5376h0M6488 5416h0M6341 5457h0M6399 5319h0M6505 5414h0M6471 5465h0M6321 5405h0M6510 5303h0M6397 5444h0M6290 5321h0M6337 5332h0M6323 5330h0M6358 5338h0M6449 5318h0M6426 5315h0M6464 5356h0M6346 5463h0M6514 5369h0M6354 5415h0M6479 5399h0M6346 5407h0M6399 5476h0M6467 5431h0M6376 5307h0M6491 5367h0M6458 5347h0M6368 5448h0M6411 5454h0M6347 5401h0M6450 5449h0M6344 5363h0M6452 5286h0M6354 5376h0M6306 5267h0M6399 5321h0M6460 5351h0M6462 5436h0M6389 5317h0M6321 5392h0M6385 5447h0M6382 5452h0M6485 5366h0M6296 5376h0M6354 5416h0M6480 5397h0M6457 5481h0M6365 5347h0M6456 5464h0M6425 5329h0M6289 5419h0M6406 5473h0M6403 5461h0M6310 5282h0M6395 5338h0M6483 5423h0M6484 5332h0M6333 5374h0M6361 5409h0M6454 5432h0M6349 5340h0M6518 5338h0M6481 5375h0M6352 5415h0M6474 5416h0M6397 5338h0M6376 5321h0M6394 5461h0M6471 5420h0M6487 5440h0M6338 5382h0M6432 5306h0M6351 5351h0M6516 5276h0M6376 5337h0M6409 5336h0M6406 5456h0M6459 5436h0M6431 5300h0M6469 5423h0M6453 5337h0M6508 5265h0M6349 5403h0M6354 5472h0M6298 5400h0M6426 5471h0M6459 5351h0M6387 5326h0M6382 5308h0M6421 5315h0M6472 5366h0M6396 5335h0M6343 5418h0M6476 5458h0M6405 5287h0M6393 5449h0M6421 5452h0M6484 5403h0M6470 5404h0M6379 5269h0M6359 5322h0M6354 5420h0M6348 5362h0M6433 5449h0M6333 5312h0M6394 5337h0M6459 5339h0M6324 5448h0M6372 5441h0M6393 5462h0M6358 5386h0M6344 5402h0M6305 5351h0M6489 5424h0M6300 5482h0M6464 5449h0M6353 5391h0M6335 5409h0M6429 5455h0M6469 5313h0M6388 5513h0M6522 5369h0M6428 5319h0M6361 5344h0M6370 5349h0M6461 5426h0M6441 5265h0M6494 5304h0M6484 5363h0M6363 5356h0M6511 5497h0M6577 5403h0M6375 5479h0M6349 5327h0M6447 5451h0M6412 5518h0M6484 5458h0M6327 5337h0M6405 5334h0M6459 5270h0M6425 5492h0M6506 5374h0M6501 5382h0M6426 5502h0M6341 5383h0M6357 5417h0M6439 5333h0M6356 5355h0M6351 5383h0M6476 5439h0M6365 5444h0M6479 5441h0M6351 5426h0M6354 5309h0M6393 5332h0M6460 5471h0M6445 5329h0M6422 5447h0M6313 5401h0M6318 5357h0M6349 5409h0M6525 5370h0M6402 5458h0M6357 5417h0M6385 5477h0M6515 5276h0M6319 5356h0M6508 5304h0M6381 5437h0M6402 5447h0M6409 5486h0M6304 5402h0M6436 5461h0M6412 5301h0M6303 5377h0M6480 5418h0M6357 5393h0M6458 5328h0M6389 5334h0M6399 5265h0M6466 5413h0M6347 5356h0M6479 5386h0M6377 5323h0M6491 5492h0M6332 5319h0M6458 5327h0M6489 5461h0M6467 5416h0M6547 5475h0M6339 5393h0M6414 5468h0M6505 5308h0M6336 5467h0M6381 5486h0M6405 5446h0M6330 5412h0M6416 5222h0M6372 5324h0M6352 5338h0M6423 5473h0M6513 5360h0M6439 5446h0M6481 5402h0M6469 5360h0M6442 5456h0M6352 5344h0M6512 5362h0M6493 5288h0M6524 5503h0M6482 5387h0M6478 5336h0M6507 5388h0M6404 5311h0M6400 5455h0M6418 5317h0M6506 5418h0M6348 5395h0M6432 5338h0M6305 5353h0M6469 5316h0M6341 5390h0M6323 5451h0M6468 5389h0M6457 5345h0M6436 5479h0M6350 5325h0M6475 5347h0M6385 5328h0M6478 5405h0M6377 5449h0M6387 5326h0M6294 5331h0M6507 5405h0M6507 5429h0M6434 5256h0M6459 5439h0M6382 5320h0M6361 5359h0M6419 5471h0M6467 5363h0M6474 5416h0M6378 5337h0M6482 5388h0M6365 5333h0M6466 5304h0M6387 5469h0M6335 5429h0M6339 5463h0M6380 5336h0M6378 5339h0M6450 5333h0M6444 5304h0M6499 5414h0M6478 5341h0M6481 5415h0M6414 5454h0M6476 5384h0M6367 5302h0M6434 5470h0M6502 5365h0M6324 5376h0M6349 5487h0M6417 5453h0M6382 5311h0M6520 5332h0M6398 5337h0M6343 5366h0M6350 5442h0M6383 5345h0M6357 5362h0M6530 5327h0M6486 5394h0M6388 5332h0M6353 5425h0M6351 5361h0M6477 5408h0M6484 5310h0M6333 5305h0M6430 5456h0M6348 5417h0M6305 5373h0M6408 5329h0M6334 5403h0M6444 5285h0M6366 5351h0M6261 5290h0M6454 5352h0M6468 5295h0M6396 5516h0M6362 5364h0M6309 5388h0M6476 5470h0M6467 5417h0M6514 5325h0M6296 5391h0M6469 5366h0M6466 5339h0M6418 5464h0M6480 5467h0M6466 5517h0M6460 5357h0M6310 5445h0M6475 5424h0M6509 5405h0M6330 5369h0M6255 5443h0M6443 5459h0M6475 5425h0M6477 5386h0M6431 5336h0M6373 5446h0M6404 5479h0M6325 5241h0M6366 5463h0M6358 5424h0M6421 5264h0M6475 5310h0M6347 5383h0M6377 5316h0M6385 5442h0M6295 5416h0M6448 5335h0M6368 5332h0M6446 5316h0M6376 5350h0M6448 5475h0M6312 5371h0M6415 5471h0M6320 5366h0M6476 5469h0M6350 5410h0M6410 5322h0M6296 5382h0M6428 5332h0M6448 5470h0M6367 5335h0M6361 5415h0M6422 5324h0M6525 5312h0M6509 5454h0M6415 5487h0M6463 5430h0M6375 5450h0M6455 5312h0M6561 5349h0M6452 5345h0M6363 5355h0M6370 5327h0M6350 5431h0M6379 5448h0M6350 5457h0M6485 5443h0M6443 5438h0M6422 5453h0M6388 5499h0M6402 5291h0M6360 5338h0M6465 5416h0M6442 5452h0M6487 5354h0M6510 5451h0M6346 5386h0M6421 5481h0M6418 5459h0M6366 5435h0M6330 5472h0M6446 5545h0M6325 5401h0M6409 5490h0M6544 5490h0M6363 5362h0M6336 5376h0M6479 5393h0M6444 5449h0M6327 5488h0M6386 5343h0M6329 5399h0M6474 5316h0M6336 5318h0M6338 5347h0M6249 5418h0M6371 5486h0M6491 5314h0M6455 5345h0M6352 5351h0M6355 5310h0M6365 5429h0M6403 5505h0M6347 5473h0M6334 5376h0M6404 5494h0M6397 5485h0M6483 5464h0M6342 5411h0M6496 5343h0M6420 5530h0M6378 5444h0M6357 5329h0M6360 5449h0M6504 5442h0M6358 5410h0M6487 5417h0M6395 5477h0M6477 5418h0M6328 5458h0M6517 5471h0M6372 5349h0M6498 5388h0M6345 5349h0M6468 5399h0M6365 5441h0M6453 5441h0M6364 5491h0M6383 5333h0M6415 5446h0M6375 5437h0M6419 5463h0M6383 5509h0M6368 5423h0M6476 5430h0M6316 5371h0M6417 5488h0M6431 5470h0M6502 5363h0M6331 5342h0M6358 5344h0M6309 5430h0M6343 5452h0M6348 5338h0M6472 5428h0M6385 5447h0M6352 5412h0M6511 5350h0M6485 5445h0M6421 5335h0M6507 5477h0M6365 5362h0M6450 5464h0M6411 5273h0M6386 5458h0M6373 5454h0M6481 5438h0M6442 5438h0M6378 5436h0M6459 5334h0M6219 5503h0M6474 5407h0M6484 5479h0M6346 5463h0M6355 5444h0M6333 5353h0M6417 5324h0M6373 5434h0M6460 5432h0M6485 5498h0M6473 5356h0M6531 5371h0M6385 5474h0M6330 5447h0M6305 5356h0M6381 5266h0M6356 5416h0M6509 5342h0M6383 5282h0M6396 5326h0M6495 5370h0M6342 5348h0M6351 5418h0M6470 5328h0M6487 5320h0M6357 5500h0M6367 5423h0M6469 5353h0M6375 5446h0M6502 5354h0M6349 5395h0M6322 5425h0M6405 5320h0M6386 5452h0M6359 5360h0M6369 5323h0M6446 5448h0M6463 5306h0M6507 5416h0M6475 5455h0M6464 5487h0M6495 5426h0M6470 5408h0M6441 5529h0M6434 5495h0M6380 5470h0M6464 5480h0M6553 5311h0M6443 5291h0M6360 5348h0M6384 5512h0M6424 5485h0M6350 5324h0M6331 5347h0M6350 5334h0M6505 5265h0M6351 5391h0M6368 5432h0M6469 5327h0M6435 5536h0M6376 5484h0M6479 5351h0M6347 5352h0M6469 5420h0M6514 5404h0M6494 5453h0M6429 5450h0M6456 5440h0M6372 5445h0M6394 5448h0M6479 5416h0M6441 5301h0M6332 5371h0" stroke="#0000ff" stroke-width="6" stroke-linecap="square" fill="none"/>
<line x1="616.2" y1="493" x2="601.5" y2="476.5" stroke="#000" stroke-width="1.6"/>
<polygon points="597.5,472.5 604.6,475.4 599.6,479.8" fill="#000" stroke="none" stroke-width="1"/>
<rect x="392.8" y="356.5" width="289.2" height="220.5" fill="none" stroke="#111" stroke-width="1.3" rx="0"/>
<line x1="427.02" y1="577" x2="427.02" y2="574" stroke="#111" stroke-width="1"/>
<line x1="427.02" y1="356.5" x2="427.02" y2="359.5" stroke="#111" stroke-width="1"/>
<text x="427.02" y="591" font-size="11" text-anchor="middle" fill="#000">4</text>
<line x1="462.34" y1="577" x2="462.34" y2="574" stroke="#111" stroke-width="1"/>
<line x1="462.34" y1="356.5" x2="462.34" y2="359.5" stroke="#111" stroke-width="1"/>
<text x="462.34" y="591" font-size="11" text-anchor="middle" fill="#000">8</text>
<line x1="497.66" y1="577" x2="497.66" y2="574" stroke="#111" stroke-width="1"/>
<line x1="497.66" y1="356.5" x2="497.66" y2="359.5" stroke="#111" stroke-width="1"/>
<text x="497.66" y="591" font-size="11" text-anchor="middle" fill="#000">12</text>
<line x1="532.98" y1="577" x2="532.98" y2="574" stroke="#111" stroke-width="1"/>
<line x1="532.98" y1="356.5" x2="532.98" y2="359.5" stroke="#111" stroke-width="1"/>
<text x="532.98" y="591" font-size="11" text-anchor="middle" fill="#000">16</text>
<line x1="568.3" y1="577" x2="568.3" y2="574" stroke="#111" stroke-width="1"/>
<line x1="568.3" y1="356.5" x2="568.3" y2="359.5" stroke="#111" stroke-width="1"/>
<text x="568.3" y="591" font-size="11" text-anchor="middle" fill="#000">20</text>
<line x1="603.62" y1="577" x2="603.62" y2="574" stroke="#111" stroke-width="1"/>
<line x1="603.62" y1="356.5" x2="603.62" y2="359.5" stroke="#111" stroke-width="1"/>
<text x="603.62" y="591" font-size="11" text-anchor="middle" fill="#000">24</text>
<line x1="638.94" y1="577" x2="638.94" y2="574" stroke="#111" stroke-width="1"/>
<line x1="638.94" y1="356.5" x2="638.94" y2="359.5" stroke="#111" stroke-width="1"/>
<text x="638.94" y="591" font-size="11" text-anchor="middle" fill="#000">28</text>
<line x1="674.26" y1="577" x2="674.26" y2="574" stroke="#111" stroke-width="1"/>
<line x1="674.26" y1="356.5" x2="674.26" y2="359.5" stroke="#111" stroke-width="1"/>
<text x="674.26" y="591" font-size="11" text-anchor="middle" fill="#000">32</text>
<line x1="392.8" y1="409.4" x2="395.8" y2="409.4" stroke="#111" stroke-width="1"/>
<line x1="682" y1="409.4" x2="679" y2="409.4" stroke="#111" stroke-width="1"/>
<line x1="392.8" y1="483.82" x2="395.8" y2="483.82" stroke="#111" stroke-width="1"/>
<line x1="682" y1="483.82" x2="679" y2="483.82" stroke="#111" stroke-width="1"/>
<line x1="392.8" y1="536.62" x2="395.8" y2="536.62" stroke="#111" stroke-width="1"/>
<line x1="682" y1="536.62" x2="679" y2="536.62" stroke="#111" stroke-width="1"/>
<text x="387.5" y="413.8" font-size="11" text-anchor="end" fill="#000">2</text>
<text x="387.5" y="488.22" font-size="11" text-anchor="end" fill="#000">3</text>
<text x="387.5" y="541.02" font-size="11" text-anchor="end" fill="#000">4</text>
<text x="387.5" y="581.97" font-size="11" text-anchor="end" fill="#000">5</text>
<text x="536.8" y="607.8" font-size="11.5" text-anchor="middle" fill="#000">Ring channels</text>
<text x="370.3" y="467.6" font-size="11.6" text-anchor="middle" fill="#000" transform="rotate(-90 370.3 467.6)">-Log<tspan font-size="8" dy="2.7">10</tspan><tspan dy="-2.7">(BER)</tspan></text>
</svg>
</body></html>
